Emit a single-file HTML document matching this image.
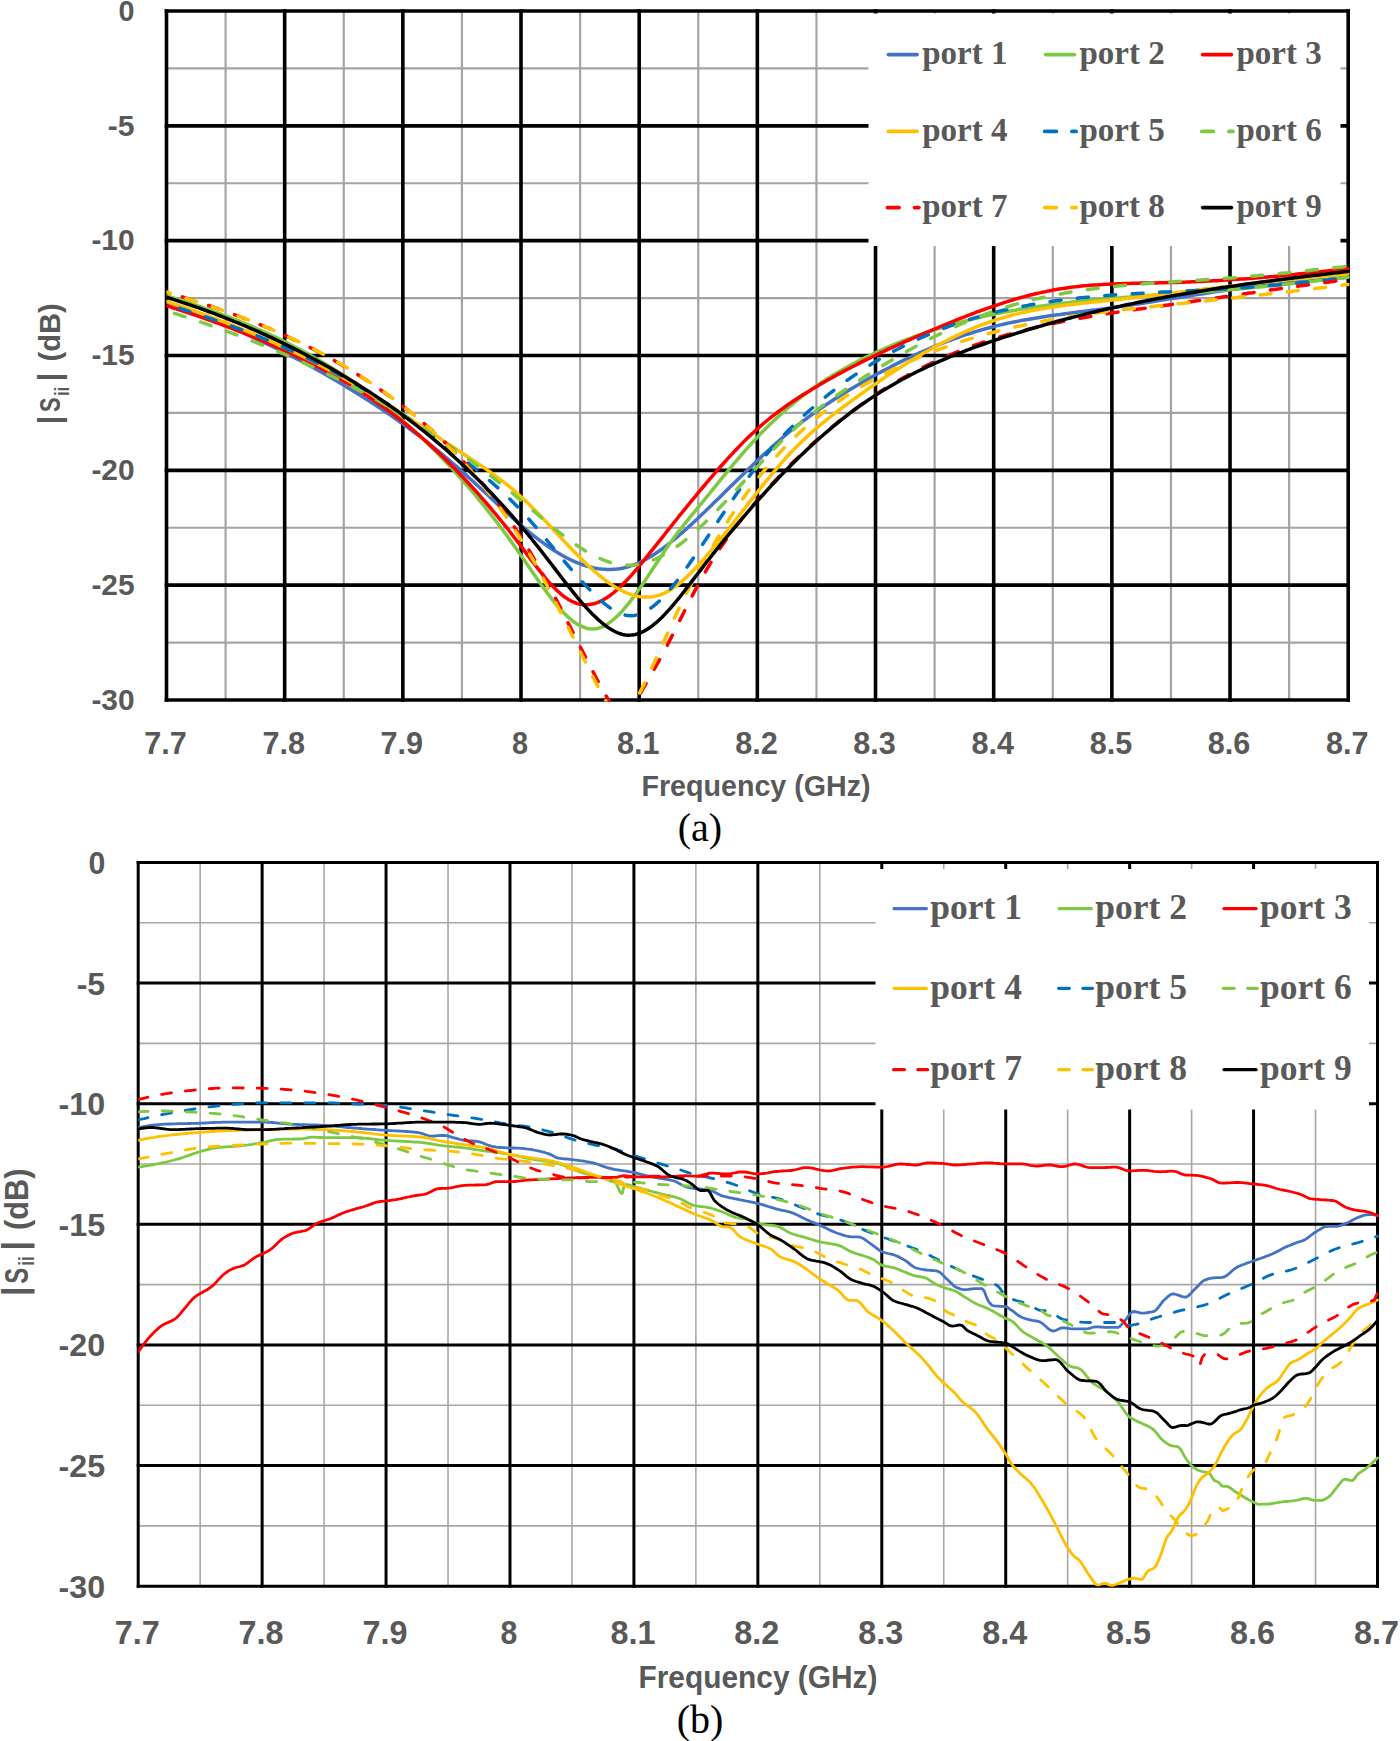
<!DOCTYPE html>
<html lang="en"><head><meta charset="utf-8"><title>|Sii| versus frequency, ports 1-9</title>
<style>html,body{margin:0;padding:0;background:#fff}svg{display:block}</style></head>
<body>
<svg width="1400" height="1741" viewBox="0 0 1400 1741">
<rect width="1400" height="1741" fill="#fff"/>
<defs>
<clipPath id="ct"><rect x="166.5" y="11.0" width="1183.2" height="690.5"/></clipPath>
<clipPath id="cb"><rect x="138.2" y="862.5" width="1240.8" height="724.9000000000001"/></clipPath>
</defs>
<g id="chart-a">
<line x1="225.59" y1="11.0" x2="225.59" y2="700.0" stroke="#a8a3a3" stroke-width="2.2"/>
<line x1="343.75" y1="11.0" x2="343.75" y2="700.0" stroke="#a8a3a3" stroke-width="2.2"/>
<line x1="461.93" y1="11.0" x2="461.93" y2="700.0" stroke="#a8a3a3" stroke-width="2.2"/>
<line x1="580.10" y1="11.0" x2="580.10" y2="700.0" stroke="#a8a3a3" stroke-width="2.2"/>
<line x1="698.27" y1="11.0" x2="698.27" y2="700.0" stroke="#a8a3a3" stroke-width="2.2"/>
<line x1="816.44" y1="11.0" x2="816.44" y2="700.0" stroke="#a8a3a3" stroke-width="2.2"/>
<line x1="934.61" y1="11.0" x2="934.61" y2="700.0" stroke="#a8a3a3" stroke-width="2.2"/>
<line x1="1052.78" y1="11.0" x2="1052.78" y2="700.0" stroke="#a8a3a3" stroke-width="2.2"/>
<line x1="1170.95" y1="11.0" x2="1170.95" y2="700.0" stroke="#a8a3a3" stroke-width="2.2"/>
<line x1="1289.12" y1="11.0" x2="1289.12" y2="700.0" stroke="#a8a3a3" stroke-width="2.2"/>
<line x1="166.5" y1="68.42" x2="1348.2" y2="68.42" stroke="#a8a3a3" stroke-width="2.2"/>
<line x1="166.5" y1="183.25" x2="1348.2" y2="183.25" stroke="#a8a3a3" stroke-width="2.2"/>
<line x1="166.5" y1="298.08" x2="1348.2" y2="298.08" stroke="#a8a3a3" stroke-width="2.2"/>
<line x1="166.5" y1="412.92" x2="1348.2" y2="412.92" stroke="#a8a3a3" stroke-width="2.2"/>
<line x1="166.5" y1="527.75" x2="1348.2" y2="527.75" stroke="#a8a3a3" stroke-width="2.2"/>
<line x1="166.5" y1="642.58" x2="1348.2" y2="642.58" stroke="#a8a3a3" stroke-width="2.2"/>
<line x1="166.50" y1="9.20" x2="166.50" y2="701.80" stroke="#000" stroke-width="3.6"/>
<line x1="284.67" y1="9.20" x2="284.67" y2="701.80" stroke="#000" stroke-width="3.6"/>
<line x1="402.84" y1="9.20" x2="402.84" y2="701.80" stroke="#000" stroke-width="3.6"/>
<line x1="521.01" y1="9.20" x2="521.01" y2="701.80" stroke="#000" stroke-width="3.6"/>
<line x1="639.18" y1="9.20" x2="639.18" y2="701.80" stroke="#000" stroke-width="3.6"/>
<line x1="757.35" y1="9.20" x2="757.35" y2="701.80" stroke="#000" stroke-width="3.6"/>
<line x1="875.52" y1="9.20" x2="875.52" y2="701.80" stroke="#000" stroke-width="3.6"/>
<line x1="993.69" y1="9.20" x2="993.69" y2="701.80" stroke="#000" stroke-width="3.6"/>
<line x1="1111.86" y1="9.20" x2="1111.86" y2="701.80" stroke="#000" stroke-width="3.6"/>
<line x1="1230.03" y1="9.20" x2="1230.03" y2="701.80" stroke="#000" stroke-width="3.6"/>
<line x1="1348.20" y1="9.20" x2="1348.20" y2="701.80" stroke="#000" stroke-width="3.6"/>
<line x1="164.70" y1="11.00" x2="1350.00" y2="11.00" stroke="#000" stroke-width="3.6"/>
<line x1="164.70" y1="125.83" x2="1350.00" y2="125.83" stroke="#000" stroke-width="3.6"/>
<line x1="164.70" y1="240.67" x2="1350.00" y2="240.67" stroke="#000" stroke-width="3.6"/>
<line x1="164.70" y1="355.50" x2="1350.00" y2="355.50" stroke="#000" stroke-width="3.6"/>
<line x1="164.70" y1="470.33" x2="1350.00" y2="470.33" stroke="#000" stroke-width="3.6"/>
<line x1="164.70" y1="585.17" x2="1350.00" y2="585.17" stroke="#000" stroke-width="3.6"/>
<line x1="164.70" y1="700.00" x2="1350.00" y2="700.00" stroke="#000" stroke-width="3.6"/>
<g clip-path="url(#ct)">
<path d="M166.5,301.9 L169.5,303.0 L172.5,304.1 L175.5,305.2 L178.5,306.3 L181.5,307.4 L184.5,308.5 L187.5,309.7 L190.5,310.8 L193.5,312.0 L196.5,313.1 L199.5,314.3 L202.5,315.5 L205.5,316.7 L208.5,317.9 L211.5,319.1 L214.5,320.4 L217.5,321.6 L220.5,322.9 L223.5,324.2 L226.5,325.4 L229.5,326.7 L232.5,328.0 L235.5,329.3 L238.5,330.7 L241.5,332.0 L244.5,333.3 L247.5,334.7 L250.5,336.1 L253.5,337.5 L256.5,338.9 L259.5,340.3 L262.5,341.7 L265.5,343.1 L268.5,344.6 L271.5,346.0 L274.5,347.5 L277.5,349.0 L280.5,350.5 L283.5,352.0 L286.5,353.5 L289.5,355.0 L292.5,356.6 L295.5,358.2 L298.5,359.7 L301.5,361.3 L304.5,362.9 L307.5,364.5 L310.5,366.2 L313.5,367.8 L316.5,369.5 L319.5,371.2 L322.5,372.8 L325.5,374.5 L328.5,376.3 L331.5,378.0 L334.5,379.7 L337.5,381.5 L340.5,383.3 L343.5,385.1 L346.5,386.9 L349.5,388.7 L352.5,390.5 L355.5,392.4 L358.5,394.2 L361.5,396.1 L364.5,398.0 L367.5,399.9 L370.5,401.9 L373.5,403.8 L376.5,405.8 L379.5,407.8 L382.5,409.8 L385.5,411.8 L388.5,413.9 L391.5,415.9 L394.5,418.0 L397.5,420.1 L400.5,422.3 L403.5,424.4 L406.5,426.6 L409.5,428.8 L412.5,431.0 L415.5,433.3 L418.5,435.5 L421.5,437.8 L424.5,440.2 L427.5,442.5 L430.5,444.9 L433.5,447.3 L436.5,449.7 L439.5,452.1 L442.5,454.6 L445.5,457.1 L448.5,459.6 L451.5,462.2 L454.5,464.8 L457.5,467.4 L460.5,470.1 L463.5,472.7 L466.5,475.4 L469.5,478.2 L472.5,480.9 L475.5,483.7 L478.5,486.5 L481.5,489.2 L484.5,492.0 L487.5,494.8 L490.5,497.6 L493.5,500.4 L496.5,503.2 L499.5,506.0 L502.5,508.8 L505.5,511.5 L508.5,514.2 L511.5,516.9 L514.5,519.6 L517.5,522.2 L520.5,524.8 L523.5,527.4 L526.5,529.9 L529.5,532.4 L532.5,534.8 L535.5,537.2 L538.5,539.5 L541.5,541.7 L544.5,543.9 L547.5,546.0 L550.5,548.1 L553.5,550.1 L556.5,552.0 L559.5,553.8 L562.5,555.5 L565.5,557.2 L568.5,558.7 L571.5,560.2 L574.5,561.6 L577.5,562.8 L580.5,564.0 L583.5,565.0 L586.5,566.0 L589.5,566.8 L592.5,567.6 L595.5,568.2 L598.5,568.7 L601.5,569.1 L604.5,569.3 L607.5,569.5 L610.5,569.5 L613.5,569.3 L616.5,569.1 L619.5,568.7 L622.5,568.2 L625.5,567.5 L628.5,566.7 L631.5,565.7 L634.5,564.6 L637.5,563.4 L640.5,562.1 L643.5,560.6 L646.5,559.0 L649.5,557.3 L652.5,555.4 L655.5,553.5 L658.5,551.5 L661.5,549.4 L664.5,547.2 L667.5,544.9 L670.5,542.5 L673.5,540.1 L676.5,537.6 L679.5,535.0 L682.5,532.4 L685.5,529.7 L688.5,527.0 L691.5,524.3 L694.5,521.5 L697.5,518.7 L700.5,515.8 L703.5,513.0 L706.5,510.1 L709.5,507.2 L712.5,504.3 L715.5,501.3 L718.5,498.4 L721.5,495.5 L724.5,492.5 L727.5,489.6 L730.5,486.6 L733.5,483.7 L736.5,480.7 L739.5,477.8 L742.5,474.9 L745.5,472.0 L748.5,469.1 L751.5,466.2 L754.5,463.3 L757.5,460.4 L760.5,457.6 L763.5,454.8 L766.5,452.0 L769.5,449.3 L772.5,446.6 L775.5,443.9 L778.5,441.2 L781.5,438.6 L784.5,436.0 L787.5,433.5 L790.5,431.0 L793.5,428.6 L796.5,426.2 L799.5,423.8 L802.5,421.5 L805.5,419.3 L808.5,417.0 L811.5,414.9 L814.5,412.7 L817.5,410.6 L820.5,408.5 L823.5,406.5 L826.5,404.4 L829.5,402.5 L832.5,400.5 L835.5,398.6 L838.5,396.7 L841.5,394.8 L844.5,392.9 L847.5,391.1 L850.5,389.3 L853.5,387.5 L856.5,385.7 L859.5,384.0 L862.5,382.2 L865.5,380.5 L868.5,378.8 L871.5,377.1 L874.5,375.5 L877.5,373.8 L880.5,372.2 L883.5,370.6 L886.5,369.0 L889.5,367.5 L892.5,365.9 L895.5,364.4 L898.5,362.9 L901.5,361.4 L904.5,359.9 L907.5,358.5 L910.5,357.1 L913.5,355.7 L916.5,354.3 L919.5,352.9 L922.5,351.6 L925.5,350.3 L928.5,349.0 L931.5,347.7 L934.5,346.5 L937.5,345.2 L940.5,344.0 L943.5,342.8 L946.5,341.7 L949.5,340.5 L952.5,339.4 L955.5,338.3 L958.5,337.3 L961.5,336.2 L964.5,335.2 L967.5,334.2 L970.5,333.3 L973.5,332.3 L976.5,331.4 L979.5,330.5 L982.5,329.6 L985.5,328.8 L988.5,328.0 L991.5,327.2 L994.5,326.4 L997.5,325.6 L1000.5,324.9 L1003.5,324.2 L1006.5,323.5 L1009.5,322.9 L1012.5,322.3 L1015.5,321.7 L1018.5,321.1 L1021.5,320.5 L1024.5,319.9 L1027.5,319.4 L1030.5,318.9 L1033.5,318.4 L1036.5,317.9 L1039.5,317.4 L1042.5,316.9 L1045.5,316.5 L1048.5,316.0 L1051.5,315.6 L1054.5,315.2 L1057.5,314.8 L1060.5,314.4 L1063.5,313.9 L1066.5,313.6 L1069.5,313.2 L1072.5,312.8 L1075.5,312.4 L1078.5,312.0 L1081.5,311.6 L1084.5,311.3 L1087.5,310.9 L1090.5,310.5 L1093.5,310.1 L1096.5,309.8 L1099.5,309.4 L1102.5,309.0 L1105.5,308.6 L1108.5,308.2 L1111.5,307.8 L1114.5,307.4 L1117.5,307.0 L1120.5,306.5 L1123.5,306.1 L1126.5,305.7 L1129.5,305.2 L1132.5,304.8 L1135.5,304.3 L1138.5,303.9 L1141.5,303.4 L1144.5,302.9 L1147.5,302.5 L1150.5,302.0 L1153.5,301.5 L1156.5,301.0 L1159.5,300.6 L1162.5,300.1 L1165.5,299.6 L1168.5,299.1 L1171.5,298.6 L1174.5,298.2 L1177.5,297.7 L1180.5,297.2 L1183.5,296.7 L1186.5,296.2 L1189.5,295.8 L1192.5,295.3 L1195.5,294.8 L1198.5,294.3 L1201.5,293.9 L1204.5,293.4 L1207.5,293.0 L1210.5,292.5 L1213.5,292.1 L1216.5,291.6 L1219.5,291.2 L1222.5,290.8 L1225.5,290.3 L1228.5,289.9 L1231.5,289.5 L1234.5,289.1 L1237.5,288.7 L1240.5,288.3 L1243.5,288.0 L1246.5,287.6 L1249.5,287.2 L1252.5,286.9 L1255.5,286.5 L1258.5,286.2 L1261.5,285.8 L1264.5,285.5 L1267.5,285.1 L1270.5,284.8 L1273.5,284.5 L1276.5,284.2 L1279.5,283.9 L1282.5,283.5 L1285.5,283.2 L1288.5,282.9 L1291.5,282.6 L1294.5,282.3 L1297.5,282.0 L1300.5,281.7 L1303.5,281.4 L1306.5,281.2 L1309.5,280.9 L1312.5,280.6 L1315.5,280.3 L1318.5,280.0 L1321.5,279.7 L1324.5,279.4 L1327.5,279.2 L1330.5,278.9 L1333.5,278.6 L1336.5,278.3 L1339.5,278.0 L1342.5,277.8 L1348.2,277.2" fill="none" stroke="#4472C4" stroke-width="3.5" stroke-linecap="round" stroke-linejoin="round"/>
<path d="M166.5,295.9 L169.5,296.8 L172.5,297.7 L175.5,298.7 L178.5,299.6 L181.5,300.6 L184.5,301.5 L187.5,302.5 L190.5,303.5 L193.5,304.5 L196.5,305.5 L199.5,306.5 L202.5,307.5 L205.5,308.6 L208.5,309.6 L211.5,310.7 L214.5,311.8 L217.5,312.9 L220.5,314.0 L223.5,315.1 L226.5,316.2 L229.5,317.4 L232.5,318.6 L235.5,319.7 L238.5,320.9 L241.5,322.2 L244.5,323.4 L247.5,324.6 L250.5,325.9 L253.5,327.2 L256.5,328.5 L259.5,329.8 L262.5,331.2 L265.5,332.5 L268.5,333.9 L271.5,335.3 L274.5,336.7 L277.5,338.1 L280.5,339.6 L283.5,341.1 L286.5,342.6 L289.5,344.1 L292.5,345.6 L295.5,347.2 L298.5,348.8 L301.5,350.4 L304.5,352.0 L307.5,353.6 L310.5,355.3 L313.5,357.0 L316.5,358.7 L319.5,360.5 L322.5,362.3 L325.5,364.1 L328.5,365.9 L331.5,367.7 L334.5,369.6 L337.5,371.5 L340.5,373.5 L343.5,375.4 L346.5,377.4 L349.5,379.4 L352.5,381.5 L355.5,383.6 L358.5,385.7 L361.5,387.8 L364.5,390.0 L367.5,392.2 L370.5,394.4 L373.5,396.7 L376.5,399.0 L379.5,401.3 L382.5,403.7 L385.5,406.1 L388.5,408.5 L391.5,411.0 L394.5,413.5 L397.5,416.0 L400.5,418.6 L403.5,421.2 L406.5,423.8 L409.5,426.5 L412.5,429.2 L415.5,432.0 L418.5,434.8 L421.5,437.6 L424.5,440.5 L427.5,443.4 L430.5,446.3 L433.5,449.3 L436.5,452.4 L439.5,455.4 L442.5,458.5 L445.5,461.7 L448.5,464.9 L451.5,468.1 L454.5,471.4 L457.5,474.7 L460.5,478.1 L463.5,481.5 L466.5,484.9 L469.5,488.4 L472.5,491.9 L475.5,495.5 L478.5,499.1 L481.5,502.8 L484.5,506.5 L487.5,510.3 L490.5,514.1 L493.5,517.9 L496.5,521.8 L499.5,525.8 L502.5,529.8 L505.5,533.8 L508.5,537.9 L511.5,542.0 L514.5,546.2 L517.5,550.4 L520.5,554.7 L523.5,559.1 L526.5,563.4 L529.5,567.8 L532.5,572.2 L535.5,576.5 L538.5,580.9 L541.5,585.1 L544.5,589.3 L547.5,593.4 L550.5,597.3 L553.5,601.1 L556.5,604.8 L559.5,608.3 L562.5,611.5 L565.5,614.6 L568.5,617.4 L571.5,620.0 L574.5,622.3 L577.5,624.2 L580.5,625.9 L583.5,627.2 L586.5,628.2 L589.5,628.8 L592.5,629.0 L595.5,628.8 L598.5,628.2 L601.5,627.2 L604.5,625.8 L607.5,624.0 L610.5,621.9 L613.5,619.5 L616.5,616.8 L619.5,613.9 L622.5,610.7 L625.5,607.2 L628.5,603.6 L631.5,599.7 L634.5,595.7 L637.5,591.6 L640.5,587.3 L643.5,582.9 L646.5,578.4 L649.5,573.9 L652.5,569.3 L655.5,564.8 L658.5,560.2 L661.5,555.7 L664.5,551.2 L667.5,546.8 L670.5,542.5 L673.5,538.3 L676.5,534.3 L679.5,530.4 L682.5,526.5 L685.5,522.8 L688.5,519.1 L691.5,515.4 L694.5,511.8 L697.5,508.2 L700.5,504.5 L703.5,500.8 L706.5,497.2 L709.5,493.5 L712.5,489.8 L715.5,486.1 L718.5,482.4 L721.5,478.7 L724.5,475.1 L727.5,471.4 L730.5,467.8 L733.5,464.2 L736.5,460.6 L739.5,457.1 L742.5,453.6 L745.5,450.2 L748.5,446.8 L751.5,443.5 L754.5,440.2 L757.5,437.0 L760.5,433.8 L763.5,430.7 L766.5,427.7 L769.5,424.8 L772.5,421.9 L775.5,419.1 L778.5,416.3 L781.5,413.6 L784.5,410.9 L787.5,408.3 L790.5,405.8 L793.5,403.3 L796.5,400.9 L799.5,398.5 L802.5,396.2 L805.5,393.9 L808.5,391.7 L811.5,389.5 L814.5,387.4 L817.5,385.3 L820.5,383.3 L823.5,381.3 L826.5,379.3 L829.5,377.4 L832.5,375.6 L835.5,373.7 L838.5,371.9 L841.5,370.2 L844.5,368.5 L847.5,366.8 L850.5,365.2 L853.5,363.5 L856.5,362.0 L859.5,360.4 L862.5,358.9 L865.5,357.4 L868.5,356.0 L871.5,354.5 L874.5,353.1 L877.5,351.7 L880.5,350.4 L883.5,349.1 L886.5,347.7 L889.5,346.5 L892.5,345.2 L895.5,343.9 L898.5,342.7 L901.5,341.5 L904.5,340.4 L907.5,339.2 L910.5,338.1 L913.5,337.0 L916.5,335.9 L919.5,334.8 L922.5,333.8 L925.5,332.7 L928.5,331.7 L931.5,330.7 L934.5,329.8 L937.5,328.8 L940.5,327.9 L943.5,327.0 L946.5,326.1 L949.5,325.2 L952.5,324.4 L955.5,323.5 L958.5,322.7 L961.5,321.9 L964.5,321.1 L967.5,320.4 L970.5,319.6 L973.5,318.9 L976.5,318.2 L979.5,317.5 L982.5,316.8 L985.5,316.1 L988.5,315.4 L991.5,314.8 L994.5,314.2 L997.5,313.6 L1000.5,313.0 L1003.5,312.4 L1006.5,311.8 L1009.5,311.2 L1012.5,310.7 L1015.5,310.2 L1018.5,309.6 L1021.5,309.1 L1024.5,308.6 L1027.5,308.1 L1030.5,307.7 L1033.5,307.2 L1036.5,306.8 L1039.5,306.3 L1042.5,305.9 L1045.5,305.5 L1048.5,305.1 L1051.5,304.7 L1054.5,304.3 L1057.5,303.9 L1060.5,303.5 L1063.5,303.2 L1066.5,302.8 L1069.5,302.5 L1072.5,302.1 L1075.5,301.8 L1078.5,301.5 L1081.5,301.2 L1084.5,300.9 L1087.5,300.6 L1090.5,300.3 L1093.5,300.0 L1096.5,299.7 L1099.5,299.4 L1102.5,299.2 L1105.5,298.9 L1108.5,298.6 L1111.5,298.4 L1114.5,298.1 L1117.5,297.9 L1120.5,297.7 L1123.5,297.4 L1126.5,297.2 L1129.5,297.0 L1132.5,296.7 L1135.5,296.5 L1138.5,296.3 L1141.5,296.1 L1144.5,295.9 L1147.5,295.6 L1150.5,295.4 L1153.5,295.2 L1156.5,295.0 L1159.5,294.8 L1162.5,294.6 L1165.5,294.4 L1168.5,294.2 L1171.5,294.0 L1174.5,293.8 L1177.5,293.6 L1180.5,293.4 L1183.5,293.2 L1186.5,293.0 L1189.5,292.8 L1192.5,292.5 L1195.5,292.3 L1198.5,292.1 L1201.5,291.9 L1204.5,291.7 L1207.5,291.5 L1210.5,291.2 L1213.5,291.0 L1216.5,290.8 L1219.5,290.5 L1222.5,290.3 L1225.5,290.0 L1228.5,289.8 L1231.5,289.5 L1234.5,289.3 L1237.5,289.0 L1240.5,288.7 L1243.5,288.5 L1246.5,288.2 L1249.5,287.9 L1252.5,287.6 L1255.5,287.3 L1258.5,287.0 L1261.5,286.7 L1264.5,286.4 L1267.5,286.1 L1270.5,285.8 L1273.5,285.5 L1276.5,285.2 L1279.5,284.9 L1282.5,284.6 L1285.5,284.3 L1288.5,283.9 L1291.5,283.6 L1294.5,283.3 L1297.5,282.9 L1300.5,282.6 L1303.5,282.3 L1306.5,281.9 L1309.5,281.6 L1312.5,281.3 L1315.5,280.9 L1318.5,280.6 L1321.5,280.2 L1324.5,279.9 L1327.5,279.6 L1330.5,279.2 L1333.5,278.9 L1336.5,278.5 L1339.5,278.2 L1342.5,277.8 L1348.2,277.2" fill="none" stroke="#7EC942" stroke-width="3.5" stroke-linecap="round" stroke-linejoin="round"/>
<path d="M166.5,305.7 L169.5,306.7 L172.5,307.7 L175.5,308.6 L178.5,309.6 L181.5,310.6 L184.5,311.6 L187.5,312.6 L190.5,313.6 L193.5,314.6 L196.5,315.7 L199.5,316.7 L202.5,317.7 L205.5,318.8 L208.5,319.9 L211.5,320.9 L214.5,322.0 L217.5,323.1 L220.5,324.2 L223.5,325.3 L226.5,326.4 L229.5,327.6 L232.5,328.7 L235.5,329.9 L238.5,331.1 L241.5,332.2 L244.5,333.4 L247.5,334.6 L250.5,335.8 L253.5,337.1 L256.5,338.3 L259.5,339.6 L262.5,340.8 L265.5,342.1 L268.5,343.4 L271.5,344.7 L274.5,346.0 L277.5,347.3 L280.5,348.7 L283.5,350.1 L286.5,351.4 L289.5,352.8 L292.5,354.2 L295.5,355.6 L298.5,357.1 L301.5,358.5 L304.5,360.0 L307.5,361.5 L310.5,363.0 L313.5,364.5 L316.5,366.1 L319.5,367.7 L322.5,369.3 L325.5,370.9 L328.5,372.5 L331.5,374.2 L334.5,375.8 L337.5,377.5 L340.5,379.3 L343.5,381.0 L346.5,382.8 L349.5,384.6 L352.5,386.5 L355.5,388.3 L358.5,390.2 L361.5,392.1 L364.5,394.1 L367.5,396.0 L370.5,398.1 L373.5,400.1 L376.5,402.2 L379.5,404.3 L382.5,406.4 L385.5,408.6 L388.5,410.8 L391.5,413.0 L394.5,415.3 L397.5,417.6 L400.5,419.9 L403.5,422.3 L406.5,424.7 L409.5,427.2 L412.5,429.6 L415.5,432.2 L418.5,434.7 L421.5,437.3 L424.5,440.0 L427.5,442.6 L430.5,445.4 L433.5,448.1 L436.5,450.9 L439.5,453.7 L442.5,456.6 L445.5,459.5 L448.5,462.5 L451.5,465.5 L454.5,468.5 L457.5,471.6 L460.5,474.7 L463.5,477.8 L466.5,481.0 L469.5,484.2 L472.5,487.5 L475.5,490.8 L478.5,494.2 L481.5,497.6 L484.5,501.0 L487.5,504.5 L490.5,508.0 L493.5,511.6 L496.5,515.2 L499.5,518.8 L502.5,522.5 L505.5,526.2 L508.5,530.0 L511.5,533.8 L514.5,537.7 L517.5,541.6 L520.5,545.5 L523.5,549.5 L526.5,553.6 L529.5,557.6 L532.5,561.6 L535.5,565.5 L538.5,569.4 L541.5,573.2 L544.5,576.9 L547.5,580.5 L550.5,583.9 L553.5,587.1 L556.5,590.1 L559.5,592.8 L562.5,595.4 L565.5,597.6 L568.5,599.5 L571.5,601.2 L574.5,602.5 L577.5,603.6 L580.5,604.3 L583.5,604.7 L586.5,604.8 L589.5,604.6 L592.5,604.1 L595.5,603.3 L598.5,602.2 L601.5,600.8 L604.5,599.1 L607.5,597.2 L610.5,595.1 L613.5,592.8 L616.5,590.2 L619.5,587.5 L622.5,584.6 L625.5,581.6 L628.5,578.4 L631.5,575.1 L634.5,571.6 L637.5,568.1 L640.5,564.5 L643.5,560.9 L646.5,557.2 L649.5,553.4 L652.5,549.7 L655.5,545.9 L658.5,542.1 L661.5,538.3 L664.5,534.5 L667.5,530.7 L670.5,527.0 L673.5,523.2 L676.5,519.5 L679.5,515.7 L682.5,512.0 L685.5,508.3 L688.5,504.6 L691.5,500.9 L694.5,497.3 L697.5,493.7 L700.5,490.0 L703.5,486.5 L706.5,482.9 L709.5,479.4 L712.5,475.8 L715.5,472.4 L718.5,468.9 L721.5,465.5 L724.5,462.2 L727.5,458.9 L730.5,455.6 L733.5,452.4 L736.5,449.2 L739.5,446.1 L742.5,443.0 L745.5,440.1 L748.5,437.1 L751.5,434.3 L754.5,431.5 L757.5,428.7 L760.5,426.1 L763.5,423.5 L766.5,421.0 L769.5,418.5 L772.5,416.1 L775.5,413.8 L778.5,411.5 L781.5,409.3 L784.5,407.2 L787.5,405.0 L790.5,403.0 L793.5,400.9 L796.5,399.0 L799.5,397.0 L802.5,395.1 L805.5,393.2 L808.5,391.4 L811.5,389.6 L814.5,387.8 L817.5,386.0 L820.5,384.2 L823.5,382.5 L826.5,380.8 L829.5,379.1 L832.5,377.4 L835.5,375.8 L838.5,374.1 L841.5,372.5 L844.5,370.9 L847.5,369.3 L850.5,367.8 L853.5,366.2 L856.5,364.7 L859.5,363.1 L862.5,361.6 L865.5,360.1 L868.5,358.7 L871.5,357.2 L874.5,355.8 L877.5,354.3 L880.5,352.9 L883.5,351.5 L886.5,350.1 L889.5,348.7 L892.5,347.3 L895.5,346.0 L898.5,344.6 L901.5,343.3 L904.5,341.9 L907.5,340.6 L910.5,339.3 L913.5,338.0 L916.5,336.7 L919.5,335.4 L922.5,334.1 L925.5,332.8 L928.5,331.6 L931.5,330.3 L934.5,329.0 L937.5,327.8 L940.5,326.5 L943.5,325.3 L946.5,324.1 L949.5,322.8 L952.5,321.6 L955.5,320.4 L958.5,319.2 L961.5,318.0 L964.5,316.8 L967.5,315.7 L970.5,314.5 L973.5,313.4 L976.5,312.2 L979.5,311.1 L982.5,310.0 L985.5,309.0 L988.5,307.9 L991.5,306.8 L994.5,305.8 L997.5,304.8 L1000.5,303.8 L1003.5,302.8 L1006.5,301.9 L1009.5,300.9 L1012.5,300.0 L1015.5,299.1 L1018.5,298.3 L1021.5,297.4 L1024.5,296.6 L1027.5,295.8 L1030.5,295.0 L1033.5,294.3 L1036.5,293.5 L1039.5,292.9 L1042.5,292.2 L1045.5,291.6 L1048.5,290.9 L1051.5,290.4 L1054.5,289.8 L1057.5,289.3 L1060.5,288.8 L1063.5,288.4 L1066.5,287.9 L1069.5,287.5 L1072.5,287.1 L1075.5,286.8 L1078.5,286.4 L1081.5,286.1 L1084.5,285.8 L1087.5,285.6 L1090.5,285.3 L1093.5,285.1 L1096.5,284.9 L1099.5,284.7 L1102.5,284.5 L1105.5,284.3 L1108.5,284.2 L1111.5,284.0 L1114.5,283.9 L1117.5,283.8 L1120.5,283.7 L1123.5,283.6 L1126.5,283.5 L1129.5,283.4 L1132.5,283.3 L1135.5,283.3 L1138.5,283.2 L1141.5,283.1 L1144.5,283.1 L1147.5,283.0 L1150.5,283.0 L1153.5,282.9 L1156.5,282.9 L1159.5,282.8 L1162.5,282.7 L1165.5,282.7 L1168.5,282.6 L1171.5,282.5 L1174.5,282.4 L1177.5,282.4 L1180.5,282.3 L1183.5,282.2 L1186.5,282.1 L1189.5,281.9 L1192.5,281.8 L1195.5,281.7 L1198.5,281.6 L1201.5,281.4 L1204.5,281.3 L1207.5,281.1 L1210.5,281.0 L1213.5,280.8 L1216.5,280.7 L1219.5,280.5 L1222.5,280.3 L1225.5,280.1 L1228.5,279.9 L1231.5,279.7 L1234.5,279.5 L1237.5,279.3 L1240.5,279.1 L1243.5,278.9 L1246.5,278.7 L1249.5,278.5 L1252.5,278.2 L1255.5,278.0 L1258.5,277.8 L1261.5,277.5 L1264.5,277.3 L1267.5,277.0 L1270.5,276.7 L1273.5,276.5 L1276.5,276.2 L1279.5,275.9 L1282.5,275.6 L1285.5,275.3 L1288.5,275.1 L1291.5,274.8 L1294.5,274.5 L1297.5,274.1 L1300.5,273.8 L1303.5,273.5 L1306.5,273.2 L1309.5,272.9 L1312.5,272.6 L1315.5,272.2 L1318.5,271.9 L1321.5,271.6 L1324.5,271.2 L1327.5,270.9 L1330.5,270.6 L1333.5,270.2 L1336.5,269.9 L1339.5,269.5 L1342.5,269.2 L1348.2,268.5" fill="none" stroke="#FF0000" stroke-width="3.5" stroke-linecap="round" stroke-linejoin="round"/>
<path d="M166.5,301.3 L169.5,302.3 L172.5,303.3 L175.5,304.4 L178.5,305.4 L181.5,306.4 L184.5,307.4 L187.5,308.5 L190.5,309.5 L193.5,310.6 L196.5,311.7 L199.5,312.8 L202.5,313.8 L205.5,314.9 L208.5,316.0 L211.5,317.2 L214.5,318.3 L217.5,319.4 L220.5,320.6 L223.5,321.7 L226.5,322.9 L229.5,324.1 L232.5,325.2 L235.5,326.4 L238.5,327.6 L241.5,328.9 L244.5,330.1 L247.5,331.3 L250.5,332.6 L253.5,333.8 L256.5,335.1 L259.5,336.4 L262.5,337.7 L265.5,339.0 L268.5,340.3 L271.5,341.7 L274.5,343.0 L277.5,344.4 L280.5,345.8 L283.5,347.1 L286.5,348.5 L289.5,350.0 L292.5,351.4 L295.5,352.8 L298.5,354.3 L301.5,355.8 L304.5,357.2 L307.5,358.7 L310.5,360.3 L313.5,361.8 L316.5,363.3 L319.5,364.9 L322.5,366.5 L325.5,368.1 L328.5,369.7 L331.5,371.3 L334.5,372.9 L337.5,374.6 L340.5,376.3 L343.5,377.9 L346.5,379.6 L349.5,381.4 L352.5,383.1 L355.5,384.9 L358.5,386.6 L361.5,388.4 L364.5,390.2 L367.5,392.0 L370.5,393.8 L373.5,395.7 L376.5,397.5 L379.5,399.4 L382.5,401.2 L385.5,403.1 L388.5,405.0 L391.5,406.9 L394.5,408.8 L397.5,410.7 L400.5,412.7 L403.5,414.6 L406.5,416.5 L409.5,418.5 L412.5,420.4 L415.5,422.4 L418.5,424.3 L421.5,426.3 L424.5,428.3 L427.5,430.2 L430.5,432.2 L433.5,434.2 L436.5,436.2 L439.5,438.1 L442.5,440.1 L445.5,442.1 L448.5,444.1 L451.5,446.1 L454.5,448.0 L457.5,450.0 L460.5,452.0 L463.5,454.0 L466.5,455.9 L469.5,457.9 L472.5,459.9 L475.5,461.9 L478.5,463.9 L481.5,465.9 L484.5,468.0 L487.5,470.1 L490.5,472.2 L493.5,474.4 L496.5,476.6 L499.5,478.8 L502.5,481.1 L505.5,483.5 L508.5,485.9 L511.5,488.4 L514.5,490.9 L517.5,493.5 L520.5,496.2 L523.5,499.0 L526.5,501.8 L529.5,504.7 L532.5,507.7 L535.5,510.8 L538.5,513.8 L541.5,517.0 L544.5,520.1 L547.5,523.3 L550.5,526.5 L553.5,529.8 L556.5,533.0 L559.5,536.2 L562.5,539.4 L565.5,542.6 L568.5,545.8 L571.5,549.0 L574.5,552.1 L577.5,555.1 L580.5,558.1 L583.5,561.1 L586.5,564.0 L589.5,566.8 L592.5,569.6 L595.5,572.2 L598.5,574.8 L601.5,577.2 L604.5,579.6 L607.5,581.8 L610.5,583.9 L613.5,585.9 L616.5,587.7 L619.5,589.4 L622.5,591.0 L625.5,592.4 L628.5,593.6 L631.5,594.6 L634.5,595.5 L637.5,596.2 L640.5,596.7 L643.5,597.0 L646.5,597.1 L649.5,597.0 L652.5,596.7 L655.5,596.1 L658.5,595.3 L661.5,594.3 L664.5,593.1 L667.5,591.6 L670.5,589.9 L673.5,587.9 L676.5,585.8 L679.5,583.4 L682.5,580.9 L685.5,578.1 L688.5,575.3 L691.5,572.3 L694.5,569.2 L697.5,566.0 L700.5,562.7 L703.5,559.3 L706.5,555.9 L709.5,552.4 L712.5,548.8 L715.5,545.2 L718.5,541.5 L721.5,537.8 L724.5,534.1 L727.5,530.3 L730.5,526.5 L733.5,522.7 L736.5,518.8 L739.5,515.0 L742.5,511.1 L745.5,507.3 L748.5,503.4 L751.5,499.6 L754.5,495.8 L757.5,492.0 L760.5,488.2 L763.5,484.4 L766.5,480.7 L769.5,477.0 L772.5,473.4 L775.5,469.9 L778.5,466.4 L781.5,462.9 L784.5,459.5 L787.5,456.2 L790.5,453.0 L793.5,449.9 L796.5,446.8 L799.5,443.8 L802.5,440.9 L805.5,438.1 L808.5,435.3 L811.5,432.6 L814.5,429.9 L817.5,427.4 L820.5,424.8 L823.5,422.3 L826.5,419.9 L829.5,417.5 L832.5,415.1 L835.5,412.8 L838.5,410.5 L841.5,408.2 L844.5,406.0 L847.5,403.8 L850.5,401.6 L853.5,399.4 L856.5,397.3 L859.5,395.1 L862.5,393.0 L865.5,390.9 L868.5,388.7 L871.5,386.6 L874.5,384.6 L877.5,382.5 L880.5,380.5 L883.5,378.4 L886.5,376.4 L889.5,374.4 L892.5,372.4 L895.5,370.5 L898.5,368.5 L901.5,366.6 L904.5,364.7 L907.5,362.8 L910.5,361.0 L913.5,359.2 L916.5,357.3 L919.5,355.6 L922.5,353.8 L925.5,352.1 L928.5,350.4 L931.5,348.7 L934.5,347.0 L937.5,345.4 L940.5,343.8 L943.5,342.2 L946.5,340.7 L949.5,339.1 L952.5,337.7 L955.5,336.2 L958.5,334.8 L961.5,333.4 L964.5,332.0 L967.5,330.7 L970.5,329.4 L973.5,328.1 L976.5,326.9 L979.5,325.7 L982.5,324.6 L985.5,323.5 L988.5,322.4 L991.5,321.3 L994.5,320.3 L997.5,319.4 L1000.5,318.4 L1003.5,317.5 L1006.5,316.7 L1009.5,315.8 L1012.5,315.0 L1015.5,314.3 L1018.5,313.6 L1021.5,312.9 L1024.5,312.2 L1027.5,311.5 L1030.5,310.9 L1033.5,310.3 L1036.5,309.7 L1039.5,309.2 L1042.5,308.7 L1045.5,308.2 L1048.5,307.7 L1051.5,307.2 L1054.5,306.8 L1057.5,306.3 L1060.5,305.9 L1063.5,305.5 L1066.5,305.1 L1069.5,304.7 L1072.5,304.4 L1075.5,304.0 L1078.5,303.7 L1081.5,303.3 L1084.5,303.0 L1087.5,302.7 L1090.5,302.3 L1093.5,302.0 L1096.5,301.7 L1099.5,301.4 L1102.5,301.1 L1105.5,300.8 L1108.5,300.5 L1111.5,300.1 L1114.5,299.8 L1117.5,299.5 L1120.5,299.2 L1123.5,298.8 L1126.5,298.5 L1129.5,298.1 L1132.5,297.8 L1135.5,297.5 L1138.5,297.1 L1141.5,296.8 L1144.5,296.4 L1147.5,296.0 L1150.5,295.7 L1153.5,295.3 L1156.5,295.0 L1159.5,294.6 L1162.5,294.2 L1165.5,293.9 L1168.5,293.5 L1171.5,293.1 L1174.5,292.8 L1177.5,292.4 L1180.5,292.0 L1183.5,291.7 L1186.5,291.3 L1189.5,290.9 L1192.5,290.6 L1195.5,290.2 L1198.5,289.8 L1201.5,289.5 L1204.5,289.1 L1207.5,288.7 L1210.5,288.4 L1213.5,288.0 L1216.5,287.7 L1219.5,287.3 L1222.5,286.9 L1225.5,286.6 L1228.5,286.2 L1231.5,285.9 L1234.5,285.5 L1237.5,285.2 L1240.5,284.8 L1243.5,284.5 L1246.5,284.2 L1249.5,283.8 L1252.5,283.5 L1255.5,283.2 L1258.5,282.8 L1261.5,282.5 L1264.5,282.2 L1267.5,281.9 L1270.5,281.5 L1273.5,281.2 L1276.5,280.9 L1279.5,280.6 L1282.5,280.3 L1285.5,280.0 L1288.5,279.6 L1291.5,279.3 L1294.5,279.0 L1297.5,278.7 L1300.5,278.4 L1303.5,278.1 L1306.5,277.8 L1309.5,277.5 L1312.5,277.2 L1315.5,276.9 L1318.5,276.6 L1321.5,276.3 L1324.5,276.0 L1327.5,275.7 L1330.5,275.4 L1333.5,275.1 L1336.5,274.8 L1339.5,274.5 L1342.5,274.2 L1348.2,273.7" fill="none" stroke="#FFC000" stroke-width="3.5" stroke-linecap="round" stroke-linejoin="round"/>
<path d="M166.5,304.1 L169.5,305.0 L172.5,306.0 L175.5,306.9 L178.5,307.9 L181.5,308.9 L184.5,309.8 L187.5,310.8 L190.5,311.8 L193.5,312.8 L196.5,313.8 L199.5,314.8 L202.5,315.8 L205.5,316.9 L208.5,317.9 L211.5,318.9 L214.5,320.0 L217.5,321.0 L220.5,322.1 L223.5,323.2 L226.5,324.3 L229.5,325.4 L232.5,326.5 L235.5,327.6 L238.5,328.7 L241.5,329.9 L244.5,331.0 L247.5,332.2 L250.5,333.3 L253.5,334.5 L256.5,335.7 L259.5,336.9 L262.5,338.2 L265.5,339.4 L268.5,340.6 L271.5,341.9 L274.5,343.2 L277.5,344.5 L280.5,345.8 L283.5,347.1 L286.5,348.5 L289.5,349.8 L292.5,351.2 L295.5,352.6 L298.5,354.0 L301.5,355.4 L304.5,356.8 L307.5,358.3 L310.5,359.8 L313.5,361.3 L316.5,362.8 L319.5,364.3 L322.5,365.8 L325.5,367.4 L328.5,369.0 L331.5,370.6 L334.5,372.2 L337.5,373.9 L340.5,375.5 L343.5,377.2 L346.5,378.9 L349.5,380.7 L352.5,382.4 L355.5,384.2 L358.5,386.0 L361.5,387.8 L364.5,389.6 L367.5,391.5 L370.5,393.3 L373.5,395.2 L376.5,397.1 L379.5,399.1 L382.5,401.0 L385.5,403.0 L388.5,404.9 L391.5,406.9 L394.5,409.0 L397.5,411.0 L400.5,413.0 L403.5,415.1 L406.5,417.2 L409.5,419.3 L412.5,421.4 L415.5,423.5 L418.5,425.6 L421.5,427.8 L424.5,430.0 L427.5,432.2 L430.5,434.4 L433.5,436.6 L436.5,438.8 L439.5,441.0 L442.5,443.3 L445.5,445.5 L448.5,447.8 L451.5,450.1 L454.5,452.4 L457.5,454.7 L460.5,457.0 L463.5,459.4 L466.5,461.7 L469.5,464.1 L472.5,466.5 L475.5,468.9 L478.5,471.3 L481.5,473.8 L484.5,476.2 L487.5,478.8 L490.5,481.3 L493.5,484.0 L496.5,486.6 L499.5,489.3 L502.5,492.1 L505.5,494.9 L508.5,497.8 L511.5,500.7 L514.5,503.7 L517.5,506.8 L520.5,510.0 L523.5,513.2 L526.5,516.5 L529.5,519.8 L532.5,523.3 L535.5,526.7 L538.5,530.3 L541.5,533.8 L544.5,537.4 L547.5,541.0 L550.5,544.6 L553.5,548.2 L556.5,551.8 L559.5,555.5 L562.5,559.1 L565.5,562.6 L568.5,566.2 L571.5,569.7 L574.5,573.1 L577.5,576.5 L580.5,579.9 L583.5,583.2 L586.5,586.4 L589.5,589.5 L592.5,592.5 L595.5,595.5 L598.5,598.3 L601.5,601.0 L604.5,603.6 L607.5,606.0 L610.5,608.2 L613.5,610.1 L616.5,611.8 L619.5,613.3 L622.5,614.4 L625.5,615.2 L628.5,615.6 L631.5,615.7 L634.5,615.4 L637.5,614.8 L640.5,613.8 L643.5,612.5 L646.5,610.9 L649.5,609.0 L652.5,606.8 L655.5,604.4 L658.5,601.7 L661.5,598.8 L664.5,595.7 L667.5,592.4 L670.5,588.9 L673.5,585.3 L676.5,581.5 L679.5,577.5 L682.5,573.5 L685.5,569.3 L688.5,565.1 L691.5,560.7 L694.5,556.4 L697.5,551.9 L700.5,547.5 L703.5,543.0 L706.5,538.5 L709.5,534.0 L712.5,529.5 L715.5,525.0 L718.5,520.5 L721.5,516.1 L724.5,511.6 L727.5,507.2 L730.5,502.8 L733.5,498.4 L736.5,494.1 L739.5,489.8 L742.5,485.6 L745.5,481.4 L748.5,477.3 L751.5,473.3 L754.5,469.4 L757.5,465.5 L760.5,461.8 L763.5,458.1 L766.5,454.5 L769.5,450.9 L772.5,447.5 L775.5,444.1 L778.5,440.8 L781.5,437.6 L784.5,434.4 L787.5,431.3 L790.5,428.3 L793.5,425.3 L796.5,422.4 L799.5,419.6 L802.5,416.8 L805.5,414.0 L808.5,411.3 L811.5,408.7 L814.5,406.1 L817.5,403.5 L820.5,401.0 L823.5,398.5 L826.5,396.1 L829.5,393.7 L832.5,391.3 L835.5,389.0 L838.5,386.7 L841.5,384.5 L844.5,382.3 L847.5,380.1 L850.5,378.0 L853.5,375.9 L856.5,373.8 L859.5,371.8 L862.5,369.8 L865.5,367.9 L868.5,366.0 L871.5,364.1 L874.5,362.2 L877.5,360.4 L880.5,358.6 L883.5,356.9 L886.5,355.2 L889.5,353.5 L892.5,351.9 L895.5,350.3 L898.5,348.7 L901.5,347.1 L904.5,345.6 L907.5,344.1 L910.5,342.7 L913.5,341.2 L916.5,339.8 L919.5,338.5 L922.5,337.1 L925.5,335.8 L928.5,334.5 L931.5,333.2 L934.5,332.0 L937.5,330.8 L940.5,329.6 L943.5,328.5 L946.5,327.3 L949.5,326.2 L952.5,325.2 L955.5,324.1 L958.5,323.1 L961.5,322.1 L964.5,321.1 L967.5,320.1 L970.5,319.2 L973.5,318.3 L976.5,317.4 L979.5,316.5 L982.5,315.7 L985.5,314.9 L988.5,314.1 L991.5,313.3 L994.5,312.5 L997.5,311.8 L1000.5,311.0 L1003.5,310.3 L1006.5,309.7 L1009.5,309.0 L1012.5,308.3 L1015.5,307.7 L1018.5,307.1 L1021.5,306.5 L1024.5,305.9 L1027.5,305.4 L1030.5,304.8 L1033.5,304.3 L1036.5,303.8 L1039.5,303.3 L1042.5,302.8 L1045.5,302.3 L1048.5,301.9 L1051.5,301.4 L1054.5,301.0 L1057.5,300.6 L1060.5,300.2 L1063.5,299.8 L1066.5,299.5 L1069.5,299.1 L1072.5,298.7 L1075.5,298.4 L1078.5,298.1 L1081.5,297.8 L1084.5,297.5 L1087.5,297.2 L1090.5,296.9 L1093.5,296.6 L1096.5,296.3 L1099.5,296.1 L1102.5,295.8 L1105.5,295.6 L1108.5,295.4 L1111.5,295.1 L1114.5,294.9 L1117.5,294.7 L1120.5,294.5 L1123.5,294.3 L1126.5,294.1 L1129.5,293.9 L1132.5,293.7 L1135.5,293.6 L1138.5,293.4 L1141.5,293.2 L1144.5,293.1 L1147.5,292.9 L1150.5,292.7 L1153.5,292.6 L1156.5,292.4 L1159.5,292.3 L1162.5,292.1 L1165.5,292.0 L1168.5,291.9 L1171.5,291.7 L1174.5,291.6 L1177.5,291.4 L1180.5,291.3 L1183.5,291.1 L1186.5,291.0 L1189.5,290.8 L1192.5,290.7 L1195.5,290.6 L1198.5,290.4 L1201.5,290.2 L1204.5,290.1 L1207.5,289.9 L1210.5,289.8 L1213.5,289.6 L1216.5,289.4 L1219.5,289.3 L1222.5,289.1 L1225.5,288.9 L1228.5,288.7 L1231.5,288.5 L1234.5,288.3 L1237.5,288.1 L1240.5,287.9 L1243.5,287.7 L1246.5,287.5 L1249.5,287.2 L1252.5,287.0 L1255.5,286.8 L1258.5,286.5 L1261.5,286.3 L1264.5,286.0 L1267.5,285.8 L1270.5,285.5 L1273.5,285.2 L1276.5,285.0 L1279.5,284.7 L1282.5,284.4 L1285.5,284.1 L1288.5,283.8 L1291.5,283.6 L1294.5,283.3 L1297.5,283.0 L1300.5,282.7 L1303.5,282.4 L1306.5,282.1 L1309.5,281.8 L1312.5,281.4 L1315.5,281.1 L1318.5,280.8 L1321.5,280.5 L1324.5,280.2 L1327.5,279.9 L1330.5,279.5 L1333.5,279.2 L1336.5,278.9 L1339.5,278.5 L1342.5,278.2 L1348.2,277.6" fill="none" stroke="#0070C0" stroke-width="3.5" stroke-linecap="round" stroke-linejoin="round" stroke-dasharray="11.0 16.5" stroke-dashoffset="14"/>
<path d="M166.5,310.9 L169.5,311.8 L172.5,312.8 L175.5,313.7 L178.5,314.7 L181.5,315.7 L184.5,316.6 L187.5,317.6 L190.5,318.6 L193.5,319.6 L196.5,320.6 L199.5,321.6 L202.5,322.7 L205.5,323.7 L208.5,324.7 L211.5,325.8 L214.5,326.9 L217.5,327.9 L220.5,329.0 L223.5,330.1 L226.5,331.2 L229.5,332.3 L232.5,333.4 L235.5,334.5 L238.5,335.7 L241.5,336.8 L244.5,338.0 L247.5,339.1 L250.5,340.3 L253.5,341.5 L256.5,342.7 L259.5,343.9 L262.5,345.1 L265.5,346.3 L268.5,347.5 L271.5,348.8 L274.5,350.0 L277.5,351.3 L280.5,352.6 L283.5,353.9 L286.5,355.2 L289.5,356.5 L292.5,357.8 L295.5,359.1 L298.5,360.5 L301.5,361.8 L304.5,363.2 L307.5,364.6 L310.5,366.0 L313.5,367.4 L316.5,368.8 L319.5,370.2 L322.5,371.6 L325.5,373.1 L328.5,374.6 L331.5,376.0 L334.5,377.5 L337.5,379.0 L340.5,380.6 L343.5,382.1 L346.5,383.6 L349.5,385.2 L352.5,386.8 L355.5,388.4 L358.5,390.0 L361.5,391.6 L364.5,393.2 L367.5,394.8 L370.5,396.5 L373.5,398.2 L376.5,399.8 L379.5,401.5 L382.5,403.3 L385.5,405.0 L388.5,406.7 L391.5,408.5 L394.5,410.3 L397.5,412.1 L400.5,413.9 L403.5,415.7 L406.5,417.5 L409.5,419.4 L412.5,421.2 L415.5,423.1 L418.5,425.0 L421.5,426.9 L424.5,428.9 L427.5,430.8 L430.5,432.8 L433.5,434.8 L436.5,436.8 L439.5,438.8 L442.5,440.8 L445.5,442.8 L448.5,444.9 L451.5,447.0 L454.5,449.1 L457.5,451.2 L460.5,453.3 L463.5,455.5 L466.5,457.7 L469.5,459.9 L472.5,462.1 L475.5,464.3 L478.5,466.5 L481.5,468.8 L484.5,471.1 L487.5,473.4 L490.5,475.7 L493.5,478.0 L496.5,480.4 L499.5,482.7 L502.5,485.1 L505.5,487.5 L508.5,490.0 L511.5,492.4 L514.5,494.9 L517.5,497.4 L520.5,499.9 L523.5,502.4 L526.5,504.9 L529.5,507.5 L532.5,510.1 L535.5,512.6 L538.5,515.2 L541.5,517.7 L544.5,520.3 L547.5,522.8 L550.5,525.3 L553.5,527.8 L556.5,530.2 L559.5,532.6 L562.5,534.9 L565.5,537.2 L568.5,539.5 L571.5,541.7 L574.5,543.8 L577.5,545.8 L580.5,547.8 L583.5,549.7 L586.5,551.5 L589.5,553.3 L592.5,554.9 L595.5,556.4 L598.5,557.8 L601.5,559.2 L604.5,560.4 L607.5,561.5 L610.5,562.4 L613.5,563.2 L616.5,563.9 L619.5,564.5 L622.5,564.9 L625.5,565.1 L628.5,565.2 L631.5,565.1 L634.5,564.9 L637.5,564.5 L640.5,563.9 L643.5,563.2 L646.5,562.4 L649.5,561.4 L652.5,560.2 L655.5,559.0 L658.5,557.6 L661.5,556.1 L664.5,554.4 L667.5,552.7 L670.5,550.8 L673.5,548.8 L676.5,546.7 L679.5,544.6 L682.5,542.3 L685.5,539.9 L688.5,537.4 L691.5,534.9 L694.5,532.3 L697.5,529.6 L700.5,526.8 L703.5,524.0 L706.5,521.1 L709.5,518.1 L712.5,515.1 L715.5,512.0 L718.5,508.9 L721.5,505.8 L724.5,502.6 L727.5,499.4 L730.5,496.1 L733.5,492.9 L736.5,489.6 L739.5,486.3 L742.5,483.0 L745.5,479.7 L748.5,476.4 L751.5,473.1 L754.5,469.8 L757.5,466.5 L760.5,463.2 L763.5,460.0 L766.5,456.8 L769.5,453.6 L772.5,450.4 L775.5,447.3 L778.5,444.2 L781.5,441.2 L784.5,438.3 L787.5,435.3 L790.5,432.5 L793.5,429.7 L796.5,427.0 L799.5,424.3 L802.5,421.8 L805.5,419.2 L808.5,416.7 L811.5,414.3 L814.5,411.9 L817.5,409.5 L820.5,407.2 L823.5,405.0 L826.5,402.8 L829.5,400.6 L832.5,398.4 L835.5,396.3 L838.5,394.2 L841.5,392.2 L844.5,390.1 L847.5,388.1 L850.5,386.1 L853.5,384.1 L856.5,382.2 L859.5,380.2 L862.5,378.3 L865.5,376.3 L868.5,374.4 L871.5,372.5 L874.5,370.6 L877.5,368.8 L880.5,366.9 L883.5,365.1 L886.5,363.3 L889.5,361.5 L892.5,359.7 L895.5,357.9 L898.5,356.2 L901.5,354.4 L904.5,352.7 L907.5,351.0 L910.5,349.3 L913.5,347.7 L916.5,346.0 L919.5,344.4 L922.5,342.8 L925.5,341.2 L928.5,339.7 L931.5,338.1 L934.5,336.6 L937.5,335.1 L940.5,333.6 L943.5,332.2 L946.5,330.7 L949.5,329.3 L952.5,327.9 L955.5,326.6 L958.5,325.2 L961.5,323.9 L964.5,322.6 L967.5,321.3 L970.5,320.1 L973.5,318.9 L976.5,317.7 L979.5,316.5 L982.5,315.3 L985.5,314.2 L988.5,313.1 L991.5,312.0 L994.5,311.0 L997.5,310.0 L1000.5,309.0 L1003.5,308.0 L1006.5,307.1 L1009.5,306.1 L1012.5,305.2 L1015.5,304.4 L1018.5,303.5 L1021.5,302.7 L1024.5,301.9 L1027.5,301.1 L1030.5,300.4 L1033.5,299.6 L1036.5,298.9 L1039.5,298.2 L1042.5,297.5 L1045.5,296.9 L1048.5,296.3 L1051.5,295.6 L1054.5,295.0 L1057.5,294.5 L1060.5,293.9 L1063.5,293.4 L1066.5,292.8 L1069.5,292.3 L1072.5,291.8 L1075.5,291.3 L1078.5,290.9 L1081.5,290.4 L1084.5,290.0 L1087.5,289.6 L1090.5,289.2 L1093.5,288.8 L1096.5,288.4 L1099.5,288.0 L1102.5,287.7 L1105.5,287.3 L1108.5,287.0 L1111.5,286.7 L1114.5,286.4 L1117.5,286.1 L1120.5,285.8 L1123.5,285.5 L1126.5,285.2 L1129.5,284.9 L1132.5,284.7 L1135.5,284.4 L1138.5,284.2 L1141.5,284.0 L1144.5,283.7 L1147.5,283.5 L1150.5,283.3 L1153.5,283.1 L1156.5,282.8 L1159.5,282.6 L1162.5,282.4 L1165.5,282.2 L1168.5,282.0 L1171.5,281.9 L1174.5,281.7 L1177.5,281.5 L1180.5,281.3 L1183.5,281.1 L1186.5,280.9 L1189.5,280.7 L1192.5,280.5 L1195.5,280.3 L1198.5,280.2 L1201.5,280.0 L1204.5,279.8 L1207.5,279.6 L1210.5,279.4 L1213.5,279.2 L1216.5,279.0 L1219.5,278.8 L1222.5,278.6 L1225.5,278.3 L1228.5,278.1 L1231.5,277.9 L1234.5,277.7 L1237.5,277.4 L1240.5,277.2 L1243.5,276.9 L1246.5,276.7 L1249.5,276.4 L1252.5,276.1 L1255.5,275.9 L1258.5,275.6 L1261.5,275.3 L1264.5,275.0 L1267.5,274.7 L1270.5,274.5 L1273.5,274.2 L1276.5,273.9 L1279.5,273.6 L1282.5,273.3 L1285.5,273.0 L1288.5,272.7 L1291.5,272.3 L1294.5,272.0 L1297.5,271.7 L1300.5,271.4 L1303.5,271.1 L1306.5,270.8 L1309.5,270.4 L1312.5,270.1 L1315.5,269.8 L1318.5,269.5 L1321.5,269.1 L1324.5,268.8 L1327.5,268.5 L1330.5,268.2 L1333.5,267.8 L1336.5,267.5 L1339.5,267.2 L1342.5,266.9 L1348.2,266.2" fill="none" stroke="#7EC942" stroke-width="3.5" stroke-linecap="round" stroke-linejoin="round" stroke-dasharray="11.0 16.5" stroke-dashoffset="19.2"/>
<path d="M166.5,291.9 L169.5,292.9 L172.5,293.8 L175.5,294.7 L178.5,295.7 L181.5,296.6 L184.5,297.6 L187.5,298.5 L190.5,299.5 L193.5,300.5 L196.5,301.5 L199.5,302.5 L202.5,303.5 L205.5,304.5 L208.5,305.5 L211.5,306.5 L214.5,307.6 L217.5,308.6 L220.5,309.7 L223.5,310.7 L226.5,311.8 L229.5,312.9 L232.5,314.0 L235.5,315.1 L238.5,316.2 L241.5,317.4 L244.5,318.5 L247.5,319.7 L250.5,320.9 L253.5,322.1 L256.5,323.3 L259.5,324.5 L262.5,325.7 L265.5,327.0 L268.5,328.2 L271.5,329.5 L274.5,330.8 L277.5,332.1 L280.5,333.5 L283.5,334.8 L286.5,336.2 L289.5,337.6 L292.5,339.0 L295.5,340.4 L298.5,341.8 L301.5,343.3 L304.5,344.8 L307.5,346.3 L310.5,347.8 L313.5,349.3 L316.5,350.9 L319.5,352.5 L322.5,354.1 L325.5,355.7 L328.5,357.4 L331.5,359.0 L334.5,360.7 L337.5,362.4 L340.5,364.2 L343.5,365.9 L346.5,367.7 L349.5,369.5 L352.5,371.4 L355.5,373.2 L358.5,375.1 L361.5,377.0 L364.5,379.0 L367.5,380.9 L370.5,382.9 L373.5,385.0 L376.5,387.0 L379.5,389.1 L382.5,391.2 L385.5,393.3 L388.5,395.5 L391.5,397.7 L394.5,399.9 L397.5,402.1 L400.5,404.4 L403.5,406.7 L406.5,409.1 L409.5,411.4 L412.5,413.9 L415.5,416.3 L418.5,418.8 L421.5,421.3 L424.5,423.9 L427.5,426.5 L430.5,429.1 L433.5,431.8 L436.5,434.5 L439.5,437.3 L442.5,440.1 L445.5,443.0 L448.5,446.0 L451.5,449.0 L454.5,452.0 L457.5,455.1 L460.5,458.3 L463.5,461.5 L466.5,464.8 L469.5,468.2 L472.5,471.6 L475.5,475.1 L478.5,478.6 L481.5,482.2 L484.5,485.9 L487.5,489.7 L490.5,493.5 L493.5,497.5 L496.5,501.5 L499.5,505.5 L502.5,509.7 L505.5,513.9 L508.5,518.3 L511.5,522.7 L514.5,527.2 L517.5,531.7 L520.5,536.4 L523.5,541.2 L526.5,546.1 L529.5,551.0 L532.5,556.1 L535.5,561.2 L538.5,566.5 L541.5,571.8 L544.5,577.3 L547.5,582.8 L550.5,588.5 L553.5,594.2 L556.5,600.0 L559.5,605.8 L562.5,611.7 L565.5,617.6 L568.5,623.6 L571.5,629.5 L574.5,635.5 L577.5,641.5 L580.5,647.4 L583.5,653.3 L586.5,659.2 L589.5,665.0 L592.5,670.8 L595.5,676.5 L598.5,682.1 L601.5,687.6 L604.5,693.1 L607.5,698.4 L610.5,703.3 L613.5,707.7 L616.5,711.3 L619.5,713.8 L622.5,714.9 L625.5,714.4 L628.5,712.2 L631.5,708.3 L634.5,703.5 L637.5,698.3 L640.5,693.1 L643.5,687.9 L646.5,682.7 L649.5,677.5 L652.5,672.3 L655.5,667.0 L658.5,661.7 L661.5,656.2 L664.5,650.6 L667.5,644.8 L670.5,638.9 L673.5,633.0 L676.5,627.0 L679.5,621.0 L682.5,614.9 L685.5,609.0 L688.5,603.0 L691.5,597.1 L694.5,591.4 L697.5,585.8 L700.5,580.3 L703.5,575.0 L706.5,569.9 L709.5,564.9 L712.5,560.0 L715.5,555.3 L718.5,550.7 L721.5,546.3 L724.5,541.9 L727.5,537.7 L730.5,533.6 L733.5,529.6 L736.5,525.6 L739.5,521.8 L742.5,518.0 L745.5,514.3 L748.5,510.7 L751.5,507.1 L754.5,503.6 L757.5,500.2 L760.5,496.7 L763.5,493.4 L766.5,490.0 L769.5,486.7 L772.5,483.5 L775.5,480.2 L778.5,477.1 L781.5,473.9 L784.5,470.8 L787.5,467.8 L790.5,464.8 L793.5,461.8 L796.5,458.9 L799.5,456.0 L802.5,453.1 L805.5,450.3 L808.5,447.5 L811.5,444.8 L814.5,442.1 L817.5,439.4 L820.5,436.8 L823.5,434.2 L826.5,431.6 L829.5,429.1 L832.5,426.6 L835.5,424.1 L838.5,421.7 L841.5,419.4 L844.5,417.0 L847.5,414.7 L850.5,412.4 L853.5,410.2 L856.5,408.0 L859.5,405.8 L862.5,403.7 L865.5,401.6 L868.5,399.5 L871.5,397.4 L874.5,395.4 L877.5,393.5 L880.5,391.5 L883.5,389.6 L886.5,387.7 L889.5,385.9 L892.5,384.1 L895.5,382.3 L898.5,380.5 L901.5,378.8 L904.5,377.1 L907.5,375.4 L910.5,373.8 L913.5,372.2 L916.5,370.6 L919.5,369.1 L922.5,367.6 L925.5,366.1 L928.5,364.6 L931.5,363.2 L934.5,361.8 L937.5,360.4 L940.5,359.0 L943.5,357.7 L946.5,356.4 L949.5,355.1 L952.5,353.8 L955.5,352.6 L958.5,351.4 L961.5,350.2 L964.5,349.0 L967.5,347.9 L970.5,346.8 L973.5,345.7 L976.5,344.6 L979.5,343.6 L982.5,342.5 L985.5,341.5 L988.5,340.5 L991.5,339.6 L994.5,338.6 L997.5,337.7 L1000.5,336.8 L1003.5,335.9 L1006.5,335.0 L1009.5,334.2 L1012.5,333.3 L1015.5,332.5 L1018.5,331.7 L1021.5,330.9 L1024.5,330.1 L1027.5,329.4 L1030.5,328.6 L1033.5,327.9 L1036.5,327.2 L1039.5,326.5 L1042.5,325.8 L1045.5,325.1 L1048.5,324.5 L1051.5,323.8 L1054.5,323.2 L1057.5,322.6 L1060.5,322.0 L1063.5,321.4 L1066.5,320.8 L1069.5,320.2 L1072.5,319.7 L1075.5,319.1 L1078.5,318.6 L1081.5,318.0 L1084.5,317.5 L1087.5,317.0 L1090.5,316.5 L1093.5,316.0 L1096.5,315.5 L1099.5,315.0 L1102.5,314.5 L1105.5,314.0 L1108.5,313.6 L1111.5,313.1 L1114.5,312.6 L1117.5,312.2 L1120.5,311.7 L1123.5,311.3 L1126.5,310.9 L1129.5,310.4 L1132.5,310.0 L1135.5,309.6 L1138.5,309.1 L1141.5,308.7 L1144.5,308.3 L1147.5,307.9 L1150.5,307.4 L1153.5,307.0 L1156.5,306.6 L1159.5,306.2 L1162.5,305.7 L1165.5,305.3 L1168.5,304.9 L1171.5,304.5 L1174.5,304.0 L1177.5,303.6 L1180.5,303.2 L1183.5,302.8 L1186.5,302.3 L1189.5,301.9 L1192.5,301.5 L1195.5,301.0 L1198.5,300.6 L1201.5,300.2 L1204.5,299.7 L1207.5,299.3 L1210.5,298.8 L1213.5,298.4 L1216.5,298.0 L1219.5,297.5 L1222.5,297.1 L1225.5,296.6 L1228.5,296.2 L1231.5,295.7 L1234.5,295.3 L1237.5,294.9 L1240.5,294.4 L1243.5,294.0 L1246.5,293.5 L1249.5,293.1 L1252.5,292.7 L1255.5,292.2 L1258.5,291.8 L1261.5,291.4 L1264.5,290.9 L1267.5,290.5 L1270.5,290.0 L1273.5,289.6 L1276.5,289.2 L1279.5,288.8 L1282.5,288.3 L1285.5,287.9 L1288.5,287.5 L1291.5,287.1 L1294.5,286.6 L1297.5,286.2 L1300.5,285.8 L1303.5,285.4 L1306.5,285.0 L1309.5,284.6 L1312.5,284.2 L1315.5,283.7 L1318.5,283.3 L1321.5,282.9 L1324.5,282.5 L1327.5,282.2 L1330.5,281.8 L1333.5,281.4 L1336.5,281.0 L1339.5,280.6 L1342.5,280.2 L1348.2,279.5" fill="none" stroke="#FF0000" stroke-width="3.5" stroke-linecap="round" stroke-linejoin="round" stroke-dasharray="11.0 16.5" stroke-dashoffset="10.8"/>
<path d="M166.5,292.1 L169.5,293.1 L172.5,294.0 L175.5,294.9 L178.5,295.9 L181.5,296.8 L184.5,297.7 L187.5,298.7 L190.5,299.7 L193.5,300.6 L196.5,301.6 L199.5,302.6 L202.5,303.6 L205.5,304.6 L208.5,305.6 L211.5,306.6 L214.5,307.6 L217.5,308.7 L220.5,309.7 L223.5,310.8 L226.5,311.8 L229.5,312.9 L232.5,314.0 L235.5,315.1 L238.5,316.2 L241.5,317.3 L244.5,318.5 L247.5,319.6 L250.5,320.8 L253.5,322.0 L256.5,323.2 L259.5,324.4 L262.5,325.6 L265.5,326.8 L268.5,328.1 L271.5,329.4 L274.5,330.6 L277.5,331.9 L280.5,333.3 L283.5,334.6 L286.5,336.0 L289.5,337.3 L292.5,338.7 L295.5,340.1 L298.5,341.6 L301.5,343.0 L304.5,344.5 L307.5,346.0 L310.5,347.5 L313.5,349.0 L316.5,350.6 L319.5,352.2 L322.5,353.8 L325.5,355.4 L328.5,357.0 L331.5,358.7 L334.5,360.4 L337.5,362.1 L340.5,363.8 L343.5,365.6 L346.5,367.4 L349.5,369.2 L352.5,371.0 L355.5,372.9 L358.5,374.8 L361.5,376.7 L364.5,378.7 L367.5,380.7 L370.5,382.7 L373.5,384.7 L376.5,386.8 L379.5,388.8 L382.5,391.0 L385.5,393.1 L388.5,395.3 L391.5,397.5 L394.5,399.7 L397.5,402.0 L400.5,404.3 L403.5,406.6 L406.5,409.0 L409.5,411.4 L412.5,413.9 L415.5,416.3 L418.5,418.8 L421.5,421.4 L424.5,424.0 L427.5,426.6 L430.5,429.3 L433.5,432.0 L436.5,434.8 L439.5,437.7 L442.5,440.5 L445.5,443.5 L448.5,446.5 L451.5,449.5 L454.5,452.6 L457.5,455.8 L460.5,459.0 L463.5,462.3 L466.5,465.7 L469.5,469.1 L472.5,472.6 L475.5,476.1 L478.5,479.7 L481.5,483.4 L484.5,487.2 L487.5,491.1 L490.5,495.0 L493.5,499.0 L496.5,503.1 L499.5,507.3 L502.5,511.5 L505.5,515.9 L508.5,520.3 L511.5,524.8 L514.5,529.4 L517.5,534.1 L520.5,538.9 L523.5,543.8 L526.5,548.8 L529.5,553.9 L532.5,559.0 L535.5,564.3 L538.5,569.7 L541.5,575.2 L544.5,580.8 L547.5,586.5 L550.5,592.3 L553.5,598.1 L556.5,604.0 L559.5,610.0 L562.5,616.0 L565.5,622.0 L568.5,628.1 L571.5,634.1 L574.5,640.2 L577.5,646.3 L580.5,652.3 L583.5,658.3 L586.5,664.3 L589.5,670.2 L592.5,676.1 L595.5,681.9 L598.5,687.6 L601.5,693.2 L604.5,698.7 L607.5,704.0 L610.5,708.7 L613.5,712.7 L616.5,715.6 L619.5,717.2 L622.5,717.2 L625.5,715.5 L628.5,712.3 L631.5,708.0 L634.5,702.8 L637.5,697.2 L640.5,691.3 L643.5,685.2 L646.5,679.0 L649.5,672.7 L652.5,666.3 L655.5,659.8 L658.5,653.2 L661.5,646.6 L664.5,640.0 L667.5,633.3 L670.5,626.7 L673.5,620.1 L676.5,613.6 L679.5,607.3 L682.5,601.0 L685.5,595.0 L688.5,589.3 L691.5,583.8 L694.5,578.5 L697.5,573.2 L700.5,567.9 L703.5,562.6 L706.5,557.3 L709.5,552.0 L712.5,546.7 L715.5,541.6 L718.5,536.5 L721.5,531.5 L724.5,526.6 L727.5,521.8 L730.5,517.1 L733.5,512.5 L736.5,508.0 L739.5,503.5 L742.5,499.2 L745.5,495.0 L748.5,490.8 L751.5,486.8 L754.5,482.8 L757.5,478.9 L760.5,475.1 L763.5,471.4 L766.5,467.8 L769.5,464.2 L772.5,460.7 L775.5,457.3 L778.5,454.0 L781.5,450.8 L784.5,447.6 L787.5,444.5 L790.5,441.5 L793.5,438.5 L796.5,435.6 L799.5,432.8 L802.5,430.0 L805.5,427.3 L808.5,424.7 L811.5,422.1 L814.5,419.6 L817.5,417.1 L820.5,414.7 L823.5,412.3 L826.5,410.0 L829.5,407.8 L832.5,405.5 L835.5,403.4 L838.5,401.3 L841.5,399.2 L844.5,397.2 L847.5,395.2 L850.5,393.3 L853.5,391.4 L856.5,389.5 L859.5,387.7 L862.5,385.9 L865.5,384.1 L868.5,382.4 L871.5,380.7 L874.5,379.1 L877.5,377.4 L880.5,375.8 L883.5,374.2 L886.5,372.7 L889.5,371.2 L892.5,369.7 L895.5,368.2 L898.5,366.7 L901.5,365.3 L904.5,363.9 L907.5,362.5 L910.5,361.2 L913.5,359.8 L916.5,358.5 L919.5,357.2 L922.5,356.0 L925.5,354.7 L928.5,353.5 L931.5,352.3 L934.5,351.2 L937.5,350.0 L940.5,348.9 L943.5,347.8 L946.5,346.7 L949.5,345.6 L952.5,344.6 L955.5,343.6 L958.5,342.6 L961.5,341.6 L964.5,340.6 L967.5,339.7 L970.5,338.7 L973.5,337.8 L976.5,336.9 L979.5,336.1 L982.5,335.2 L985.5,334.4 L988.5,333.6 L991.5,332.7 L994.5,332.0 L997.5,331.2 L1000.5,330.4 L1003.5,329.7 L1006.5,329.0 L1009.5,328.3 L1012.5,327.6 L1015.5,326.9 L1018.5,326.2 L1021.5,325.6 L1024.5,324.9 L1027.5,324.3 L1030.5,323.7 L1033.5,323.1 L1036.5,322.5 L1039.5,321.9 L1042.5,321.4 L1045.5,320.8 L1048.5,320.3 L1051.5,319.7 L1054.5,319.2 L1057.5,318.7 L1060.5,318.2 L1063.5,317.7 L1066.5,317.2 L1069.5,316.8 L1072.5,316.3 L1075.5,315.9 L1078.5,315.4 L1081.5,315.0 L1084.5,314.6 L1087.5,314.1 L1090.5,313.7 L1093.5,313.3 L1096.5,312.9 L1099.5,312.5 L1102.5,312.2 L1105.5,311.8 L1108.5,311.4 L1111.5,311.1 L1114.5,310.7 L1117.5,310.3 L1120.5,310.0 L1123.5,309.6 L1126.5,309.3 L1129.5,309.0 L1132.5,308.6 L1135.5,308.3 L1138.5,308.0 L1141.5,307.6 L1144.5,307.3 L1147.5,307.0 L1150.5,306.7 L1153.5,306.4 L1156.5,306.0 L1159.5,305.7 L1162.5,305.4 L1165.5,305.1 L1168.5,304.8 L1171.5,304.5 L1174.5,304.2 L1177.5,303.8 L1180.5,303.5 L1183.5,303.2 L1186.5,302.9 L1189.5,302.6 L1192.5,302.3 L1195.5,302.0 L1198.5,301.6 L1201.5,301.3 L1204.5,301.0 L1207.5,300.7 L1210.5,300.4 L1213.5,300.0 L1216.5,299.7 L1219.5,299.4 L1222.5,299.1 L1225.5,298.8 L1228.5,298.4 L1231.5,298.1 L1234.5,297.8 L1237.5,297.5 L1240.5,297.1 L1243.5,296.8 L1246.5,296.5 L1249.5,296.1 L1252.5,295.8 L1255.5,295.5 L1258.5,295.1 L1261.5,294.8 L1264.5,294.5 L1267.5,294.1 L1270.5,293.8 L1273.5,293.4 L1276.5,293.1 L1279.5,292.8 L1282.5,292.4 L1285.5,292.1 L1288.5,291.7 L1291.5,291.4 L1294.5,291.0 L1297.5,290.7 L1300.5,290.3 L1303.5,289.9 L1306.5,289.6 L1309.5,289.2 L1312.5,288.9 L1315.5,288.5 L1318.5,288.1 L1321.5,287.8 L1324.5,287.4 L1327.5,287.0 L1330.5,286.6 L1333.5,286.3 L1336.5,285.9 L1339.5,285.5 L1342.5,285.1 L1348.2,284.4" fill="none" stroke="#FFC000" stroke-width="3.5" stroke-linecap="round" stroke-linejoin="round" stroke-dasharray="11.0 16.5" stroke-dashoffset="7.0"/>
<path d="M166.5,297.2 L169.5,298.2 L172.5,299.1 L175.5,300.1 L178.5,301.1 L181.5,302.1 L184.5,303.1 L187.5,304.1 L190.5,305.1 L193.5,306.1 L196.5,307.2 L199.5,308.2 L202.5,309.3 L205.5,310.4 L208.5,311.5 L211.5,312.6 L214.5,313.7 L217.5,314.9 L220.5,316.0 L223.5,317.2 L226.5,318.4 L229.5,319.6 L232.5,320.8 L235.5,322.0 L238.5,323.2 L241.5,324.5 L244.5,325.7 L247.5,327.0 L250.5,328.3 L253.5,329.6 L256.5,330.9 L259.5,332.2 L262.5,333.6 L265.5,334.9 L268.5,336.3 L271.5,337.7 L274.5,339.1 L277.5,340.5 L280.5,342.0 L283.5,343.4 L286.5,344.9 L289.5,346.4 L292.5,347.9 L295.5,349.4 L298.5,350.9 L301.5,352.5 L304.5,354.0 L307.5,355.6 L310.5,357.2 L313.5,358.8 L316.5,360.4 L319.5,362.1 L322.5,363.7 L325.5,365.4 L328.5,367.1 L331.5,368.8 L334.5,370.5 L337.5,372.3 L340.5,374.0 L343.5,375.8 L346.5,377.6 L349.5,379.4 L352.5,381.2 L355.5,383.1 L358.5,385.0 L361.5,386.9 L364.5,388.8 L367.5,390.7 L370.5,392.6 L373.5,394.6 L376.5,396.6 L379.5,398.6 L382.5,400.7 L385.5,402.7 L388.5,404.8 L391.5,406.9 L394.5,409.0 L397.5,411.2 L400.5,413.4 L403.5,415.6 L406.5,417.8 L409.5,420.1 L412.5,422.3 L415.5,424.6 L418.5,427.0 L421.5,429.3 L424.5,431.7 L427.5,434.2 L430.5,436.6 L433.5,439.1 L436.5,441.6 L439.5,444.1 L442.5,446.7 L445.5,449.3 L448.5,451.9 L451.5,454.6 L454.5,457.3 L457.5,460.0 L460.5,462.8 L463.5,465.6 L466.5,468.4 L469.5,471.3 L472.5,474.2 L475.5,477.1 L478.5,480.1 L481.5,483.1 L484.5,486.1 L487.5,489.2 L490.5,492.3 L493.5,495.5 L496.5,498.6 L499.5,501.9 L502.5,505.1 L505.5,508.4 L508.5,511.8 L511.5,515.2 L514.5,518.6 L517.5,522.1 L520.5,525.6 L523.5,529.1 L526.5,532.7 L529.5,536.4 L532.5,540.0 L535.5,543.8 L538.5,547.5 L541.5,551.3 L544.5,555.2 L547.5,559.1 L550.5,563.0 L553.5,566.9 L556.5,570.9 L559.5,574.8 L562.5,578.7 L565.5,582.6 L568.5,586.4 L571.5,590.2 L574.5,593.9 L577.5,597.6 L580.5,601.1 L583.5,604.6 L586.5,607.9 L589.5,611.1 L592.5,614.2 L595.5,617.1 L598.5,619.9 L601.5,622.5 L604.5,624.9 L607.5,627.1 L610.5,629.1 L613.5,630.8 L616.5,632.3 L619.5,633.5 L622.5,634.4 L625.5,634.9 L628.5,635.2 L631.5,635.1 L634.5,634.7 L637.5,633.9 L640.5,632.8 L643.5,631.4 L646.5,629.7 L649.5,627.8 L652.5,625.6 L655.5,623.2 L658.5,620.5 L661.5,617.7 L664.5,614.6 L667.5,611.4 L670.5,608.1 L673.5,604.6 L676.5,601.0 L679.5,597.3 L682.5,593.5 L685.5,589.7 L688.5,585.8 L691.5,581.9 L694.5,577.9 L697.5,574.0 L700.5,570.1 L703.5,566.2 L706.5,562.3 L709.5,558.5 L712.5,554.7 L715.5,550.9 L718.5,547.2 L721.5,543.4 L724.5,539.7 L727.5,536.0 L730.5,532.4 L733.5,528.8 L736.5,525.2 L739.5,521.6 L742.5,518.1 L745.5,514.6 L748.5,511.1 L751.5,507.6 L754.5,504.2 L757.5,500.8 L760.5,497.5 L763.5,494.2 L766.5,490.9 L769.5,487.6 L772.5,484.4 L775.5,481.2 L778.5,478.0 L781.5,474.9 L784.5,471.8 L787.5,468.7 L790.5,465.7 L793.5,462.7 L796.5,459.7 L799.5,456.8 L802.5,453.9 L805.5,451.1 L808.5,448.2 L811.5,445.5 L814.5,442.7 L817.5,440.0 L820.5,437.3 L823.5,434.7 L826.5,432.1 L829.5,429.6 L832.5,427.0 L835.5,424.6 L838.5,422.1 L841.5,419.7 L844.5,417.3 L847.5,415.0 L850.5,412.7 L853.5,410.5 L856.5,408.3 L859.5,406.1 L862.5,404.0 L865.5,402.0 L868.5,399.9 L871.5,397.9 L874.5,395.9 L877.5,394.0 L880.5,392.1 L883.5,390.3 L886.5,388.4 L889.5,386.7 L892.5,384.9 L895.5,383.2 L898.5,381.5 L901.5,379.8 L904.5,378.2 L907.5,376.6 L910.5,375.0 L913.5,373.5 L916.5,372.0 L919.5,370.5 L922.5,369.1 L925.5,367.6 L928.5,366.2 L931.5,364.8 L934.5,363.5 L937.5,362.2 L940.5,360.8 L943.5,359.6 L946.5,358.3 L949.5,357.0 L952.5,355.8 L955.5,354.6 L958.5,353.4 L961.5,352.3 L964.5,351.1 L967.5,350.0 L970.5,348.8 L973.5,347.7 L976.5,346.7 L979.5,345.6 L982.5,344.5 L985.5,343.5 L988.5,342.4 L991.5,341.4 L994.5,340.4 L997.5,339.4 L1000.5,338.4 L1003.5,337.4 L1006.5,336.4 L1009.5,335.5 L1012.5,334.5 L1015.5,333.6 L1018.5,332.6 L1021.5,331.7 L1024.5,330.8 L1027.5,329.9 L1030.5,329.0 L1033.5,328.1 L1036.5,327.2 L1039.5,326.4 L1042.5,325.5 L1045.5,324.6 L1048.5,323.8 L1051.5,323.0 L1054.5,322.1 L1057.5,321.3 L1060.5,320.5 L1063.5,319.7 L1066.5,318.9 L1069.5,318.2 L1072.5,317.4 L1075.5,316.6 L1078.5,315.9 L1081.5,315.1 L1084.5,314.4 L1087.5,313.6 L1090.5,312.9 L1093.5,312.2 L1096.5,311.5 L1099.5,310.8 L1102.5,310.1 L1105.5,309.4 L1108.5,308.7 L1111.5,308.1 L1114.5,307.4 L1117.5,306.7 L1120.5,306.1 L1123.5,305.4 L1126.5,304.8 L1129.5,304.2 L1132.5,303.6 L1135.5,302.9 L1138.5,302.3 L1141.5,301.7 L1144.5,301.1 L1147.5,300.5 L1150.5,300.0 L1153.5,299.4 L1156.5,298.8 L1159.5,298.2 L1162.5,297.7 L1165.5,297.1 L1168.5,296.6 L1171.5,296.0 L1174.5,295.5 L1177.5,295.0 L1180.5,294.5 L1183.5,293.9 L1186.5,293.4 L1189.5,292.9 L1192.5,292.4 L1195.5,291.9 L1198.5,291.4 L1201.5,290.9 L1204.5,290.4 L1207.5,290.0 L1210.5,289.5 L1213.5,289.0 L1216.5,288.6 L1219.5,288.1 L1222.5,287.6 L1225.5,287.2 L1228.5,286.7 L1231.5,286.3 L1234.5,285.9 L1237.5,285.4 L1240.5,285.0 L1243.5,284.6 L1246.5,284.1 L1249.5,283.7 L1252.5,283.3 L1255.5,282.9 L1258.5,282.5 L1261.5,282.1 L1264.5,281.7 L1267.5,281.3 L1270.5,280.9 L1273.5,280.5 L1276.5,280.1 L1279.5,279.7 L1282.5,279.3 L1285.5,278.9 L1288.5,278.6 L1291.5,278.2 L1294.5,277.8 L1297.5,277.4 L1300.5,277.1 L1303.5,276.7 L1306.5,276.3 L1309.5,276.0 L1312.5,275.6 L1315.5,275.2 L1318.5,274.9 L1321.5,274.5 L1324.5,274.2 L1327.5,273.8 L1330.5,273.5 L1333.5,273.1 L1336.5,272.8 L1339.5,272.4 L1342.5,272.1 L1348.2,271.4" fill="none" stroke="#000000" stroke-width="3.5" stroke-linecap="round" stroke-linejoin="round"/>
</g>
<rect x="868.5" y="13.5" width="472.0" height="232.5" fill="#fff"/>
<g font-family="'Liberation Serif', serif" font-weight="bold" font-size="33" fill="#595959">
<line x1="888.5" y1="54.6" x2="917.0" y2="54.6" stroke="#4472C4" stroke-width="3.9" stroke-linecap="round"/>
<text x="922.2" y="64.1">port 1</text>
<line x1="1045.8" y1="54.6" x2="1074.3" y2="54.6" stroke="#7EC942" stroke-width="3.9" stroke-linecap="round"/>
<text x="1079.5" y="64.1">port 2</text>
<line x1="1202.8" y1="54.6" x2="1231.3" y2="54.6" stroke="#FF0000" stroke-width="3.9" stroke-linecap="round"/>
<text x="1236.5" y="64.1">port 3</text>
<line x1="888.5" y1="131.4" x2="917.0" y2="131.4" stroke="#FFC000" stroke-width="3.9" stroke-linecap="round"/>
<text x="922.2" y="140.9">port 4</text>
<line x1="1044.8" y1="131.4" x2="1056.3" y2="131.4" stroke="#0070C0" stroke-width="3.9" stroke-linecap="round"/>
<line x1="1072.0" y1="131.4" x2="1076.0" y2="131.4" stroke="#0070C0" stroke-width="3.9" stroke-linecap="round"/>
<text x="1079.5" y="140.9">port 5</text>
<line x1="1201.8" y1="131.4" x2="1213.3" y2="131.4" stroke="#7EC942" stroke-width="3.9" stroke-linecap="round"/>
<line x1="1229.0" y1="131.4" x2="1233.0" y2="131.4" stroke="#7EC942" stroke-width="3.9" stroke-linecap="round"/>
<text x="1236.5" y="140.9">port 6</text>
<line x1="887.6" y1="207.6" x2="899.0" y2="207.6" stroke="#FF0000" stroke-width="3.9" stroke-linecap="round"/>
<line x1="914.7" y1="207.6" x2="918.8" y2="207.6" stroke="#FF0000" stroke-width="3.9" stroke-linecap="round"/>
<text x="922.2" y="217.1">port 7</text>
<line x1="1044.8" y1="207.6" x2="1056.3" y2="207.6" stroke="#FFC000" stroke-width="3.9" stroke-linecap="round"/>
<line x1="1072.0" y1="207.6" x2="1076.0" y2="207.6" stroke="#FFC000" stroke-width="3.9" stroke-linecap="round"/>
<text x="1079.5" y="217.1">port 8</text>
<line x1="1202.8" y1="207.6" x2="1231.3" y2="207.6" stroke="#000000" stroke-width="3.9" stroke-linecap="round"/>
<text x="1236.5" y="217.1">port 9</text>
</g>
<g font-family="'Liberation Sans', sans-serif" font-weight="bold" font-size="31" fill="#595959">
<text x="165.5" y="754.4" text-anchor="middle" textLength="42.5" lengthAdjust="spacingAndGlyphs">7.7</text>
<text x="283.7" y="754.4" text-anchor="middle" textLength="42.5" lengthAdjust="spacingAndGlyphs">7.8</text>
<text x="401.8" y="754.4" text-anchor="middle" textLength="42.5" lengthAdjust="spacingAndGlyphs">7.9</text>
<text x="520.0" y="754.4" text-anchor="middle" textLength="16.0" lengthAdjust="spacingAndGlyphs">8</text>
<text x="638.2" y="754.4" text-anchor="middle" textLength="42.5" lengthAdjust="spacingAndGlyphs">8.1</text>
<text x="756.4" y="754.4" text-anchor="middle" textLength="42.5" lengthAdjust="spacingAndGlyphs">8.2</text>
<text x="874.5" y="754.4" text-anchor="middle" textLength="42.5" lengthAdjust="spacingAndGlyphs">8.3</text>
<text x="992.7" y="754.4" text-anchor="middle" textLength="42.5" lengthAdjust="spacingAndGlyphs">8.4</text>
<text x="1110.9" y="754.4" text-anchor="middle" textLength="42.5" lengthAdjust="spacingAndGlyphs">8.5</text>
<text x="1229.0" y="754.4" text-anchor="middle" textLength="42.5" lengthAdjust="spacingAndGlyphs">8.6</text>
<text x="1347.2" y="754.4" text-anchor="middle" textLength="42.5" lengthAdjust="spacingAndGlyphs">8.7</text>
</g>
<g font-family="'Liberation Sans', sans-serif" font-weight="bold" font-size="30.2" fill="#595959">
<text x="134.6" y="20.7" text-anchor="end" textLength="16.0" lengthAdjust="spacingAndGlyphs">0</text>
<text x="134.6" y="135.5" text-anchor="end" textLength="26.8" lengthAdjust="spacingAndGlyphs">-5</text>
<text x="134.6" y="250.4" text-anchor="end" textLength="43.2" lengthAdjust="spacingAndGlyphs">-10</text>
<text x="134.6" y="365.2" text-anchor="end" textLength="43.2" lengthAdjust="spacingAndGlyphs">-15</text>
<text x="134.6" y="480.0" text-anchor="end" textLength="43.2" lengthAdjust="spacingAndGlyphs">-20</text>
<text x="134.6" y="594.9" text-anchor="end" textLength="43.2" lengthAdjust="spacingAndGlyphs">-25</text>
<text x="134.6" y="709.7" text-anchor="end" textLength="43.2" lengthAdjust="spacingAndGlyphs">-30</text>
</g>
<g transform="translate(60.2,364) rotate(-90)" font-family="'Liberation Sans', sans-serif" font-weight="bold" fill="#595959" text-anchor="middle">
<text x="-56.1" y="-0.4" font-size="31.4">|</text>
<text x="-40.6" y="0" font-size="29.5" textLength="14.6" lengthAdjust="spacingAndGlyphs">S</text>
<text x="-27.4" y="8.4" font-size="20.5" textLength="9.4" lengthAdjust="spacingAndGlyphs">ii</text>
<text x="-13.0" y="-0.4" font-size="31.4">|</text>
<text x="31.6" y="0" font-size="29.5" textLength="58.2" lengthAdjust="spacingAndGlyphs">(dB)</text>
</g>
<text x="756" y="796" text-anchor="middle" font-family="'Liberation Sans', sans-serif" font-weight="bold" font-size="29" fill="#595959" textLength="229" lengthAdjust="spacingAndGlyphs">Frequency (GHz)</text>
<text x="700" y="841" text-anchor="middle" font-family="'Liberation Serif', serif" font-size="40" fill="#000">(a)</text>
</g>
<g id="chart-b">
<line x1="200.16" y1="862.5" x2="200.16" y2="1586.2" stroke="#aaa6a6" stroke-width="1.6"/>
<line x1="324.09" y1="862.5" x2="324.09" y2="1586.2" stroke="#aaa6a6" stroke-width="1.6"/>
<line x1="448.02" y1="862.5" x2="448.02" y2="1586.2" stroke="#aaa6a6" stroke-width="1.6"/>
<line x1="571.95" y1="862.5" x2="571.95" y2="1586.2" stroke="#aaa6a6" stroke-width="1.6"/>
<line x1="695.88" y1="862.5" x2="695.88" y2="1586.2" stroke="#aaa6a6" stroke-width="1.6"/>
<line x1="819.82" y1="862.5" x2="819.82" y2="1586.2" stroke="#aaa6a6" stroke-width="1.6"/>
<line x1="943.74" y1="862.5" x2="943.74" y2="1586.2" stroke="#aaa6a6" stroke-width="1.6"/>
<line x1="1067.67" y1="862.5" x2="1067.67" y2="1586.2" stroke="#aaa6a6" stroke-width="1.6"/>
<line x1="1191.61" y1="862.5" x2="1191.61" y2="1586.2" stroke="#aaa6a6" stroke-width="1.6"/>
<line x1="1315.54" y1="862.5" x2="1315.54" y2="1586.2" stroke="#aaa6a6" stroke-width="1.6"/>
<line x1="138.2" y1="922.81" x2="1377.5" y2="922.81" stroke="#aaa6a6" stroke-width="1.6"/>
<line x1="138.2" y1="1043.42" x2="1377.5" y2="1043.42" stroke="#aaa6a6" stroke-width="1.6"/>
<line x1="138.2" y1="1164.04" x2="1377.5" y2="1164.04" stroke="#aaa6a6" stroke-width="1.6"/>
<line x1="138.2" y1="1284.66" x2="1377.5" y2="1284.66" stroke="#aaa6a6" stroke-width="1.6"/>
<line x1="138.2" y1="1405.28" x2="1377.5" y2="1405.28" stroke="#aaa6a6" stroke-width="1.6"/>
<line x1="138.2" y1="1525.89" x2="1377.5" y2="1525.89" stroke="#aaa6a6" stroke-width="1.6"/>
<line x1="138.20" y1="861.00" x2="138.20" y2="1587.70" stroke="#000" stroke-width="3.0"/>
<line x1="262.13" y1="861.00" x2="262.13" y2="1587.70" stroke="#000" stroke-width="3.0"/>
<line x1="386.06" y1="861.00" x2="386.06" y2="1587.70" stroke="#000" stroke-width="3.0"/>
<line x1="509.99" y1="861.00" x2="509.99" y2="1587.70" stroke="#000" stroke-width="3.0"/>
<line x1="633.92" y1="861.00" x2="633.92" y2="1587.70" stroke="#000" stroke-width="3.0"/>
<line x1="757.85" y1="861.00" x2="757.85" y2="1587.70" stroke="#000" stroke-width="3.0"/>
<line x1="881.78" y1="861.00" x2="881.78" y2="1587.70" stroke="#000" stroke-width="3.0"/>
<line x1="1005.71" y1="861.00" x2="1005.71" y2="1587.70" stroke="#000" stroke-width="3.0"/>
<line x1="1129.64" y1="861.00" x2="1129.64" y2="1587.70" stroke="#000" stroke-width="3.0"/>
<line x1="1253.57" y1="861.00" x2="1253.57" y2="1587.70" stroke="#000" stroke-width="3.0"/>
<line x1="1377.50" y1="861.00" x2="1377.50" y2="1587.70" stroke="#000" stroke-width="3.0"/>
<line x1="136.70" y1="862.50" x2="1379.00" y2="862.50" stroke="#000" stroke-width="3.0"/>
<line x1="136.70" y1="983.12" x2="1379.00" y2="983.12" stroke="#000" stroke-width="3.0"/>
<line x1="136.70" y1="1103.73" x2="1379.00" y2="1103.73" stroke="#000" stroke-width="3.0"/>
<line x1="136.70" y1="1224.35" x2="1379.00" y2="1224.35" stroke="#000" stroke-width="3.0"/>
<line x1="136.70" y1="1344.97" x2="1379.00" y2="1344.97" stroke="#000" stroke-width="3.0"/>
<line x1="136.70" y1="1465.58" x2="1379.00" y2="1465.58" stroke="#000" stroke-width="3.0"/>
<line x1="136.70" y1="1586.20" x2="1379.00" y2="1586.20" stroke="#000" stroke-width="3.0"/>
<g clip-path="url(#cb)">
<path d="M138.2,1127.5 L140.2,1127.1 L142.2,1126.8 L144.2,1126.5 L146.2,1126.1 L148.2,1125.8 L150.2,1125.5 L152.2,1125.2 L154.2,1125.0 L156.2,1124.8 L158.2,1124.6 L160.2,1124.4 L162.2,1124.3 L164.2,1124.2 L166.2,1124.1 L168.2,1124.0 L170.2,1124.0 L172.2,1123.9 L174.2,1123.8 L176.2,1123.8 L178.2,1123.7 L180.2,1123.7 L182.2,1123.6 L184.2,1123.6 L186.2,1123.6 L188.2,1123.5 L190.2,1123.5 L192.2,1123.4 L194.2,1123.4 L196.2,1123.3 L198.2,1123.3 L200.2,1123.2 L202.2,1123.1 L204.2,1123.0 L206.2,1122.9 L208.2,1122.8 L210.2,1122.7 L212.2,1122.6 L214.2,1122.5 L216.2,1122.4 L218.2,1122.3 L220.2,1122.3 L222.2,1122.2 L224.2,1122.2 L226.2,1122.1 L228.2,1122.1 L230.2,1122.1 L232.2,1122.1 L234.2,1122.1 L236.2,1122.1 L238.2,1122.1 L240.2,1122.1 L242.2,1122.1 L244.2,1122.1 L246.2,1122.1 L248.2,1122.1 L250.2,1122.1 L252.2,1122.1 L254.2,1122.1 L256.2,1122.1 L258.2,1122.1 L260.2,1122.1 L262.2,1122.1 L264.2,1122.2 L266.2,1122.2 L268.2,1122.3 L270.2,1122.4 L272.2,1122.5 L274.2,1122.7 L276.2,1122.9 L278.2,1123.1 L280.2,1123.3 L282.2,1123.5 L284.2,1123.6 L286.2,1123.8 L288.2,1124.0 L290.2,1124.1 L292.2,1124.3 L294.2,1124.3 L296.2,1124.4 L298.2,1124.5 L300.2,1124.6 L302.2,1124.6 L304.2,1124.7 L306.2,1124.7 L308.2,1124.8 L310.2,1124.9 L312.2,1124.9 L314.2,1125.0 L316.2,1125.0 L318.2,1125.1 L320.2,1125.2 L322.2,1125.3 L324.2,1125.4 L326.2,1125.5 L328.2,1125.6 L330.2,1125.8 L332.2,1125.9 L334.2,1126.1 L336.2,1126.3 L338.2,1126.5 L340.2,1126.7 L342.2,1126.9 L344.2,1127.1 L346.2,1127.3 L348.2,1127.5 L350.2,1127.7 L352.2,1127.9 L354.2,1128.1 L356.2,1128.2 L358.2,1128.4 L360.2,1128.5 L362.2,1128.7 L364.2,1128.8 L366.2,1129.0 L368.2,1129.1 L370.2,1129.3 L372.2,1129.4 L374.2,1129.5 L376.2,1129.7 L378.2,1129.8 L380.2,1130.0 L382.2,1130.1 L384.2,1130.2 L386.2,1130.4 L388.2,1130.5 L390.2,1130.6 L392.2,1130.7 L394.2,1130.8 L396.2,1130.9 L398.2,1131.0 L400.2,1131.1 L402.2,1131.2 L404.2,1131.4 L406.2,1131.5 L408.2,1131.6 L410.2,1131.8 L412.2,1131.9 L414.2,1132.1 L416.2,1132.3 L418.2,1132.6 L420.2,1133.0 L422.2,1133.6 L424.2,1134.3 L426.2,1135.0 L428.2,1135.5 L430.2,1135.9 L432.2,1136.1 L434.2,1136.0 L436.2,1135.9 L438.2,1135.7 L440.2,1135.5 L442.2,1135.4 L444.2,1135.5 L446.2,1135.7 L448.2,1136.2 L450.2,1136.7 L452.2,1137.3 L454.2,1137.8 L456.2,1138.3 L458.2,1138.9 L460.2,1139.5 L462.2,1140.0 L464.2,1140.3 L466.2,1140.6 L468.2,1140.7 L470.2,1140.9 L472.2,1141.0 L474.2,1141.1 L476.2,1141.3 L478.2,1141.6 L480.2,1142.1 L482.2,1142.8 L484.2,1143.6 L486.2,1144.5 L488.2,1145.2 L490.2,1145.8 L492.2,1146.3 L494.2,1146.7 L496.2,1147.1 L498.2,1147.4 L500.2,1147.5 L502.2,1147.6 L504.2,1147.7 L506.2,1147.8 L508.2,1147.8 L510.2,1147.9 L512.2,1148.0 L514.2,1148.0 L516.2,1148.1 L518.2,1148.2 L520.2,1148.3 L522.2,1148.4 L524.2,1148.6 L526.2,1148.9 L528.2,1149.1 L530.2,1149.4 L532.2,1149.7 L534.2,1150.1 L536.2,1150.5 L538.2,1150.9 L540.2,1151.3 L542.2,1151.8 L544.2,1152.3 L546.2,1153.0 L548.2,1153.6 L550.2,1154.4 L552.2,1155.3 L554.2,1156.4 L556.2,1157.4 L558.2,1158.1 L560.2,1158.4 L562.2,1158.7 L564.2,1158.9 L566.2,1159.0 L568.2,1159.2 L570.2,1159.4 L572.2,1159.6 L574.2,1159.9 L576.2,1160.1 L578.2,1160.4 L580.2,1160.7 L582.2,1160.9 L584.2,1161.2 L586.2,1161.6 L588.2,1161.9 L590.2,1162.3 L592.2,1162.7 L594.2,1163.2 L596.2,1163.8 L598.2,1164.5 L600.2,1165.2 L602.2,1166.0 L604.2,1166.7 L606.2,1167.3 L608.2,1167.8 L610.2,1168.3 L612.2,1168.8 L614.2,1169.3 L616.2,1169.7 L618.2,1170.0 L620.2,1170.3 L622.2,1170.6 L624.2,1170.9 L626.2,1171.2 L628.2,1171.5 L630.2,1171.9 L632.2,1172.2 L634.2,1172.6 L636.2,1173.1 L638.2,1173.6 L640.2,1174.1 L642.2,1174.7 L644.2,1175.2 L646.2,1175.7 L648.2,1176.1 L650.2,1176.5 L652.2,1176.9 L654.2,1177.3 L656.2,1177.7 L658.2,1178.1 L660.2,1178.4 L662.2,1178.7 L664.2,1179.0 L666.2,1179.4 L668.2,1179.7 L670.2,1180.1 L672.2,1180.5 L674.2,1181.0 L676.2,1181.8 L678.2,1182.9 L680.2,1184.1 L682.2,1185.2 L684.2,1186.2 L686.2,1186.8 L688.2,1187.3 L690.2,1187.8 L692.2,1188.2 L694.2,1188.5 L696.2,1188.7 L698.2,1188.9 L700.2,1189.0 L702.2,1189.1 L704.2,1189.3 L706.2,1189.4 L708.2,1189.7 L710.2,1190.2 L712.2,1191.0 L714.2,1192.0 L716.2,1193.0 L718.2,1194.1 L720.2,1195.1 L722.2,1195.9 L724.2,1196.4 L726.2,1196.9 L728.2,1197.4 L730.2,1197.8 L732.2,1198.2 L734.2,1198.6 L736.2,1199.0 L738.2,1199.3 L740.2,1199.8 L742.2,1200.2 L744.2,1200.6 L746.2,1201.0 L748.2,1201.4 L750.2,1201.8 L752.2,1202.2 L754.2,1202.6 L756.2,1203.1 L758.2,1203.6 L760.2,1204.1 L762.2,1204.6 L764.2,1205.2 L766.2,1205.9 L768.2,1206.5 L770.2,1207.1 L772.2,1207.7 L774.2,1208.3 L776.2,1208.9 L778.2,1209.4 L780.2,1209.8 L782.2,1210.3 L784.2,1210.7 L786.2,1211.2 L788.2,1211.6 L790.2,1212.2 L792.2,1212.8 L794.2,1213.6 L796.2,1214.5 L798.2,1215.5 L800.2,1216.5 L802.2,1217.6 L804.2,1218.6 L806.2,1219.5 L808.2,1220.4 L810.2,1221.3 L812.2,1222.1 L814.2,1222.9 L816.2,1223.7 L818.2,1224.5 L820.2,1225.4 L822.2,1226.3 L824.2,1227.3 L826.2,1228.2 L828.2,1229.2 L830.2,1230.2 L832.2,1231.1 L834.2,1232.0 L836.2,1232.8 L838.2,1233.5 L840.2,1234.1 L842.2,1234.8 L844.2,1235.4 L846.2,1236.0 L848.2,1236.5 L850.2,1236.7 L852.2,1236.8 L854.2,1236.8 L856.2,1236.8 L858.2,1236.8 L860.2,1237.2 L862.2,1238.0 L864.2,1239.1 L866.2,1240.5 L868.2,1242.0 L870.2,1243.5 L872.2,1244.9 L874.2,1246.3 L876.2,1247.8 L878.2,1249.4 L880.2,1250.8 L882.2,1251.8 L884.2,1252.5 L886.2,1253.0 L888.2,1253.5 L890.2,1253.9 L892.2,1254.4 L894.2,1255.0 L896.2,1255.7 L898.2,1256.6 L900.2,1257.7 L902.2,1258.7 L904.2,1259.9 L906.2,1261.1 L908.2,1262.7 L910.2,1264.3 L912.2,1265.9 L914.2,1267.2 L916.2,1268.0 L918.2,1268.5 L920.2,1269.0 L922.2,1269.4 L924.2,1269.7 L926.2,1270.0 L928.2,1270.2 L930.2,1270.4 L932.2,1270.5 L934.2,1270.7 L936.2,1270.9 L938.2,1271.4 L940.2,1272.6 L942.2,1274.3 L944.2,1276.4 L946.2,1278.5 L948.2,1280.3 L950.2,1282.3 L952.2,1284.3 L954.2,1286.1 L956.2,1287.4 L958.2,1288.2 L960.2,1288.8 L962.2,1289.3 L964.2,1289.6 L966.2,1289.6 L968.2,1289.4 L970.2,1289.1 L972.2,1288.8 L974.2,1288.6 L976.2,1288.6 L978.2,1288.6 L980.2,1288.6 L982.2,1288.6 L984.2,1291.1 L986.2,1296.2 L988.2,1300.9 L990.2,1303.6 L992.2,1305.5 L994.2,1305.9 L996.2,1306.1 L998.2,1306.2 L1000.2,1306.3 L1002.2,1306.4 L1004.2,1306.5 L1006.2,1306.8 L1008.2,1307.8 L1010.2,1309.3 L1012.2,1310.7 L1014.2,1312.2 L1016.2,1313.8 L1018.2,1315.3 L1020.2,1316.5 L1022.2,1317.5 L1024.2,1318.2 L1026.2,1318.9 L1028.2,1319.4 L1030.2,1319.9 L1032.2,1320.4 L1034.2,1320.7 L1036.2,1321.0 L1038.2,1321.3 L1040.2,1322.1 L1042.2,1323.4 L1044.2,1325.0 L1046.2,1326.8 L1048.2,1328.6 L1050.2,1330.0 L1052.2,1330.9 L1054.2,1331.0 L1056.2,1330.3 L1058.2,1329.3 L1060.2,1328.3 L1062.2,1327.9 L1064.2,1327.9 L1066.2,1328.1 L1068.2,1328.3 L1070.2,1328.6 L1072.2,1328.8 L1074.2,1328.9 L1076.2,1328.9 L1078.2,1328.9 L1080.2,1328.9 L1082.2,1328.9 L1084.2,1328.9 L1086.2,1328.9 L1088.2,1328.6 L1090.2,1328.1 L1092.2,1327.5 L1094.2,1327.0 L1096.2,1326.8 L1098.2,1326.8 L1100.2,1327.0 L1102.2,1327.1 L1104.2,1327.3 L1106.2,1327.4 L1108.2,1327.4 L1110.2,1327.4 L1112.2,1327.4 L1114.2,1327.4 L1116.2,1327.4 L1118.2,1327.4 L1120.2,1326.2 L1122.2,1323.9 L1124.2,1321.5 L1126.2,1319.1 L1128.2,1316.3 L1130.2,1313.6 L1132.2,1311.8 L1134.2,1311.5 L1136.2,1311.8 L1138.2,1312.3 L1140.2,1312.9 L1142.2,1313.2 L1144.2,1313.1 L1146.2,1312.8 L1148.2,1312.5 L1150.2,1312.2 L1152.2,1311.9 L1154.2,1311.3 L1156.2,1309.9 L1158.2,1307.5 L1160.2,1304.8 L1162.2,1302.1 L1164.2,1300.1 L1166.2,1298.2 L1168.2,1296.3 L1170.2,1294.8 L1172.2,1294.0 L1174.2,1294.0 L1176.2,1294.5 L1178.2,1295.1 L1180.2,1295.9 L1182.2,1296.6 L1184.2,1297.0 L1186.2,1297.1 L1188.2,1296.1 L1190.2,1294.1 L1192.2,1291.8 L1194.2,1289.7 L1196.2,1287.8 L1198.2,1285.7 L1200.2,1283.6 L1202.2,1281.7 L1204.2,1280.4 L1206.2,1279.6 L1208.2,1278.9 L1210.2,1278.4 L1212.2,1278.0 L1214.2,1277.8 L1216.2,1277.7 L1218.2,1277.6 L1220.2,1277.6 L1222.2,1277.4 L1224.2,1276.9 L1226.2,1275.8 L1228.2,1274.3 L1230.2,1272.6 L1232.2,1270.8 L1234.2,1269.1 L1236.2,1267.7 L1238.2,1266.6 L1240.2,1265.7 L1242.2,1264.9 L1244.2,1264.2 L1246.2,1263.4 L1248.2,1262.7 L1250.2,1262.0 L1252.2,1261.3 L1254.2,1260.6 L1256.2,1259.9 L1258.2,1259.1 L1260.2,1258.5 L1262.2,1257.8 L1264.2,1257.1 L1266.2,1256.3 L1268.2,1255.6 L1270.2,1254.8 L1272.2,1254.0 L1274.2,1253.0 L1276.2,1252.0 L1278.2,1251.0 L1280.2,1249.9 L1282.2,1248.8 L1284.2,1247.8 L1286.2,1246.9 L1288.2,1246.0 L1290.2,1245.2 L1292.2,1244.4 L1294.2,1243.6 L1296.2,1242.8 L1298.2,1242.1 L1300.2,1241.5 L1302.2,1240.9 L1304.2,1240.1 L1306.2,1238.9 L1308.2,1237.5 L1310.2,1235.9 L1312.2,1234.4 L1314.2,1232.9 L1316.2,1231.7 L1318.2,1230.4 L1320.2,1229.2 L1322.2,1228.0 L1324.2,1227.0 L1326.2,1226.5 L1328.2,1226.4 L1330.2,1226.4 L1332.2,1226.4 L1334.2,1226.4 L1336.2,1226.4 L1338.2,1226.2 L1340.2,1225.6 L1342.2,1224.9 L1344.2,1224.1 L1346.2,1223.3 L1348.2,1222.5 L1350.2,1221.4 L1352.2,1220.3 L1354.2,1219.2 L1356.2,1218.2 L1358.2,1217.4 L1360.2,1216.6 L1362.2,1215.9 L1364.2,1215.2 L1366.2,1214.8 L1368.2,1214.6 L1370.2,1214.7 L1372.2,1214.7 L1374.2,1214.8 L1377.5,1215.3" fill="none" stroke="#4472C4" stroke-width="2.8" stroke-linecap="round" stroke-linejoin="round"/>
<path d="M138.2,1167.1 L140.2,1166.9 L142.2,1166.6 L144.2,1166.2 L146.2,1165.9 L148.2,1165.6 L150.2,1165.2 L152.2,1164.8 L154.2,1164.5 L156.2,1164.1 L158.2,1163.7 L160.2,1163.3 L162.2,1162.8 L164.2,1162.4 L166.2,1162.0 L168.2,1161.5 L170.2,1161.0 L172.2,1160.5 L174.2,1160.0 L176.2,1159.4 L178.2,1158.9 L180.2,1158.3 L182.2,1157.7 L184.2,1157.0 L186.2,1156.3 L188.2,1155.6 L190.2,1154.9 L192.2,1154.1 L194.2,1153.4 L196.2,1152.8 L198.2,1152.1 L200.2,1151.6 L202.2,1151.0 L204.2,1150.4 L206.2,1149.9 L208.2,1149.4 L210.2,1148.9 L212.2,1148.4 L214.2,1148.1 L216.2,1147.8 L218.2,1147.6 L220.2,1147.4 L222.2,1147.2 L224.2,1147.0 L226.2,1146.9 L228.2,1146.7 L230.2,1146.6 L232.2,1146.5 L234.2,1146.3 L236.2,1146.2 L238.2,1146.0 L240.2,1145.8 L242.2,1145.6 L244.2,1145.4 L246.2,1145.1 L248.2,1144.9 L250.2,1144.6 L252.2,1144.3 L254.2,1143.9 L256.2,1143.6 L258.2,1143.3 L260.2,1142.9 L262.2,1142.6 L264.2,1142.3 L266.2,1141.8 L268.2,1141.4 L270.2,1140.9 L272.2,1140.4 L274.2,1140.0 L276.2,1139.7 L278.2,1139.4 L280.2,1139.3 L282.2,1139.2 L284.2,1139.2 L286.2,1139.1 L288.2,1139.1 L290.2,1139.1 L292.2,1139.1 L294.2,1139.0 L296.2,1139.0 L298.2,1139.0 L300.2,1138.9 L302.2,1138.8 L304.2,1138.5 L306.2,1138.1 L308.2,1137.6 L310.2,1137.3 L312.2,1137.1 L314.2,1137.2 L316.2,1137.3 L318.2,1137.4 L320.2,1137.5 L322.2,1137.5 L324.2,1137.6 L326.2,1137.6 L328.2,1137.6 L330.2,1137.6 L332.2,1137.6 L334.2,1137.6 L336.2,1137.6 L338.2,1137.6 L340.2,1137.6 L342.2,1137.6 L344.2,1137.6 L346.2,1137.6 L348.2,1137.6 L350.2,1137.6 L352.2,1137.6 L354.2,1137.6 L356.2,1137.6 L358.2,1137.6 L360.2,1137.7 L362.2,1137.9 L364.2,1138.1 L366.2,1138.3 L368.2,1138.5 L370.2,1138.7 L372.2,1139.0 L374.2,1139.2 L376.2,1139.5 L378.2,1139.7 L380.2,1139.9 L382.2,1140.1 L384.2,1140.3 L386.2,1140.4 L388.2,1140.6 L390.2,1140.7 L392.2,1140.8 L394.2,1140.9 L396.2,1141.0 L398.2,1141.1 L400.2,1141.2 L402.2,1141.3 L404.2,1141.4 L406.2,1141.5 L408.2,1141.6 L410.2,1141.7 L412.2,1141.8 L414.2,1142.0 L416.2,1142.1 L418.2,1142.2 L420.2,1142.4 L422.2,1142.6 L424.2,1142.8 L426.2,1143.1 L428.2,1143.4 L430.2,1143.7 L432.2,1144.0 L434.2,1144.4 L436.2,1144.7 L438.2,1145.1 L440.2,1145.4 L442.2,1145.6 L444.2,1145.9 L446.2,1146.1 L448.2,1146.3 L450.2,1146.5 L452.2,1146.7 L454.2,1146.8 L456.2,1147.0 L458.2,1147.2 L460.2,1147.4 L462.2,1147.6 L464.2,1147.8 L466.2,1148.1 L468.2,1148.4 L470.2,1148.7 L472.2,1149.0 L474.2,1149.3 L476.2,1149.6 L478.2,1149.9 L480.2,1150.2 L482.2,1150.5 L484.2,1150.9 L486.2,1151.1 L488.2,1151.4 L490.2,1151.7 L492.2,1151.9 L494.2,1152.2 L496.2,1152.4 L498.2,1152.7 L500.2,1152.9 L502.2,1153.2 L504.2,1153.5 L506.2,1153.8 L508.2,1154.1 L510.2,1154.4 L512.2,1154.8 L514.2,1155.3 L516.2,1155.7 L518.2,1156.2 L520.2,1156.7 L522.2,1157.2 L524.2,1157.7 L526.2,1158.1 L528.2,1158.5 L530.2,1158.9 L532.2,1159.2 L534.2,1159.5 L536.2,1159.7 L538.2,1160.0 L540.2,1160.3 L542.2,1160.5 L544.2,1160.8 L546.2,1161.1 L548.2,1161.5 L550.2,1161.8 L552.2,1162.2 L554.2,1162.7 L556.2,1163.1 L558.2,1163.6 L560.2,1164.2 L562.2,1164.8 L564.2,1165.5 L566.2,1166.4 L568.2,1167.3 L570.2,1168.3 L572.2,1169.2 L574.2,1169.9 L576.2,1170.6 L578.2,1171.3 L580.2,1172.0 L582.2,1172.7 L584.2,1173.3 L586.2,1173.9 L588.2,1174.5 L590.2,1175.0 L592.2,1175.6 L594.2,1176.0 L596.2,1176.4 L598.2,1176.7 L600.2,1176.9 L602.2,1177.1 L604.2,1177.4 L606.2,1177.7 L608.2,1178.0 L610.2,1178.5 L612.2,1179.2 L614.2,1180.0 L616.2,1183.4 L618.2,1187.9 L620.2,1192.3 L622.2,1193.5 L624.2,1185.8 L626.2,1184.4 L628.2,1184.8 L630.2,1185.4 L632.2,1186.0 L634.2,1186.6 L636.2,1187.1 L638.2,1187.7 L640.2,1188.2 L642.2,1188.8 L644.2,1189.3 L646.2,1189.9 L648.2,1190.4 L650.2,1191.0 L652.2,1191.5 L654.2,1192.1 L656.2,1192.6 L658.2,1193.1 L660.2,1193.6 L662.2,1194.1 L664.2,1194.5 L666.2,1195.0 L668.2,1195.4 L670.2,1195.9 L672.2,1196.4 L674.2,1196.9 L676.2,1197.5 L678.2,1198.1 L680.2,1198.8 L682.2,1199.7 L684.2,1200.8 L686.2,1201.9 L688.2,1203.0 L690.2,1204.0 L692.2,1204.9 L694.2,1205.5 L696.2,1205.9 L698.2,1206.2 L700.2,1206.5 L702.2,1206.7 L704.2,1206.9 L706.2,1207.2 L708.2,1207.5 L710.2,1207.9 L712.2,1208.5 L714.2,1209.1 L716.2,1209.7 L718.2,1210.5 L720.2,1211.2 L722.2,1211.9 L724.2,1212.7 L726.2,1213.5 L728.2,1214.5 L730.2,1215.4 L732.2,1216.3 L734.2,1217.1 L736.2,1217.6 L738.2,1218.0 L740.2,1218.3 L742.2,1218.6 L744.2,1218.8 L746.2,1219.1 L748.2,1219.6 L750.2,1220.2 L752.2,1221.2 L754.2,1222.3 L756.2,1223.3 L758.2,1223.9 L760.2,1224.3 L762.2,1224.5 L764.2,1224.7 L766.2,1224.9 L768.2,1225.1 L770.2,1225.2 L772.2,1225.4 L774.2,1225.7 L776.2,1226.0 L778.2,1226.6 L780.2,1227.4 L782.2,1228.5 L784.2,1229.7 L786.2,1230.9 L788.2,1232.1 L790.2,1233.1 L792.2,1233.8 L794.2,1234.5 L796.2,1235.1 L798.2,1235.7 L800.2,1236.2 L802.2,1236.7 L804.2,1237.2 L806.2,1237.8 L808.2,1238.4 L810.2,1239.0 L812.2,1239.7 L814.2,1240.3 L816.2,1240.9 L818.2,1241.4 L820.2,1241.9 L822.2,1242.3 L824.2,1242.7 L826.2,1243.0 L828.2,1243.3 L830.2,1243.6 L832.2,1244.0 L834.2,1244.3 L836.2,1244.7 L838.2,1245.3 L840.2,1245.9 L842.2,1246.8 L844.2,1247.9 L846.2,1249.0 L848.2,1250.2 L850.2,1251.2 L852.2,1252.1 L854.2,1252.9 L856.2,1253.5 L858.2,1254.2 L860.2,1254.8 L862.2,1255.4 L864.2,1256.0 L866.2,1256.7 L868.2,1257.4 L870.2,1258.1 L872.2,1259.0 L874.2,1260.0 L876.2,1261.5 L878.2,1263.0 L880.2,1264.4 L882.2,1265.3 L884.2,1265.9 L886.2,1266.3 L888.2,1266.6 L890.2,1267.0 L892.2,1267.4 L894.2,1267.8 L896.2,1268.5 L898.2,1269.2 L900.2,1270.1 L902.2,1271.0 L904.2,1271.8 L906.2,1272.6 L908.2,1273.4 L910.2,1274.2 L912.2,1275.0 L914.2,1275.6 L916.2,1276.1 L918.2,1276.5 L920.2,1276.7 L922.2,1277.1 L924.2,1277.5 L926.2,1278.2 L928.2,1279.3 L930.2,1280.6 L932.2,1282.0 L934.2,1283.3 L936.2,1284.5 L938.2,1285.5 L940.2,1286.3 L942.2,1287.0 L944.2,1287.7 L946.2,1288.3 L948.2,1288.8 L950.2,1289.4 L952.2,1290.0 L954.2,1290.7 L956.2,1291.6 L958.2,1292.7 L960.2,1294.0 L962.2,1295.4 L964.2,1296.7 L966.2,1297.9 L968.2,1299.1 L970.2,1300.4 L972.2,1301.6 L974.2,1302.8 L976.2,1303.8 L978.2,1304.7 L980.2,1305.5 L982.2,1306.3 L984.2,1307.1 L986.2,1307.9 L988.2,1308.8 L990.2,1309.7 L992.2,1310.8 L994.2,1311.9 L996.2,1313.1 L998.2,1314.3 L1000.2,1315.5 L1002.2,1316.6 L1004.2,1317.7 L1006.2,1318.6 L1008.2,1319.3 L1010.2,1320.1 L1012.2,1321.3 L1014.2,1322.9 L1016.2,1324.9 L1018.2,1327.1 L1020.2,1329.2 L1022.2,1331.1 L1024.2,1332.6 L1026.2,1333.9 L1028.2,1335.1 L1030.2,1336.2 L1032.2,1337.3 L1034.2,1338.4 L1036.2,1339.5 L1038.2,1340.7 L1040.2,1341.8 L1042.2,1342.9 L1044.2,1344.1 L1046.2,1345.4 L1048.2,1346.9 L1050.2,1348.6 L1052.2,1350.4 L1054.2,1352.4 L1056.2,1354.3 L1058.2,1356.2 L1060.2,1358.0 L1062.2,1359.8 L1064.2,1361.7 L1066.2,1363.5 L1068.2,1365.1 L1070.2,1366.2 L1072.2,1366.9 L1074.2,1367.3 L1076.2,1367.7 L1078.2,1368.2 L1080.2,1369.0 L1082.2,1370.7 L1084.2,1372.9 L1086.2,1375.5 L1088.2,1378.2 L1090.2,1380.6 L1092.2,1382.5 L1094.2,1384.1 L1096.2,1385.4 L1098.2,1386.6 L1100.2,1387.7 L1102.2,1388.9 L1104.2,1390.1 L1106.2,1391.5 L1108.2,1393.0 L1110.2,1394.6 L1112.2,1396.3 L1114.2,1398.1 L1116.2,1400.1 L1118.2,1402.2 L1120.2,1404.7 L1122.2,1407.7 L1124.2,1410.7 L1126.2,1413.6 L1128.2,1415.9 L1130.2,1417.5 L1132.2,1418.8 L1134.2,1419.8 L1136.2,1420.8 L1138.2,1421.7 L1140.2,1422.6 L1142.2,1423.6 L1144.2,1424.5 L1146.2,1425.4 L1148.2,1426.3 L1150.2,1427.4 L1152.2,1428.6 L1154.2,1430.4 L1156.2,1432.7 L1158.2,1435.2 L1160.2,1437.7 L1162.2,1439.8 L1164.2,1441.4 L1166.2,1442.9 L1168.2,1444.3 L1170.2,1445.3 L1172.2,1445.9 L1174.2,1446.2 L1176.2,1446.4 L1178.2,1446.9 L1180.2,1448.8 L1182.2,1452.1 L1184.2,1455.7 L1186.2,1459.0 L1188.2,1461.7 L1190.2,1464.3 L1192.2,1466.4 L1194.2,1467.9 L1196.2,1469.2 L1198.2,1470.2 L1200.2,1471.0 L1202.2,1471.5 L1204.2,1471.9 L1206.2,1472.3 L1208.2,1472.8 L1210.2,1474.2 L1212.2,1477.5 L1214.2,1480.4 L1216.2,1481.3 L1218.2,1482.0 L1220.2,1484.0 L1222.2,1486.2 L1224.2,1486.3 L1226.2,1486.4 L1228.2,1486.7 L1230.2,1487.8 L1232.2,1489.4 L1234.2,1491.0 L1236.2,1492.3 L1238.2,1493.5 L1240.2,1494.8 L1242.2,1496.0 L1244.2,1497.2 L1246.2,1498.3 L1248.2,1499.4 L1250.2,1500.5 L1252.2,1501.5 L1254.2,1502.5 L1256.2,1503.6 L1258.2,1504.3 L1260.2,1504.3 L1262.2,1504.2 L1264.2,1504.2 L1266.2,1504.1 L1268.2,1504.0 L1270.2,1503.8 L1272.2,1503.5 L1274.2,1503.2 L1276.2,1502.9 L1278.2,1502.5 L1280.2,1502.2 L1282.2,1501.9 L1284.2,1501.7 L1286.2,1501.5 L1288.2,1501.3 L1290.2,1501.1 L1292.2,1500.9 L1294.2,1500.6 L1296.2,1500.4 L1298.2,1500.0 L1300.2,1499.4 L1302.2,1498.8 L1304.2,1498.4 L1306.2,1498.3 L1308.2,1498.7 L1310.2,1499.3 L1312.2,1499.9 L1314.2,1500.3 L1316.2,1500.4 L1318.2,1500.4 L1320.2,1500.4 L1322.2,1500.3 L1324.2,1499.7 L1326.2,1498.6 L1328.2,1497.2 L1330.2,1495.7 L1332.2,1493.4 L1334.2,1490.7 L1336.2,1488.1 L1338.2,1485.7 L1340.2,1483.1 L1342.2,1480.7 L1344.2,1479.3 L1346.2,1479.3 L1348.2,1479.8 L1350.2,1480.4 L1352.2,1480.7 L1354.2,1479.1 L1356.2,1476.1 L1358.2,1473.9 L1360.2,1472.4 L1362.2,1471.1 L1364.2,1469.8 L1366.2,1468.3 L1368.2,1466.6 L1370.2,1464.8 L1372.2,1463.0 L1374.2,1461.1 L1377.5,1457.9" fill="none" stroke="#7EC942" stroke-width="2.8" stroke-linecap="round" stroke-linejoin="round"/>
<path d="M138.2,1352.1 L140.2,1349.2 L142.2,1346.3 L144.2,1343.6 L146.2,1341.0 L148.2,1338.6 L150.2,1336.3 L152.2,1334.2 L154.2,1332.1 L156.2,1330.2 L158.2,1328.4 L160.2,1326.7 L162.2,1325.3 L164.2,1324.2 L166.2,1323.2 L168.2,1322.4 L170.2,1321.5 L172.2,1320.6 L174.2,1319.5 L176.2,1318.0 L178.2,1316.1 L180.2,1313.8 L182.2,1311.3 L184.2,1308.9 L186.2,1306.6 L188.2,1304.2 L190.2,1301.8 L192.2,1299.5 L194.2,1297.6 L196.2,1296.0 L198.2,1294.7 L200.2,1293.5 L202.2,1292.4 L204.2,1291.3 L206.2,1290.2 L208.2,1289.0 L210.2,1287.7 L212.2,1286.2 L214.2,1284.3 L216.2,1282.2 L218.2,1279.9 L220.2,1277.8 L222.2,1275.7 L224.2,1274.0 L226.2,1272.5 L228.2,1271.1 L230.2,1269.9 L232.2,1268.9 L234.2,1268.1 L236.2,1267.5 L238.2,1267.0 L240.2,1266.5 L242.2,1265.9 L244.2,1265.1 L246.2,1263.9 L248.2,1262.4 L250.2,1260.8 L252.2,1259.3 L254.2,1257.9 L256.2,1256.8 L258.2,1255.8 L260.2,1254.9 L262.2,1254.0 L264.2,1253.1 L266.2,1252.1 L268.2,1251.0 L270.2,1249.7 L272.2,1248.2 L274.2,1246.4 L276.2,1244.4 L278.2,1242.5 L280.2,1240.6 L282.2,1238.9 L284.2,1237.6 L286.2,1236.4 L288.2,1235.3 L290.2,1234.4 L292.2,1233.5 L294.2,1232.8 L296.2,1232.3 L298.2,1231.9 L300.2,1231.6 L302.2,1231.2 L304.2,1230.8 L306.2,1230.3 L308.2,1229.3 L310.2,1227.9 L312.2,1226.3 L314.2,1224.9 L316.2,1223.7 L318.2,1222.8 L320.2,1222.0 L322.2,1221.3 L324.2,1220.7 L326.2,1220.0 L328.2,1219.4 L330.2,1218.7 L332.2,1217.9 L334.2,1217.0 L336.2,1216.1 L338.2,1215.1 L340.2,1214.2 L342.2,1213.3 L344.2,1212.5 L346.2,1211.8 L348.2,1211.1 L350.2,1210.5 L352.2,1209.9 L354.2,1209.3 L356.2,1208.7 L358.2,1208.2 L360.2,1207.6 L362.2,1207.1 L364.2,1206.5 L366.2,1205.8 L368.2,1205.1 L370.2,1204.4 L372.2,1203.6 L374.2,1202.9 L376.2,1202.2 L378.2,1201.8 L380.2,1201.5 L382.2,1201.3 L384.2,1201.1 L386.2,1200.9 L388.2,1200.7 L390.2,1200.5 L392.2,1200.2 L394.2,1199.9 L396.2,1199.6 L398.2,1199.2 L400.2,1198.8 L402.2,1198.3 L404.2,1197.9 L406.2,1197.4 L408.2,1197.0 L410.2,1196.6 L412.2,1196.2 L414.2,1195.8 L416.2,1195.5 L418.2,1195.2 L420.2,1195.0 L422.2,1194.6 L424.2,1194.3 L426.2,1193.8 L428.2,1193.1 L430.2,1192.1 L432.2,1191.0 L434.2,1189.9 L436.2,1189.1 L438.2,1188.6 L440.2,1188.5 L442.2,1188.4 L444.2,1188.3 L446.2,1188.3 L448.2,1188.1 L450.2,1187.9 L452.2,1187.6 L454.2,1187.2 L456.2,1186.7 L458.2,1186.3 L460.2,1185.9 L462.2,1185.6 L464.2,1185.4 L466.2,1185.3 L468.2,1185.2 L470.2,1185.1 L472.2,1185.1 L474.2,1185.1 L476.2,1185.0 L478.2,1185.0 L480.2,1184.9 L482.2,1184.9 L484.2,1184.8 L486.2,1184.7 L488.2,1184.2 L490.2,1183.5 L492.2,1182.7 L494.2,1182.0 L496.2,1181.7 L498.2,1181.7 L500.2,1181.7 L502.2,1181.7 L504.2,1181.7 L506.2,1181.7 L508.2,1181.7 L510.2,1181.7 L512.2,1181.6 L514.2,1181.5 L516.2,1181.3 L518.2,1181.1 L520.2,1180.9 L522.2,1180.6 L524.2,1180.4 L526.2,1180.2 L528.2,1180.0 L530.2,1179.9 L532.2,1179.8 L534.2,1179.7 L536.2,1179.6 L538.2,1179.5 L540.2,1179.4 L542.2,1179.3 L544.2,1179.2 L546.2,1179.1 L548.2,1179.0 L550.2,1178.9 L552.2,1178.8 L554.2,1178.7 L556.2,1178.6 L558.2,1178.5 L560.2,1178.4 L562.2,1178.3 L564.2,1178.2 L566.2,1178.1 L568.2,1178.0 L570.2,1177.9 L572.2,1177.9 L574.2,1177.8 L576.2,1177.7 L578.2,1177.7 L580.2,1177.6 L582.2,1177.6 L584.2,1177.5 L586.2,1177.5 L588.2,1177.5 L590.2,1177.4 L592.2,1177.4 L594.2,1177.4 L596.2,1177.4 L598.2,1177.4 L600.2,1177.4 L602.2,1177.4 L604.2,1177.4 L606.2,1177.4 L608.2,1177.4 L610.2,1177.4 L612.2,1177.4 L614.2,1177.4 L616.2,1177.3 L618.2,1176.9 L620.2,1176.4 L622.2,1176.0 L624.2,1175.7 L626.2,1175.8 L628.2,1176.1 L630.2,1176.4 L632.2,1176.7 L634.2,1176.8 L636.2,1176.8 L638.2,1176.8 L640.2,1176.8 L642.2,1176.8 L644.2,1176.8 L646.2,1176.8 L648.2,1176.8 L650.2,1176.8 L652.2,1176.8 L654.2,1176.8 L656.2,1176.8 L658.2,1176.8 L660.2,1176.8 L662.2,1176.8 L664.2,1176.8 L666.2,1176.8 L668.2,1176.8 L670.2,1176.8 L672.2,1176.7 L674.2,1176.6 L676.2,1176.4 L678.2,1176.2 L680.2,1176.0 L682.2,1175.8 L684.2,1175.7 L686.2,1175.7 L688.2,1175.8 L690.2,1175.9 L692.2,1176.1 L694.2,1176.1 L696.2,1176.1 L698.2,1175.9 L700.2,1175.5 L702.2,1175.0 L704.2,1174.5 L706.2,1174.0 L708.2,1173.5 L710.2,1173.2 L712.2,1173.1 L714.2,1173.2 L716.2,1173.3 L718.2,1173.4 L720.2,1173.6 L722.2,1173.8 L724.2,1173.9 L726.2,1174.0 L728.2,1174.0 L730.2,1173.8 L732.2,1173.4 L734.2,1173.0 L736.2,1172.6 L738.2,1172.2 L740.2,1172.0 L742.2,1171.9 L744.2,1172.0 L746.2,1172.2 L748.2,1172.5 L750.2,1172.9 L752.2,1173.3 L754.2,1173.7 L756.2,1173.9 L758.2,1174.0 L760.2,1173.9 L762.2,1173.7 L764.2,1173.5 L766.2,1173.1 L768.2,1172.8 L770.2,1172.4 L772.2,1172.0 L774.2,1171.7 L776.2,1171.5 L778.2,1171.3 L780.2,1171.1 L782.2,1171.0 L784.2,1170.9 L786.2,1170.8 L788.2,1170.6 L790.2,1170.5 L792.2,1170.3 L794.2,1169.9 L796.2,1169.5 L798.2,1169.0 L800.2,1168.5 L802.2,1168.0 L804.2,1167.7 L806.2,1167.6 L808.2,1167.6 L810.2,1167.9 L812.2,1168.2 L814.2,1168.6 L816.2,1169.1 L818.2,1169.5 L820.2,1170.0 L822.2,1170.4 L824.2,1170.7 L826.2,1170.9 L828.2,1171.0 L830.2,1170.9 L832.2,1170.5 L834.2,1170.1 L836.2,1169.6 L838.2,1169.1 L840.2,1168.6 L842.2,1168.3 L844.2,1168.1 L846.2,1167.8 L848.2,1167.6 L850.2,1167.4 L852.2,1167.2 L854.2,1167.1 L856.2,1166.9 L858.2,1166.8 L860.2,1166.7 L862.2,1166.7 L864.2,1166.7 L866.2,1166.8 L868.2,1166.8 L870.2,1166.9 L872.2,1166.9 L874.2,1167.0 L876.2,1167.1 L878.2,1167.1 L880.2,1167.1 L882.2,1167.1 L884.2,1167.0 L886.2,1166.7 L888.2,1166.3 L890.2,1165.8 L892.2,1165.3 L894.2,1164.8 L896.2,1164.4 L898.2,1164.1 L900.2,1163.9 L902.2,1164.0 L904.2,1164.1 L906.2,1164.3 L908.2,1164.5 L910.2,1164.7 L912.2,1164.9 L914.2,1165.0 L916.2,1165.0 L918.2,1164.8 L920.2,1164.4 L922.2,1163.9 L924.2,1163.4 L926.2,1163.0 L928.2,1162.9 L930.2,1162.9 L932.2,1162.9 L934.2,1163.0 L936.2,1163.1 L938.2,1163.2 L940.2,1163.3 L942.2,1163.4 L944.2,1163.6 L946.2,1163.8 L948.2,1164.1 L950.2,1164.5 L952.2,1164.8 L954.2,1165.0 L956.2,1165.0 L958.2,1164.9 L960.2,1164.8 L962.2,1164.7 L964.2,1164.6 L966.2,1164.4 L968.2,1164.2 L970.2,1164.1 L972.2,1163.9 L974.2,1163.8 L976.2,1163.6 L978.2,1163.4 L980.2,1163.2 L982.2,1163.1 L984.2,1162.9 L986.2,1162.9 L988.2,1162.9 L990.2,1162.9 L992.2,1163.0 L994.2,1163.2 L996.2,1163.3 L998.2,1163.5 L1000.2,1163.7 L1002.2,1163.8 L1004.2,1163.9 L1006.2,1163.9 L1008.2,1163.9 L1010.2,1163.9 L1012.2,1163.9 L1014.2,1163.9 L1016.2,1163.9 L1018.2,1163.9 L1020.2,1163.9 L1022.2,1163.9 L1024.2,1164.1 L1026.2,1164.4 L1028.2,1164.8 L1030.2,1165.3 L1032.2,1165.7 L1034.2,1165.9 L1036.2,1166.1 L1038.2,1166.0 L1040.2,1165.8 L1042.2,1165.6 L1044.2,1165.4 L1046.2,1165.2 L1048.2,1165.0 L1050.2,1165.0 L1052.2,1165.2 L1054.2,1165.6 L1056.2,1166.0 L1058.2,1166.3 L1060.2,1166.6 L1062.2,1166.7 L1064.2,1166.5 L1066.2,1166.1 L1068.2,1165.4 L1070.2,1164.8 L1072.2,1164.3 L1074.2,1164.0 L1076.2,1164.0 L1078.2,1164.4 L1080.2,1164.9 L1082.2,1165.6 L1084.2,1166.4 L1086.2,1167.0 L1088.2,1167.4 L1090.2,1167.6 L1092.2,1167.6 L1094.2,1167.6 L1096.2,1167.6 L1098.2,1167.6 L1100.2,1167.6 L1102.2,1167.6 L1104.2,1167.6 L1106.2,1167.5 L1108.2,1167.4 L1110.2,1167.3 L1112.2,1167.2 L1114.2,1167.2 L1116.2,1167.2 L1118.2,1167.5 L1120.2,1168.1 L1122.2,1168.9 L1124.2,1169.7 L1126.2,1170.4 L1128.2,1170.8 L1130.2,1170.8 L1132.2,1170.8 L1134.2,1170.7 L1136.2,1170.6 L1138.2,1170.4 L1140.2,1170.3 L1142.2,1170.3 L1144.2,1170.3 L1146.2,1170.4 L1148.2,1170.6 L1150.2,1170.9 L1152.2,1171.1 L1154.2,1171.4 L1156.2,1171.6 L1158.2,1171.7 L1160.2,1171.8 L1162.2,1171.7 L1164.2,1171.6 L1166.2,1171.5 L1168.2,1171.3 L1170.2,1171.2 L1172.2,1171.1 L1174.2,1171.3 L1176.2,1171.7 L1178.2,1172.5 L1180.2,1173.4 L1182.2,1174.2 L1184.2,1174.8 L1186.2,1175.0 L1188.2,1175.1 L1190.2,1175.2 L1192.2,1175.2 L1194.2,1175.3 L1196.2,1175.4 L1198.2,1175.6 L1200.2,1175.9 L1202.2,1176.3 L1204.2,1176.8 L1206.2,1177.4 L1208.2,1177.9 L1210.2,1178.5 L1212.2,1179.3 L1214.2,1180.3 L1216.2,1181.4 L1218.2,1182.3 L1220.2,1182.9 L1222.2,1183.1 L1224.2,1183.1 L1226.2,1183.0 L1228.2,1182.9 L1230.2,1182.8 L1232.2,1182.7 L1234.2,1182.6 L1236.2,1182.5 L1238.2,1182.5 L1240.2,1182.6 L1242.2,1182.7 L1244.2,1182.9 L1246.2,1183.1 L1248.2,1183.3 L1250.2,1183.6 L1252.2,1183.8 L1254.2,1184.0 L1256.2,1184.2 L1258.2,1184.5 L1260.2,1184.7 L1262.2,1184.9 L1264.2,1185.2 L1266.2,1185.5 L1268.2,1185.9 L1270.2,1186.5 L1272.2,1187.1 L1274.2,1187.8 L1276.2,1188.5 L1278.2,1189.0 L1280.2,1189.5 L1282.2,1189.9 L1284.2,1190.3 L1286.2,1190.7 L1288.2,1191.1 L1290.2,1191.5 L1292.2,1192.0 L1294.2,1192.5 L1296.2,1193.0 L1298.2,1193.6 L1300.2,1194.3 L1302.2,1195.0 L1304.2,1196.0 L1306.2,1197.1 L1308.2,1198.1 L1310.2,1198.6 L1312.2,1198.9 L1314.2,1199.1 L1316.2,1199.3 L1318.2,1199.4 L1320.2,1199.6 L1322.2,1199.8 L1324.2,1199.9 L1326.2,1200.0 L1328.2,1200.2 L1330.2,1200.3 L1332.2,1200.5 L1334.2,1200.8 L1336.2,1201.5 L1338.2,1202.6 L1340.2,1204.0 L1342.2,1205.3 L1344.2,1206.5 L1346.2,1207.5 L1348.2,1208.2 L1350.2,1208.8 L1352.2,1209.3 L1354.2,1209.8 L1356.2,1210.2 L1358.2,1210.5 L1360.2,1210.8 L1362.2,1211.0 L1364.2,1211.2 L1366.2,1211.5 L1368.2,1212.0 L1370.2,1212.6 L1372.2,1213.3 L1374.2,1214.2 L1377.5,1215.7" fill="none" stroke="#FF0000" stroke-width="2.8" stroke-linecap="round" stroke-linejoin="round"/>
<path d="M138.2,1140.4 L140.2,1139.9 L142.2,1139.5 L144.2,1139.1 L146.2,1138.7 L148.2,1138.3 L150.2,1138.0 L152.2,1137.6 L154.2,1137.3 L156.2,1136.9 L158.2,1136.6 L160.2,1136.3 L162.2,1136.1 L164.2,1135.8 L166.2,1135.6 L168.2,1135.3 L170.2,1135.1 L172.2,1134.9 L174.2,1134.7 L176.2,1134.5 L178.2,1134.3 L180.2,1134.1 L182.2,1133.9 L184.2,1133.7 L186.2,1133.5 L188.2,1133.3 L190.2,1133.2 L192.2,1133.0 L194.2,1132.9 L196.2,1132.7 L198.2,1132.5 L200.2,1132.4 L202.2,1132.2 L204.2,1132.1 L206.2,1131.9 L208.2,1131.8 L210.2,1131.6 L212.2,1131.5 L214.2,1131.4 L216.2,1131.2 L218.2,1131.1 L220.2,1131.0 L222.2,1130.9 L224.2,1130.8 L226.2,1130.7 L228.2,1130.6 L230.2,1130.6 L232.2,1130.5 L234.2,1130.4 L236.2,1130.4 L238.2,1130.3 L240.2,1130.2 L242.2,1130.2 L244.2,1130.1 L246.2,1130.1 L248.2,1130.0 L250.2,1130.0 L252.2,1129.9 L254.2,1129.9 L256.2,1129.8 L258.2,1129.8 L260.2,1129.7 L262.2,1129.7 L264.2,1129.6 L266.2,1129.6 L268.2,1129.5 L270.2,1129.4 L272.2,1129.4 L274.2,1129.3 L276.2,1129.3 L278.2,1129.2 L280.2,1129.2 L282.2,1129.1 L284.2,1129.1 L286.2,1129.1 L288.2,1129.0 L290.2,1129.0 L292.2,1129.0 L294.2,1129.0 L296.2,1129.0 L298.2,1129.0 L300.2,1129.0 L302.2,1129.1 L304.2,1129.1 L306.2,1129.1 L308.2,1129.2 L310.2,1129.2 L312.2,1129.3 L314.2,1129.3 L316.2,1129.4 L318.2,1129.5 L320.2,1129.5 L322.2,1129.6 L324.2,1129.7 L326.2,1129.7 L328.2,1129.8 L330.2,1129.9 L332.2,1130.0 L334.2,1130.1 L336.2,1130.3 L338.2,1130.4 L340.2,1130.6 L342.2,1130.7 L344.2,1130.9 L346.2,1131.0 L348.2,1131.2 L350.2,1131.4 L352.2,1131.5 L354.2,1131.7 L356.2,1131.9 L358.2,1132.1 L360.2,1132.3 L362.2,1132.5 L364.2,1132.7 L366.2,1133.0 L368.2,1133.2 L370.2,1133.4 L372.2,1133.7 L374.2,1133.9 L376.2,1134.1 L378.2,1134.4 L380.2,1134.6 L382.2,1134.8 L384.2,1134.9 L386.2,1135.1 L388.2,1135.2 L390.2,1135.4 L392.2,1135.5 L394.2,1135.6 L396.2,1135.7 L398.2,1135.8 L400.2,1135.9 L402.2,1135.9 L404.2,1136.0 L406.2,1136.1 L408.2,1136.2 L410.2,1136.3 L412.2,1136.4 L414.2,1136.6 L416.2,1136.7 L418.2,1136.9 L420.2,1137.0 L422.2,1137.2 L424.2,1137.5 L426.2,1137.8 L428.2,1138.2 L430.2,1138.6 L432.2,1139.1 L434.2,1139.6 L436.2,1140.0 L438.2,1140.5 L440.2,1140.9 L442.2,1141.3 L444.2,1141.7 L446.2,1142.0 L448.2,1142.3 L450.2,1142.6 L452.2,1142.9 L454.2,1143.2 L456.2,1143.5 L458.2,1143.8 L460.2,1144.0 L462.2,1144.3 L464.2,1144.6 L466.2,1144.9 L468.2,1145.2 L470.2,1145.5 L472.2,1145.8 L474.2,1146.0 L476.2,1146.3 L478.2,1146.6 L480.2,1146.9 L482.2,1147.2 L484.2,1147.6 L486.2,1148.0 L488.2,1148.4 L490.2,1148.9 L492.2,1149.4 L494.2,1150.0 L496.2,1150.6 L498.2,1151.3 L500.2,1151.9 L502.2,1152.5 L504.2,1153.0 L506.2,1153.6 L508.2,1154.1 L510.2,1154.5 L512.2,1154.9 L514.2,1155.2 L516.2,1155.6 L518.2,1155.9 L520.2,1156.2 L522.2,1156.5 L524.2,1156.8 L526.2,1157.1 L528.2,1157.4 L530.2,1157.8 L532.2,1158.0 L534.2,1158.3 L536.2,1158.6 L538.2,1158.9 L540.2,1159.1 L542.2,1159.4 L544.2,1159.7 L546.2,1160.0 L548.2,1160.4 L550.2,1160.8 L552.2,1161.2 L554.2,1161.6 L556.2,1162.1 L558.2,1162.7 L560.2,1163.3 L562.2,1163.9 L564.2,1164.5 L566.2,1165.1 L568.2,1165.8 L570.2,1166.4 L572.2,1167.0 L574.2,1167.7 L576.2,1168.4 L578.2,1169.1 L580.2,1169.9 L582.2,1170.6 L584.2,1171.4 L586.2,1172.2 L588.2,1172.9 L590.2,1173.7 L592.2,1174.4 L594.2,1175.1 L596.2,1175.8 L598.2,1176.5 L600.2,1177.3 L602.2,1178.0 L604.2,1178.7 L606.2,1179.4 L608.2,1180.1 L610.2,1180.7 L612.2,1181.4 L614.2,1182.1 L616.2,1182.8 L618.2,1183.5 L620.2,1184.1 L622.2,1184.8 L624.2,1185.4 L626.2,1186.1 L628.2,1186.8 L630.2,1187.4 L632.2,1188.1 L634.2,1188.8 L636.2,1189.5 L638.2,1190.2 L640.2,1190.9 L642.2,1191.6 L644.2,1192.3 L646.2,1193.0 L648.2,1193.7 L650.2,1194.5 L652.2,1195.2 L654.2,1196.0 L656.2,1196.8 L658.2,1197.6 L660.2,1198.4 L662.2,1199.3 L664.2,1200.2 L666.2,1201.1 L668.2,1202.0 L670.2,1202.9 L672.2,1203.8 L674.2,1204.8 L676.2,1205.7 L678.2,1206.6 L680.2,1207.5 L682.2,1208.5 L684.2,1209.4 L686.2,1210.3 L688.2,1211.3 L690.2,1212.2 L692.2,1213.1 L694.2,1214.0 L696.2,1214.8 L698.2,1215.5 L700.2,1216.2 L702.2,1216.9 L704.2,1217.6 L706.2,1218.3 L708.2,1219.1 L710.2,1219.9 L712.2,1220.7 L714.2,1221.9 L716.2,1223.3 L718.2,1224.7 L720.2,1225.8 L722.2,1226.6 L724.2,1226.8 L726.2,1226.9 L728.2,1227.0 L730.2,1227.4 L732.2,1228.7 L734.2,1230.8 L736.2,1233.2 L738.2,1235.4 L740.2,1236.9 L742.2,1238.0 L744.2,1239.0 L746.2,1239.8 L748.2,1240.6 L750.2,1241.4 L752.2,1242.1 L754.2,1242.8 L756.2,1243.5 L758.2,1244.3 L760.2,1245.0 L762.2,1245.6 L764.2,1246.3 L766.2,1247.0 L768.2,1247.7 L770.2,1248.7 L772.2,1250.0 L774.2,1251.8 L776.2,1253.7 L778.2,1255.5 L780.2,1256.9 L782.2,1257.8 L784.2,1258.5 L786.2,1259.1 L788.2,1259.7 L790.2,1260.2 L792.2,1260.9 L794.2,1261.7 L796.2,1262.7 L798.2,1263.8 L800.2,1265.0 L802.2,1266.2 L804.2,1267.6 L806.2,1269.0 L808.2,1270.5 L810.2,1272.0 L812.2,1273.5 L814.2,1274.9 L816.2,1276.4 L818.2,1277.8 L820.2,1279.2 L822.2,1280.5 L824.2,1281.7 L826.2,1282.9 L828.2,1284.1 L830.2,1285.3 L832.2,1286.5 L834.2,1287.7 L836.2,1289.0 L838.2,1290.4 L840.2,1292.2 L842.2,1294.5 L844.2,1296.9 L846.2,1298.9 L848.2,1300.2 L850.2,1300.4 L852.2,1300.4 L854.2,1300.4 L856.2,1300.4 L858.2,1301.2 L860.2,1302.9 L862.2,1305.1 L864.2,1307.6 L866.2,1309.9 L868.2,1311.9 L870.2,1313.3 L872.2,1314.6 L874.2,1315.8 L876.2,1317.0 L878.2,1318.1 L880.2,1319.4 L882.2,1320.8 L884.2,1322.4 L886.2,1324.0 L888.2,1325.8 L890.2,1327.6 L892.2,1329.5 L894.2,1331.3 L896.2,1333.3 L898.2,1335.3 L900.2,1337.3 L902.2,1339.3 L904.2,1341.4 L906.2,1343.4 L908.2,1345.3 L910.2,1347.1 L912.2,1348.9 L914.2,1350.6 L916.2,1352.4 L918.2,1354.3 L920.2,1356.3 L922.2,1358.4 L924.2,1360.6 L926.2,1362.9 L928.2,1365.3 L930.2,1367.7 L932.2,1370.3 L934.2,1372.9 L936.2,1375.4 L938.2,1377.6 L940.2,1379.6 L942.2,1381.6 L944.2,1383.4 L946.2,1385.2 L948.2,1387.0 L950.2,1388.7 L952.2,1390.5 L954.2,1392.4 L956.2,1394.6 L958.2,1397.0 L960.2,1399.4 L962.2,1401.5 L964.2,1403.3 L966.2,1404.7 L968.2,1406.1 L970.2,1407.6 L972.2,1409.2 L974.2,1411.1 L976.2,1413.1 L978.2,1415.4 L980.2,1418.2 L982.2,1421.3 L984.2,1424.5 L986.2,1427.5 L988.2,1430.2 L990.2,1432.6 L992.2,1435.0 L994.2,1437.5 L996.2,1440.2 L998.2,1442.9 L1000.2,1445.7 L1002.2,1448.6 L1004.2,1451.6 L1006.2,1454.7 L1008.2,1458.4 L1010.2,1462.1 L1012.2,1464.9 L1014.2,1467.3 L1016.2,1469.5 L1018.2,1471.5 L1020.2,1473.5 L1022.2,1475.4 L1024.2,1477.1 L1026.2,1478.7 L1028.2,1480.4 L1030.2,1482.4 L1032.2,1484.8 L1034.2,1487.5 L1036.2,1490.5 L1038.2,1493.7 L1040.2,1497.0 L1042.2,1500.3 L1044.2,1503.7 L1046.2,1507.2 L1048.2,1510.8 L1050.2,1514.4 L1052.2,1518.2 L1054.2,1521.9 L1056.2,1525.8 L1058.2,1529.8 L1060.2,1533.9 L1062.2,1537.9 L1064.2,1541.8 L1066.2,1545.4 L1068.2,1548.6 L1070.2,1551.6 L1072.2,1554.3 L1074.2,1556.3 L1076.2,1557.8 L1078.2,1559.3 L1080.2,1561.4 L1082.2,1564.2 L1084.2,1567.3 L1086.2,1570.7 L1088.2,1573.9 L1090.2,1576.7 L1092.2,1579.6 L1094.2,1582.5 L1096.2,1584.6 L1098.2,1585.0 L1100.2,1584.5 L1102.2,1583.8 L1104.2,1583.3 L1106.2,1583.5 L1108.2,1584.4 L1110.2,1585.2 L1112.2,1585.4 L1114.2,1585.0 L1116.2,1584.3 L1118.2,1583.5 L1120.2,1582.8 L1122.2,1581.9 L1124.2,1581.0 L1126.2,1580.0 L1128.2,1579.3 L1130.2,1578.8 L1132.2,1578.4 L1134.2,1578.2 L1136.2,1578.3 L1138.2,1578.9 L1140.2,1579.5 L1142.2,1579.4 L1144.2,1576.7 L1146.2,1573.2 L1148.2,1570.8 L1150.2,1569.8 L1152.2,1569.1 L1154.2,1567.9 L1156.2,1565.3 L1158.2,1561.1 L1160.2,1556.2 L1162.2,1550.9 L1164.2,1544.5 L1166.2,1538.7 L1168.2,1535.3 L1170.2,1533.0 L1172.2,1530.1 L1174.2,1525.9 L1176.2,1521.3 L1178.2,1517.2 L1180.2,1514.7 L1182.2,1512.9 L1184.2,1511.0 L1186.2,1508.5 L1188.2,1505.2 L1190.2,1501.3 L1192.2,1496.5 L1194.2,1490.7 L1196.2,1486.1 L1198.2,1482.6 L1200.2,1479.6 L1202.2,1477.4 L1204.2,1475.8 L1206.2,1474.4 L1208.2,1472.9 L1210.2,1471.0 L1212.2,1468.9 L1214.2,1466.3 L1216.2,1463.0 L1218.2,1458.8 L1220.2,1454.5 L1222.2,1450.7 L1224.2,1447.0 L1226.2,1443.7 L1228.2,1440.7 L1230.2,1437.9 L1232.2,1435.5 L1234.2,1433.8 L1236.2,1432.6 L1238.2,1431.5 L1240.2,1430.0 L1242.2,1427.4 L1244.2,1424.1 L1246.2,1420.7 L1248.2,1416.8 L1250.2,1412.6 L1252.2,1408.5 L1254.2,1404.8 L1256.2,1401.1 L1258.2,1397.9 L1260.2,1395.3 L1262.2,1392.9 L1264.2,1390.7 L1266.2,1388.8 L1268.2,1387.1 L1270.2,1385.6 L1272.2,1384.5 L1274.2,1383.3 L1276.2,1382.0 L1278.2,1380.1 L1280.2,1377.5 L1282.2,1374.5 L1284.2,1371.6 L1286.2,1368.5 L1288.2,1365.6 L1290.2,1363.5 L1292.2,1362.2 L1294.2,1361.3 L1296.2,1360.5 L1298.2,1359.6 L1300.2,1358.5 L1302.2,1357.2 L1304.2,1355.8 L1306.2,1354.4 L1308.2,1353.0 L1310.2,1351.9 L1312.2,1350.9 L1314.2,1349.8 L1316.2,1348.5 L1318.2,1346.6 L1320.2,1344.4 L1322.2,1342.5 L1324.2,1340.8 L1326.2,1339.1 L1328.2,1337.5 L1330.2,1335.9 L1332.2,1334.3 L1334.2,1332.6 L1336.2,1331.0 L1338.2,1329.3 L1340.2,1327.6 L1342.2,1325.7 L1344.2,1323.7 L1346.2,1321.7 L1348.2,1319.6 L1350.2,1317.6 L1352.2,1315.2 L1354.2,1312.7 L1356.2,1310.4 L1358.2,1308.5 L1360.2,1307.3 L1362.2,1306.3 L1364.2,1305.6 L1366.2,1304.8 L1368.2,1304.1 L1370.2,1303.2 L1372.2,1302.4 L1374.2,1301.5 L1377.5,1300.0" fill="none" stroke="#FFC000" stroke-width="2.8" stroke-linecap="round" stroke-linejoin="round"/>
<path d="M138.2,1120.0 L140.2,1119.5 L142.2,1119.0 L144.2,1118.6 L146.2,1118.1 L148.2,1117.6 L150.2,1117.2 L152.2,1116.7 L154.2,1116.3 L156.2,1115.9 L158.2,1115.4 L160.2,1115.0 L162.2,1114.6 L164.2,1114.2 L166.2,1113.9 L168.2,1113.5 L170.2,1113.1 L172.2,1112.7 L174.2,1112.4 L176.2,1112.0 L178.2,1111.6 L180.2,1111.3 L182.2,1110.9 L184.2,1110.6 L186.2,1110.3 L188.2,1109.9 L190.2,1109.6 L192.2,1109.3 L194.2,1109.0 L196.2,1108.7 L198.2,1108.4 L200.2,1108.1 L202.2,1107.9 L204.2,1107.6 L206.2,1107.3 L208.2,1107.0 L210.2,1106.8 L212.2,1106.5 L214.2,1106.3 L216.2,1106.0 L218.2,1105.8 L220.2,1105.6 L222.2,1105.4 L224.2,1105.2 L226.2,1105.0 L228.2,1104.9 L230.2,1104.7 L232.2,1104.5 L234.2,1104.4 L236.2,1104.2 L238.2,1104.0 L240.2,1103.9 L242.2,1103.7 L244.2,1103.6 L246.2,1103.5 L248.2,1103.3 L250.2,1103.2 L252.2,1103.1 L254.2,1103.0 L256.2,1103.0 L258.2,1102.9 L260.2,1102.9 L262.2,1102.9 L264.2,1102.9 L266.2,1102.9 L268.2,1102.9 L270.2,1102.9 L272.2,1102.9 L274.2,1102.9 L276.2,1102.9 L278.2,1102.9 L280.2,1102.9 L282.2,1102.9 L284.2,1102.9 L286.2,1102.9 L288.2,1102.9 L290.2,1102.9 L292.2,1102.9 L294.2,1102.9 L296.2,1102.9 L298.2,1102.9 L300.2,1102.9 L302.2,1102.9 L304.2,1102.9 L306.2,1102.9 L308.2,1102.9 L310.2,1102.9 L312.2,1102.9 L314.2,1102.9 L316.2,1102.9 L318.2,1102.9 L320.2,1102.9 L322.2,1102.9 L324.2,1102.9 L326.2,1102.9 L328.2,1102.9 L330.2,1102.9 L332.2,1103.0 L334.2,1103.0 L336.2,1103.1 L338.2,1103.2 L340.2,1103.3 L342.2,1103.4 L344.2,1103.4 L346.2,1103.5 L348.2,1103.6 L350.2,1103.7 L352.2,1103.8 L354.2,1103.9 L356.2,1104.0 L358.2,1104.1 L360.2,1104.1 L362.2,1104.2 L364.2,1104.3 L366.2,1104.4 L368.2,1104.5 L370.2,1104.6 L372.2,1104.7 L374.2,1104.8 L376.2,1104.9 L378.2,1105.0 L380.2,1105.1 L382.2,1105.2 L384.2,1105.4 L386.2,1105.5 L388.2,1105.7 L390.2,1105.9 L392.2,1106.1 L394.2,1106.3 L396.2,1106.5 L398.2,1106.8 L400.2,1107.1 L402.2,1107.4 L404.2,1107.6 L406.2,1107.9 L408.2,1108.3 L410.2,1108.6 L412.2,1108.9 L414.2,1109.2 L416.2,1109.5 L418.2,1109.8 L420.2,1110.2 L422.2,1110.5 L424.2,1110.8 L426.2,1111.1 L428.2,1111.4 L430.2,1111.7 L432.2,1112.0 L434.2,1112.4 L436.2,1112.7 L438.2,1113.0 L440.2,1113.4 L442.2,1113.7 L444.2,1114.0 L446.2,1114.3 L448.2,1114.6 L450.2,1114.9 L452.2,1115.2 L454.2,1115.5 L456.2,1115.7 L458.2,1116.0 L460.2,1116.3 L462.2,1116.5 L464.2,1116.8 L466.2,1117.0 L468.2,1117.3 L470.2,1117.6 L472.2,1117.9 L474.2,1118.2 L476.2,1118.5 L478.2,1118.8 L480.2,1119.2 L482.2,1119.5 L484.2,1119.9 L486.2,1120.3 L488.2,1120.6 L490.2,1121.0 L492.2,1121.4 L494.2,1121.8 L496.2,1122.1 L498.2,1122.4 L500.2,1122.8 L502.2,1123.1 L504.2,1123.5 L506.2,1123.8 L508.2,1124.1 L510.2,1124.4 L512.2,1124.7 L514.2,1125.0 L516.2,1125.2 L518.2,1125.4 L520.2,1125.7 L522.2,1125.9 L524.2,1126.2 L526.2,1126.5 L528.2,1126.8 L530.2,1127.1 L532.2,1127.5 L534.2,1127.9 L536.2,1128.3 L538.2,1128.8 L540.2,1129.3 L542.2,1129.7 L544.2,1130.3 L546.2,1130.8 L548.2,1131.3 L550.2,1131.8 L552.2,1132.4 L554.2,1133.0 L556.2,1133.7 L558.2,1134.4 L560.2,1135.1 L562.2,1135.8 L564.2,1136.5 L566.2,1137.2 L568.2,1137.9 L570.2,1138.6 L572.2,1139.2 L574.2,1139.8 L576.2,1140.4 L578.2,1140.9 L580.2,1141.5 L582.2,1142.0 L584.2,1142.5 L586.2,1143.0 L588.2,1143.5 L590.2,1144.0 L592.2,1144.5 L594.2,1144.9 L596.2,1145.4 L598.2,1145.7 L600.2,1146.1 L602.2,1146.5 L604.2,1146.8 L606.2,1147.2 L608.2,1147.6 L610.2,1148.0 L612.2,1148.4 L614.2,1148.9 L616.2,1149.4 L618.2,1150.0 L620.2,1150.7 L622.2,1151.4 L624.2,1152.1 L626.2,1152.8 L628.2,1153.5 L630.2,1154.2 L632.2,1154.9 L634.2,1155.6 L636.2,1156.2 L638.2,1156.9 L640.2,1157.5 L642.2,1158.1 L644.2,1158.8 L646.2,1159.4 L648.2,1160.1 L650.2,1160.7 L652.2,1161.3 L654.2,1161.9 L656.2,1162.6 L658.2,1163.2 L660.2,1163.8 L662.2,1164.4 L664.2,1165.0 L666.2,1165.6 L668.2,1166.2 L670.2,1166.8 L672.2,1167.3 L674.2,1167.9 L676.2,1168.6 L678.2,1169.2 L680.2,1169.8 L682.2,1170.5 L684.2,1171.2 L686.2,1171.9 L688.2,1172.6 L690.2,1173.2 L692.2,1173.9 L694.2,1174.4 L696.2,1174.9 L698.2,1175.4 L700.2,1175.8 L702.2,1176.2 L704.2,1176.6 L706.2,1177.0 L708.2,1177.4 L710.2,1177.8 L712.2,1178.3 L714.2,1178.8 L716.2,1179.3 L718.2,1179.8 L720.2,1180.3 L722.2,1180.9 L724.2,1181.4 L726.2,1182.0 L728.2,1182.6 L730.2,1183.2 L732.2,1183.8 L734.2,1184.5 L736.2,1185.2 L738.2,1186.0 L740.2,1186.8 L742.2,1187.6 L744.2,1188.5 L746.2,1189.3 L748.2,1190.2 L750.2,1191.0 L752.2,1191.8 L754.2,1192.6 L756.2,1193.3 L758.2,1193.9 L760.2,1194.5 L762.2,1195.0 L764.2,1195.5 L766.2,1195.9 L768.2,1196.3 L770.2,1196.8 L772.2,1197.2 L774.2,1197.6 L776.2,1198.1 L778.2,1198.6 L780.2,1199.1 L782.2,1199.7 L784.2,1200.4 L786.2,1201.2 L788.2,1201.9 L790.2,1202.8 L792.2,1203.6 L794.2,1204.4 L796.2,1205.3 L798.2,1206.1 L800.2,1206.9 L802.2,1207.7 L804.2,1208.5 L806.2,1209.3 L808.2,1210.1 L810.2,1210.9 L812.2,1211.7 L814.2,1212.5 L816.2,1213.2 L818.2,1213.9 L820.2,1214.6 L822.2,1215.2 L824.2,1215.7 L826.2,1216.2 L828.2,1216.7 L830.2,1217.2 L832.2,1217.7 L834.2,1218.2 L836.2,1218.7 L838.2,1219.3 L840.2,1219.9 L842.2,1220.5 L844.2,1221.2 L846.2,1222.0 L848.2,1222.8 L850.2,1223.7 L852.2,1224.7 L854.2,1225.7 L856.2,1226.6 L858.2,1227.6 L860.2,1228.5 L862.2,1229.3 L864.2,1230.1 L866.2,1230.9 L868.2,1231.7 L870.2,1232.4 L872.2,1233.2 L874.2,1233.9 L876.2,1234.6 L878.2,1235.4 L880.2,1236.1 L882.2,1236.8 L884.2,1237.6 L886.2,1238.3 L888.2,1239.0 L890.2,1239.7 L892.2,1240.4 L894.2,1241.1 L896.2,1241.9 L898.2,1242.6 L900.2,1243.3 L902.2,1244.0 L904.2,1244.8 L906.2,1245.5 L908.2,1246.3 L910.2,1247.0 L912.2,1247.8 L914.2,1248.5 L916.2,1249.3 L918.2,1250.1 L920.2,1251.0 L922.2,1251.8 L924.2,1252.7 L926.2,1253.7 L928.2,1254.6 L930.2,1255.6 L932.2,1256.7 L934.2,1257.7 L936.2,1258.7 L938.2,1259.8 L940.2,1260.8 L942.2,1261.8 L944.2,1262.8 L946.2,1263.8 L948.2,1264.8 L950.2,1265.8 L952.2,1266.8 L954.2,1267.7 L956.2,1268.7 L958.2,1269.6 L960.2,1270.5 L962.2,1271.4 L964.2,1272.3 L966.2,1273.1 L968.2,1273.9 L970.2,1274.7 L972.2,1275.4 L974.2,1276.2 L976.2,1277.0 L978.2,1277.8 L980.2,1278.6 L982.2,1279.4 L984.2,1280.2 L986.2,1280.9 L988.2,1281.6 L990.2,1282.3 L992.2,1283.1 L994.2,1284.0 L996.2,1285.0 L998.2,1286.3 L1000.2,1288.6 L1002.2,1291.6 L1004.2,1294.6 L1006.2,1296.6 L1008.2,1297.7 L1010.2,1298.6 L1012.2,1299.3 L1014.2,1299.9 L1016.2,1300.5 L1018.2,1301.0 L1020.2,1301.5 L1022.2,1302.1 L1024.2,1302.7 L1026.2,1303.4 L1028.2,1304.3 L1030.2,1305.4 L1032.2,1306.6 L1034.2,1307.7 L1036.2,1308.8 L1038.2,1309.7 L1040.2,1310.4 L1042.2,1310.7 L1044.2,1310.7 L1046.2,1310.7 L1048.2,1310.8 L1050.2,1311.4 L1052.2,1312.5 L1054.2,1313.9 L1056.2,1315.4 L1058.2,1316.8 L1060.2,1318.1 L1062.2,1319.0 L1064.2,1319.5 L1066.2,1319.9 L1068.2,1320.3 L1070.2,1320.6 L1072.2,1320.9 L1074.2,1321.3 L1076.2,1321.5 L1078.2,1321.8 L1080.2,1322.0 L1082.2,1322.2 L1084.2,1322.3 L1086.2,1322.4 L1088.2,1322.5 L1090.2,1322.5 L1092.2,1322.5 L1094.2,1322.5 L1096.2,1322.5 L1098.2,1322.5 L1100.2,1322.5 L1102.2,1322.5 L1104.2,1322.5 L1106.2,1322.5 L1108.2,1322.5 L1110.2,1322.5 L1112.2,1322.5 L1114.2,1322.5 L1116.2,1322.5 L1118.2,1322.7 L1120.2,1323.2 L1122.2,1323.8 L1124.2,1324.4 L1126.2,1324.9 L1128.2,1325.2 L1130.2,1325.3 L1132.2,1325.1 L1134.2,1324.7 L1136.2,1324.3 L1138.2,1323.8 L1140.2,1323.3 L1142.2,1322.8 L1144.2,1322.1 L1146.2,1321.3 L1148.2,1320.5 L1150.2,1319.7 L1152.2,1318.9 L1154.2,1318.2 L1156.2,1317.6 L1158.2,1317.0 L1160.2,1316.3 L1162.2,1315.7 L1164.2,1315.1 L1166.2,1314.5 L1168.2,1314.0 L1170.2,1313.4 L1172.2,1312.8 L1174.2,1312.3 L1176.2,1311.7 L1178.2,1311.2 L1180.2,1310.7 L1182.2,1310.2 L1184.2,1309.7 L1186.2,1309.2 L1188.2,1308.8 L1190.2,1308.4 L1192.2,1308.0 L1194.2,1307.6 L1196.2,1307.1 L1198.2,1306.7 L1200.2,1306.2 L1202.2,1305.7 L1204.2,1305.1 L1206.2,1304.5 L1208.2,1303.9 L1210.2,1303.1 L1212.2,1302.2 L1214.2,1301.2 L1216.2,1300.2 L1218.2,1299.2 L1220.2,1298.1 L1222.2,1297.1 L1224.2,1296.0 L1226.2,1295.0 L1228.2,1294.1 L1230.2,1293.2 L1232.2,1292.3 L1234.2,1291.5 L1236.2,1290.7 L1238.2,1289.8 L1240.2,1289.0 L1242.2,1288.2 L1244.2,1287.4 L1246.2,1286.5 L1248.2,1285.7 L1250.2,1284.8 L1252.2,1284.0 L1254.2,1283.1 L1256.2,1282.1 L1258.2,1281.1 L1260.2,1280.0 L1262.2,1278.9 L1264.2,1277.8 L1266.2,1276.8 L1268.2,1275.9 L1270.2,1275.1 L1272.2,1274.4 L1274.2,1273.8 L1276.2,1273.3 L1278.2,1272.8 L1280.2,1272.3 L1282.2,1271.9 L1284.2,1271.5 L1286.2,1271.1 L1288.2,1270.6 L1290.2,1270.1 L1292.2,1269.5 L1294.2,1268.8 L1296.2,1268.1 L1298.2,1267.3 L1300.2,1266.4 L1302.2,1265.5 L1304.2,1264.5 L1306.2,1263.5 L1308.2,1262.5 L1310.2,1261.5 L1312.2,1260.4 L1314.2,1259.4 L1316.2,1258.5 L1318.2,1257.5 L1320.2,1256.5 L1322.2,1255.4 L1324.2,1254.4 L1326.2,1253.3 L1328.2,1252.3 L1330.2,1251.3 L1332.2,1250.4 L1334.2,1249.5 L1336.2,1248.8 L1338.2,1248.1 L1340.2,1247.4 L1342.2,1246.8 L1344.2,1246.2 L1346.2,1245.7 L1348.2,1245.1 L1350.2,1244.6 L1352.2,1244.1 L1354.2,1243.6 L1356.2,1243.1 L1358.2,1242.6 L1360.2,1242.0 L1362.2,1241.4 L1364.2,1240.8 L1366.2,1240.2 L1368.2,1239.5 L1370.2,1238.8 L1372.2,1238.1 L1374.2,1237.3 L1377.5,1236.1" fill="none" stroke="#0070C0" stroke-width="2.8" stroke-linecap="round" stroke-linejoin="round" stroke-dasharray="10.0 14.0"/>
<path d="M138.2,1111.9 L140.2,1111.7 L142.2,1111.6 L144.2,1111.5 L146.2,1111.4 L148.2,1111.3 L150.2,1111.2 L152.2,1111.2 L154.2,1111.1 L156.2,1111.1 L158.2,1111.0 L160.2,1111.0 L162.2,1111.0 L164.2,1111.0 L166.2,1111.0 L168.2,1111.1 L170.2,1111.1 L172.2,1111.2 L174.2,1111.2 L176.2,1111.3 L178.2,1111.4 L180.2,1111.5 L182.2,1111.6 L184.2,1111.7 L186.2,1111.8 L188.2,1111.9 L190.2,1112.0 L192.2,1112.1 L194.2,1112.2 L196.2,1112.3 L198.2,1112.4 L200.2,1112.5 L202.2,1112.6 L204.2,1112.8 L206.2,1112.9 L208.2,1113.0 L210.2,1113.2 L212.2,1113.3 L214.2,1113.5 L216.2,1113.7 L218.2,1113.9 L220.2,1114.0 L222.2,1114.2 L224.2,1114.4 L226.2,1114.6 L228.2,1114.8 L230.2,1115.1 L232.2,1115.3 L234.2,1115.6 L236.2,1115.8 L238.2,1116.1 L240.2,1116.4 L242.2,1116.7 L244.2,1117.1 L246.2,1117.4 L248.2,1117.7 L250.2,1118.0 L252.2,1118.3 L254.2,1118.7 L256.2,1119.0 L258.2,1119.3 L260.2,1119.6 L262.2,1119.9 L264.2,1120.2 L266.2,1120.5 L268.2,1120.8 L270.2,1121.0 L272.2,1121.3 L274.2,1121.6 L276.2,1121.8 L278.2,1122.1 L280.2,1122.4 L282.2,1122.7 L284.2,1122.9 L286.2,1123.2 L288.2,1123.5 L290.2,1123.8 L292.2,1124.2 L294.2,1124.5 L296.2,1124.9 L298.2,1125.3 L300.2,1125.6 L302.2,1126.0 L304.2,1126.5 L306.2,1126.9 L308.2,1127.3 L310.2,1127.7 L312.2,1128.2 L314.2,1128.6 L316.2,1129.1 L318.2,1129.5 L320.2,1129.9 L322.2,1130.4 L324.2,1130.8 L326.2,1131.2 L328.2,1131.6 L330.2,1132.0 L332.2,1132.4 L334.2,1132.8 L336.2,1133.2 L338.2,1133.6 L340.2,1134.0 L342.2,1134.4 L344.2,1134.8 L346.2,1135.2 L348.2,1135.7 L350.2,1136.1 L352.2,1136.5 L354.2,1137.0 L356.2,1137.4 L358.2,1137.9 L360.2,1138.3 L362.2,1138.8 L364.2,1139.3 L366.2,1139.8 L368.2,1140.2 L370.2,1140.7 L372.2,1141.2 L374.2,1141.7 L376.2,1142.3 L378.2,1142.8 L380.2,1143.3 L382.2,1143.9 L384.2,1144.4 L386.2,1145.0 L388.2,1145.6 L390.2,1146.2 L392.2,1146.8 L394.2,1147.4 L396.2,1148.1 L398.2,1148.7 L400.2,1149.4 L402.2,1150.1 L404.2,1150.7 L406.2,1151.4 L408.2,1152.1 L410.2,1152.8 L412.2,1153.4 L414.2,1154.1 L416.2,1154.8 L418.2,1155.4 L420.2,1156.0 L422.2,1156.7 L424.2,1157.3 L426.2,1157.9 L428.2,1158.4 L430.2,1159.0 L432.2,1159.7 L434.2,1160.3 L436.2,1161.0 L438.2,1161.7 L440.2,1162.4 L442.2,1163.1 L444.2,1163.7 L446.2,1164.4 L448.2,1165.0 L450.2,1165.6 L452.2,1166.2 L454.2,1166.8 L456.2,1167.3 L458.2,1167.9 L460.2,1168.4 L462.2,1168.9 L464.2,1169.3 L466.2,1169.6 L468.2,1170.0 L470.2,1170.3 L472.2,1170.6 L474.2,1170.9 L476.2,1171.2 L478.2,1171.5 L480.2,1171.7 L482.2,1172.0 L484.2,1172.3 L486.2,1172.6 L488.2,1172.9 L490.2,1173.1 L492.2,1173.4 L494.2,1173.7 L496.2,1174.0 L498.2,1174.2 L500.2,1174.5 L502.2,1174.8 L504.2,1175.0 L506.2,1175.3 L508.2,1175.6 L510.2,1175.8 L512.2,1176.1 L514.2,1176.4 L516.2,1176.7 L518.2,1177.0 L520.2,1177.3 L522.2,1177.6 L524.2,1177.8 L526.2,1178.1 L528.2,1178.3 L530.2,1178.4 L532.2,1178.6 L534.2,1178.7 L536.2,1178.9 L538.2,1179.0 L540.2,1179.1 L542.2,1179.2 L544.2,1179.3 L546.2,1179.4 L548.2,1179.5 L550.2,1179.6 L552.2,1179.6 L554.2,1179.7 L556.2,1179.7 L558.2,1179.7 L560.2,1179.8 L562.2,1179.8 L564.2,1179.8 L566.2,1179.9 L568.2,1179.9 L570.2,1179.9 L572.2,1180.0 L574.2,1180.1 L576.2,1180.2 L578.2,1180.4 L580.2,1180.6 L582.2,1180.9 L584.2,1181.1 L586.2,1181.3 L588.2,1181.5 L590.2,1181.6 L592.2,1181.7 L594.2,1181.7 L596.2,1181.7 L598.2,1181.6 L600.2,1181.5 L602.2,1181.5 L604.2,1181.4 L606.2,1181.3 L608.2,1181.2 L610.2,1181.1 L612.2,1181.1 L614.2,1181.1 L616.2,1181.1 L618.2,1181.1 L620.2,1181.2 L622.2,1181.3 L624.2,1181.5 L626.2,1181.6 L628.2,1181.7 L630.2,1181.9 L632.2,1182.0 L634.2,1182.2 L636.2,1182.3 L638.2,1182.5 L640.2,1182.7 L642.2,1182.9 L644.2,1183.1 L646.2,1183.3 L648.2,1183.5 L650.2,1183.7 L652.2,1183.9 L654.2,1184.1 L656.2,1184.2 L658.2,1184.4 L660.2,1184.5 L662.2,1184.6 L664.2,1184.7 L666.2,1184.8 L668.2,1184.9 L670.2,1184.9 L672.2,1185.0 L674.2,1185.1 L676.2,1185.2 L678.2,1185.3 L680.2,1185.4 L682.2,1185.6 L684.2,1185.7 L686.2,1185.8 L688.2,1185.9 L690.2,1186.1 L692.2,1186.2 L694.2,1186.4 L696.2,1186.5 L698.2,1186.7 L700.2,1187.0 L702.2,1187.2 L704.2,1187.5 L706.2,1187.7 L708.2,1188.0 L710.2,1188.3 L712.2,1188.6 L714.2,1188.9 L716.2,1189.1 L718.2,1189.4 L720.2,1189.7 L722.2,1190.0 L724.2,1190.4 L726.2,1190.7 L728.2,1191.0 L730.2,1191.3 L732.2,1191.6 L734.2,1191.9 L736.2,1192.2 L738.2,1192.5 L740.2,1192.7 L742.2,1193.0 L744.2,1193.3 L746.2,1193.6 L748.2,1193.8 L750.2,1194.1 L752.2,1194.4 L754.2,1194.8 L756.2,1195.1 L758.2,1195.4 L760.2,1195.8 L762.2,1196.2 L764.2,1196.6 L766.2,1197.0 L768.2,1197.4 L770.2,1197.9 L772.2,1198.3 L774.2,1198.8 L776.2,1199.3 L778.2,1199.7 L780.2,1200.2 L782.2,1200.7 L784.2,1201.2 L786.2,1201.7 L788.2,1202.3 L790.2,1202.8 L792.2,1203.4 L794.2,1203.9 L796.2,1204.5 L798.2,1205.1 L800.2,1205.8 L802.2,1206.5 L804.2,1207.2 L806.2,1208.0 L808.2,1208.8 L810.2,1209.6 L812.2,1210.5 L814.2,1211.3 L816.2,1212.1 L818.2,1212.8 L820.2,1213.5 L822.2,1214.2 L824.2,1214.9 L826.2,1215.5 L828.2,1216.1 L830.2,1216.7 L832.2,1217.3 L834.2,1217.9 L836.2,1218.5 L838.2,1219.2 L840.2,1219.8 L842.2,1220.5 L844.2,1221.2 L846.2,1221.9 L848.2,1222.7 L850.2,1223.5 L852.2,1224.3 L854.2,1225.1 L856.2,1225.9 L858.2,1226.7 L860.2,1227.5 L862.2,1228.2 L864.2,1229.0 L866.2,1229.7 L868.2,1230.5 L870.2,1231.2 L872.2,1232.0 L874.2,1232.7 L876.2,1233.5 L878.2,1234.2 L880.2,1235.0 L882.2,1235.8 L884.2,1236.6 L886.2,1237.3 L888.2,1238.1 L890.2,1238.9 L892.2,1239.7 L894.2,1240.6 L896.2,1241.4 L898.2,1242.2 L900.2,1243.1 L902.2,1244.0 L904.2,1244.9 L906.2,1245.9 L908.2,1246.9 L910.2,1247.9 L912.2,1248.9 L914.2,1249.9 L916.2,1251.0 L918.2,1252.0 L920.2,1253.0 L922.2,1254.0 L924.2,1254.9 L926.2,1255.8 L928.2,1256.7 L930.2,1257.7 L932.2,1258.6 L934.2,1259.5 L936.2,1260.3 L938.2,1261.2 L940.2,1262.1 L942.2,1263.0 L944.2,1263.8 L946.2,1264.7 L948.2,1265.5 L950.2,1266.3 L952.2,1267.1 L954.2,1267.9 L956.2,1268.7 L958.2,1269.6 L960.2,1270.5 L962.2,1271.5 L964.2,1272.5 L966.2,1273.6 L968.2,1274.8 L970.2,1276.1 L972.2,1277.3 L974.2,1278.6 L976.2,1279.9 L978.2,1281.1 L980.2,1282.4 L982.2,1283.5 L984.2,1284.7 L986.2,1285.8 L988.2,1287.0 L990.2,1288.1 L992.2,1289.2 L994.2,1290.4 L996.2,1291.5 L998.2,1292.5 L1000.2,1293.6 L1002.2,1294.7 L1004.2,1295.7 L1006.2,1296.7 L1008.2,1297.6 L1010.2,1298.6 L1012.2,1299.5 L1014.2,1300.4 L1016.2,1301.3 L1018.2,1302.2 L1020.2,1303.1 L1022.2,1303.9 L1024.2,1304.7 L1026.2,1305.6 L1028.2,1306.3 L1030.2,1307.0 L1032.2,1307.6 L1034.2,1308.3 L1036.2,1308.9 L1038.2,1309.7 L1040.2,1310.5 L1042.2,1311.4 L1044.2,1312.8 L1046.2,1314.5 L1048.2,1315.4 L1050.2,1315.9 L1052.2,1316.3 L1054.2,1316.9 L1056.2,1317.7 L1058.2,1318.5 L1060.2,1319.5 L1062.2,1320.4 L1064.2,1321.4 L1066.2,1322.5 L1068.2,1323.5 L1070.2,1324.4 L1072.2,1325.4 L1074.2,1326.4 L1076.2,1327.6 L1078.2,1328.8 L1080.2,1329.9 L1082.2,1331.0 L1084.2,1331.9 L1086.2,1332.6 L1088.2,1333.1 L1090.2,1333.2 L1092.2,1333.2 L1094.2,1333.1 L1096.2,1332.9 L1098.2,1332.7 L1100.2,1332.5 L1102.2,1332.3 L1104.2,1332.1 L1106.2,1331.9 L1108.2,1331.8 L1110.2,1331.7 L1112.2,1331.8 L1114.2,1332.1 L1116.2,1332.8 L1118.2,1333.6 L1120.2,1334.4 L1122.2,1335.1 L1124.2,1335.8 L1126.2,1336.6 L1128.2,1337.4 L1130.2,1338.2 L1132.2,1339.0 L1134.2,1339.7 L1136.2,1340.4 L1138.2,1341.0 L1140.2,1341.7 L1142.2,1342.4 L1144.2,1343.0 L1146.2,1343.7 L1148.2,1344.3 L1150.2,1344.9 L1152.2,1345.3 L1154.2,1345.7 L1156.2,1346.0 L1158.2,1346.1 L1160.2,1345.9 L1162.2,1345.4 L1164.2,1344.6 L1166.2,1343.7 L1168.2,1342.5 L1170.2,1341.4 L1172.2,1340.2 L1174.2,1338.6 L1176.2,1336.5 L1178.2,1334.5 L1180.2,1332.7 L1182.2,1331.6 L1184.2,1331.4 L1186.2,1331.6 L1188.2,1331.8 L1190.2,1332.2 L1192.2,1332.6 L1194.2,1333.0 L1196.2,1333.5 L1198.2,1333.9 L1200.2,1334.5 L1202.2,1335.1 L1204.2,1335.6 L1206.2,1335.7 L1208.2,1335.7 L1210.2,1335.7 L1212.2,1335.7 L1214.2,1335.6 L1216.2,1335.5 L1218.2,1335.4 L1220.2,1335.2 L1222.2,1334.6 L1224.2,1333.4 L1226.2,1331.5 L1228.2,1329.5 L1230.2,1328.0 L1232.2,1326.5 L1234.2,1325.3 L1236.2,1324.5 L1238.2,1323.9 L1240.2,1323.5 L1242.2,1323.4 L1244.2,1323.3 L1246.2,1323.1 L1248.2,1322.8 L1250.2,1322.0 L1252.2,1320.9 L1254.2,1319.6 L1256.2,1317.6 L1258.2,1315.6 L1260.2,1314.1 L1262.2,1313.5 L1264.2,1312.6 L1266.2,1311.5 L1268.2,1310.2 L1270.2,1309.0 L1272.2,1307.9 L1274.2,1306.9 L1276.2,1305.9 L1278.2,1304.9 L1280.2,1304.0 L1282.2,1303.2 L1284.2,1302.5 L1286.2,1302.0 L1288.2,1301.5 L1290.2,1301.0 L1292.2,1300.5 L1294.2,1299.7 L1296.2,1298.5 L1298.2,1297.2 L1300.2,1295.7 L1302.2,1294.2 L1304.2,1292.7 L1306.2,1291.5 L1308.2,1290.4 L1310.2,1289.4 L1312.2,1288.5 L1314.2,1287.4 L1316.2,1286.3 L1318.2,1285.1 L1320.2,1283.8 L1322.2,1282.4 L1324.2,1281.0 L1326.2,1279.6 L1328.2,1278.2 L1330.2,1276.6 L1332.2,1275.0 L1334.2,1273.5 L1336.2,1272.2 L1338.2,1271.1 L1340.2,1270.0 L1342.2,1269.1 L1344.2,1268.1 L1346.2,1267.2 L1348.2,1266.4 L1350.2,1265.6 L1352.2,1264.9 L1354.2,1264.1 L1356.2,1263.3 L1358.2,1262.3 L1360.2,1261.2 L1362.2,1259.9 L1364.2,1258.6 L1366.2,1257.3 L1368.2,1256.3 L1370.2,1255.3 L1372.2,1254.3 L1374.2,1253.5 L1377.5,1252.1" fill="none" stroke="#7EC942" stroke-width="2.8" stroke-linecap="round" stroke-linejoin="round" stroke-dasharray="10.0 14.0"/>
<path d="M138.2,1099.6 L140.2,1099.1 L142.2,1098.6 L144.2,1098.1 L146.2,1097.6 L148.2,1097.1 L150.2,1096.7 L152.2,1096.2 L154.2,1095.8 L156.2,1095.4 L158.2,1095.0 L160.2,1094.6 L162.2,1094.3 L164.2,1094.0 L166.2,1093.6 L168.2,1093.3 L170.2,1093.0 L172.2,1092.7 L174.2,1092.4 L176.2,1092.2 L178.2,1091.9 L180.2,1091.6 L182.2,1091.4 L184.2,1091.1 L186.2,1090.9 L188.2,1090.7 L190.2,1090.5 L192.2,1090.3 L194.2,1090.1 L196.2,1089.9 L198.2,1089.7 L200.2,1089.5 L202.2,1089.4 L204.2,1089.2 L206.2,1089.0 L208.2,1088.8 L210.2,1088.7 L212.2,1088.5 L214.2,1088.4 L216.2,1088.2 L218.2,1088.1 L220.2,1088.0 L222.2,1087.9 L224.2,1087.9 L226.2,1087.9 L228.2,1087.9 L230.2,1087.9 L232.2,1087.9 L234.2,1087.9 L236.2,1087.9 L238.2,1087.9 L240.2,1087.9 L242.2,1088.0 L244.2,1088.0 L246.2,1088.0 L248.2,1088.0 L250.2,1088.1 L252.2,1088.1 L254.2,1088.1 L256.2,1088.2 L258.2,1088.2 L260.2,1088.2 L262.2,1088.3 L264.2,1088.3 L266.2,1088.4 L268.2,1088.4 L270.2,1088.5 L272.2,1088.6 L274.2,1088.7 L276.2,1088.8 L278.2,1088.9 L280.2,1089.1 L282.2,1089.2 L284.2,1089.3 L286.2,1089.5 L288.2,1089.6 L290.2,1089.8 L292.2,1089.9 L294.2,1090.1 L296.2,1090.3 L298.2,1090.5 L300.2,1090.7 L302.2,1090.9 L304.2,1091.1 L306.2,1091.4 L308.2,1091.6 L310.2,1091.9 L312.2,1092.2 L314.2,1092.4 L316.2,1092.7 L318.2,1093.0 L320.2,1093.3 L322.2,1093.6 L324.2,1093.9 L326.2,1094.2 L328.2,1094.5 L330.2,1094.8 L332.2,1095.2 L334.2,1095.5 L336.2,1095.9 L338.2,1096.3 L340.2,1096.6 L342.2,1097.0 L344.2,1097.4 L346.2,1097.8 L348.2,1098.2 L350.2,1098.6 L352.2,1099.0 L354.2,1099.5 L356.2,1099.9 L358.2,1100.3 L360.2,1100.8 L362.2,1101.3 L364.2,1101.7 L366.2,1102.2 L368.2,1102.7 L370.2,1103.2 L372.2,1103.7 L374.2,1104.3 L376.2,1104.8 L378.2,1105.3 L380.2,1105.9 L382.2,1106.4 L384.2,1106.9 L386.2,1107.5 L388.2,1108.0 L390.2,1108.5 L392.2,1109.1 L394.2,1109.6 L396.2,1110.2 L398.2,1110.7 L400.2,1111.3 L402.2,1111.9 L404.2,1112.4 L406.2,1113.0 L408.2,1113.6 L410.2,1114.2 L412.2,1114.8 L414.2,1115.5 L416.2,1116.1 L418.2,1116.8 L420.2,1117.4 L422.2,1118.1 L424.2,1118.8 L426.2,1119.5 L428.2,1120.3 L430.2,1121.0 L432.2,1121.8 L434.2,1122.6 L436.2,1123.4 L438.2,1124.3 L440.2,1125.2 L442.2,1126.1 L444.2,1127.1 L446.2,1128.3 L448.2,1129.5 L450.2,1130.8 L452.2,1132.0 L454.2,1133.2 L456.2,1134.4 L458.2,1135.6 L460.2,1136.8 L462.2,1138.0 L464.2,1139.1 L466.2,1140.2 L468.2,1141.3 L470.2,1142.3 L472.2,1143.2 L474.2,1144.0 L476.2,1144.8 L478.2,1145.6 L480.2,1146.4 L482.2,1147.1 L484.2,1147.8 L486.2,1148.6 L488.2,1149.3 L490.2,1150.1 L492.2,1150.8 L494.2,1151.6 L496.2,1152.3 L498.2,1153.1 L500.2,1153.8 L502.2,1154.6 L504.2,1155.4 L506.2,1156.2 L508.2,1157.0 L510.2,1157.9 L512.2,1158.9 L514.2,1159.9 L516.2,1161.0 L518.2,1162.0 L520.2,1163.0 L522.2,1163.9 L524.2,1164.9 L526.2,1165.8 L528.2,1166.8 L530.2,1167.7 L532.2,1168.5 L534.2,1169.3 L536.2,1170.1 L538.2,1170.7 L540.2,1171.2 L542.2,1171.7 L544.2,1172.2 L546.2,1172.7 L548.2,1173.1 L550.2,1173.6 L552.2,1174.2 L554.2,1174.8 L556.2,1175.4 L558.2,1175.9 L560.2,1176.4 L562.2,1176.7 L564.2,1176.9 L566.2,1177.1 L568.2,1177.3 L570.2,1177.4 L572.2,1177.5 L574.2,1177.6 L576.2,1177.7 L578.2,1177.8 L580.2,1177.8 L582.2,1177.9 L584.2,1177.9 L586.2,1177.8 L588.2,1177.8 L590.2,1177.8 L592.2,1177.8 L594.2,1177.8 L596.2,1177.8 L598.2,1177.7 L600.2,1177.7 L602.2,1177.7 L604.2,1177.6 L606.2,1177.6 L608.2,1177.5 L610.2,1177.5 L612.2,1177.5 L614.2,1177.4 L616.2,1177.4 L618.2,1177.3 L620.2,1177.3 L622.2,1177.2 L624.2,1177.1 L626.2,1177.0 L628.2,1177.0 L630.2,1176.9 L632.2,1176.8 L634.2,1176.8 L636.2,1176.7 L638.2,1176.6 L640.2,1176.6 L642.2,1176.5 L644.2,1176.4 L646.2,1176.3 L648.2,1176.3 L650.2,1176.2 L652.2,1176.2 L654.2,1176.2 L656.2,1176.1 L658.2,1176.1 L660.2,1176.2 L662.2,1176.2 L664.2,1176.3 L666.2,1176.4 L668.2,1176.5 L670.2,1176.6 L672.2,1176.6 L674.2,1176.7 L676.2,1176.8 L678.2,1176.8 L680.2,1176.8 L682.2,1176.8 L684.2,1176.7 L686.2,1176.7 L688.2,1176.7 L690.2,1176.6 L692.2,1176.6 L694.2,1176.5 L696.2,1176.4 L698.2,1176.4 L700.2,1176.3 L702.2,1176.3 L704.2,1176.2 L706.2,1176.2 L708.2,1176.2 L710.2,1176.1 L712.2,1176.1 L714.2,1176.1 L716.2,1176.1 L718.2,1176.1 L720.2,1176.1 L722.2,1176.1 L724.2,1176.1 L726.2,1176.1 L728.2,1176.1 L730.2,1176.1 L732.2,1176.1 L734.2,1176.1 L736.2,1176.2 L738.2,1176.3 L740.2,1176.4 L742.2,1176.6 L744.2,1176.8 L746.2,1177.1 L748.2,1177.4 L750.2,1177.7 L752.2,1178.0 L754.2,1178.3 L756.2,1178.6 L758.2,1178.9 L760.2,1179.3 L762.2,1179.7 L764.2,1180.3 L766.2,1180.8 L768.2,1181.4 L770.2,1181.9 L772.2,1182.4 L774.2,1182.8 L776.2,1183.2 L778.2,1183.4 L780.2,1183.7 L782.2,1183.9 L784.2,1184.0 L786.2,1184.2 L788.2,1184.3 L790.2,1184.5 L792.2,1184.6 L794.2,1184.8 L796.2,1185.0 L798.2,1185.2 L800.2,1185.4 L802.2,1185.6 L804.2,1185.9 L806.2,1186.2 L808.2,1186.4 L810.2,1186.7 L812.2,1187.1 L814.2,1187.4 L816.2,1187.7 L818.2,1188.0 L820.2,1188.3 L822.2,1188.6 L824.2,1188.8 L826.2,1189.1 L828.2,1189.4 L830.2,1189.6 L832.2,1189.9 L834.2,1190.2 L836.2,1190.5 L838.2,1190.9 L840.2,1191.2 L842.2,1191.6 L844.2,1192.1 L846.2,1192.7 L848.2,1193.4 L850.2,1194.2 L852.2,1195.1 L854.2,1196.0 L856.2,1196.9 L858.2,1197.7 L860.2,1198.6 L862.2,1199.3 L864.2,1200.0 L866.2,1200.7 L868.2,1201.4 L870.2,1202.1 L872.2,1202.8 L874.2,1203.4 L876.2,1204.1 L878.2,1204.7 L880.2,1205.2 L882.2,1205.7 L884.2,1206.2 L886.2,1206.7 L888.2,1207.1 L890.2,1207.4 L892.2,1207.8 L894.2,1208.2 L896.2,1208.5 L898.2,1208.9 L900.2,1209.4 L902.2,1209.8 L904.2,1210.4 L906.2,1210.9 L908.2,1211.5 L910.2,1212.1 L912.2,1212.8 L914.2,1213.5 L916.2,1214.2 L918.2,1214.9 L920.2,1215.7 L922.2,1216.5 L924.2,1217.2 L926.2,1218.0 L928.2,1218.9 L930.2,1219.8 L932.2,1220.7 L934.2,1221.6 L936.2,1222.5 L938.2,1223.5 L940.2,1224.4 L942.2,1225.4 L944.2,1226.4 L946.2,1227.4 L948.2,1228.5 L950.2,1229.6 L952.2,1230.8 L954.2,1231.9 L956.2,1233.0 L958.2,1234.1 L960.2,1235.1 L962.2,1236.1 L964.2,1237.0 L966.2,1237.8 L968.2,1238.6 L970.2,1239.4 L972.2,1240.2 L974.2,1240.9 L976.2,1241.7 L978.2,1242.5 L980.2,1243.2 L982.2,1244.0 L984.2,1244.8 L986.2,1245.6 L988.2,1246.4 L990.2,1247.1 L992.2,1247.9 L994.2,1248.6 L996.2,1249.4 L998.2,1250.2 L1000.2,1251.0 L1002.2,1251.9 L1004.2,1252.8 L1006.2,1253.8 L1008.2,1254.9 L1010.2,1256.1 L1012.2,1257.4 L1014.2,1258.7 L1016.2,1260.2 L1018.2,1261.6 L1020.2,1263.0 L1022.2,1264.4 L1024.2,1265.8 L1026.2,1267.1 L1028.2,1268.4 L1030.2,1269.7 L1032.2,1270.9 L1034.2,1272.2 L1036.2,1273.5 L1038.2,1274.7 L1040.2,1275.9 L1042.2,1277.0 L1044.2,1278.1 L1046.2,1279.2 L1048.2,1280.1 L1050.2,1281.0 L1052.2,1281.9 L1054.2,1282.6 L1056.2,1283.4 L1058.2,1284.1 L1060.2,1284.9 L1062.2,1285.6 L1064.2,1286.5 L1066.2,1287.4 L1068.2,1288.4 L1070.2,1289.4 L1072.2,1290.6 L1074.2,1291.9 L1076.2,1293.2 L1078.2,1294.6 L1080.2,1296.0 L1082.2,1297.5 L1084.2,1299.0 L1086.2,1300.4 L1088.2,1301.9 L1090.2,1303.4 L1092.2,1304.8 L1094.2,1306.4 L1096.2,1308.2 L1098.2,1310.4 L1100.2,1312.4 L1102.2,1313.7 L1104.2,1314.2 L1106.2,1314.4 L1108.2,1314.6 L1110.2,1314.8 L1112.2,1315.2 L1114.2,1315.8 L1116.2,1316.7 L1118.2,1317.9 L1120.2,1319.2 L1122.2,1320.6 L1124.2,1322.4 L1126.2,1325.1 L1128.2,1327.5 L1130.2,1329.0 L1132.2,1330.2 L1134.2,1331.2 L1136.2,1332.1 L1138.2,1332.9 L1140.2,1333.8 L1142.2,1334.6 L1144.2,1335.4 L1146.2,1336.2 L1148.2,1337.0 L1150.2,1337.8 L1152.2,1338.6 L1154.2,1339.5 L1156.2,1340.5 L1158.2,1341.5 L1160.2,1342.5 L1162.2,1343.5 L1164.2,1344.6 L1166.2,1345.6 L1168.2,1346.6 L1170.2,1347.7 L1172.2,1348.7 L1174.2,1349.7 L1176.2,1350.6 L1178.2,1351.4 L1180.2,1352.1 L1182.2,1352.8 L1184.2,1353.5 L1186.2,1354.1 L1188.2,1354.5 L1190.2,1355.0 L1192.2,1355.6 L1194.2,1356.9 L1196.2,1361.5 L1198.2,1365.6 L1200.2,1363.9 L1202.2,1357.5 L1204.2,1354.8 L1206.2,1354.3 L1208.2,1353.9 L1210.2,1353.7 L1212.2,1353.5 L1214.2,1353.4 L1216.2,1353.8 L1218.2,1354.8 L1220.2,1356.3 L1222.2,1357.7 L1224.2,1358.7 L1226.2,1358.9 L1228.2,1358.6 L1230.2,1358.1 L1232.2,1357.4 L1234.2,1356.6 L1236.2,1355.9 L1238.2,1355.2 L1240.2,1354.4 L1242.2,1353.5 L1244.2,1352.7 L1246.2,1351.9 L1248.2,1351.3 L1250.2,1350.9 L1252.2,1350.6 L1254.2,1350.3 L1256.2,1350.1 L1258.2,1349.8 L1260.2,1349.5 L1262.2,1349.1 L1264.2,1348.7 L1266.2,1348.3 L1268.2,1347.8 L1270.2,1347.4 L1272.2,1346.9 L1274.2,1346.3 L1276.2,1345.8 L1278.2,1345.2 L1280.2,1344.6 L1282.2,1344.0 L1284.2,1343.5 L1286.2,1343.0 L1288.2,1342.5 L1290.2,1342.0 L1292.2,1341.4 L1294.2,1340.7 L1296.2,1339.9 L1298.2,1338.8 L1300.2,1337.5 L1302.2,1336.2 L1304.2,1334.8 L1306.2,1333.5 L1308.2,1332.1 L1310.2,1330.8 L1312.2,1329.4 L1314.2,1328.1 L1316.2,1326.8 L1318.2,1325.6 L1320.2,1324.5 L1322.2,1323.3 L1324.2,1322.2 L1326.2,1321.2 L1328.2,1320.2 L1330.2,1319.3 L1332.2,1318.3 L1334.2,1317.3 L1336.2,1316.1 L1338.2,1314.7 L1340.2,1313.1 L1342.2,1311.5 L1344.2,1310.0 L1346.2,1308.6 L1348.2,1307.3 L1350.2,1306.0 L1352.2,1304.9 L1354.2,1304.0 L1356.2,1303.4 L1358.2,1302.9 L1360.2,1302.5 L1362.2,1302.2 L1364.2,1301.8 L1366.2,1301.4 L1368.2,1301.2 L1370.2,1301.0 L1372.2,1300.7 L1374.2,1300.2 L1377.5,1292.9" fill="none" stroke="#FF0000" stroke-width="2.8" stroke-linecap="round" stroke-linejoin="round" stroke-dasharray="10.0 14.0"/>
<path d="M138.2,1159.0 L140.2,1158.6 L142.2,1158.2 L144.2,1157.8 L146.2,1157.4 L148.2,1157.0 L150.2,1156.6 L152.2,1156.2 L154.2,1155.8 L156.2,1155.4 L158.2,1155.0 L160.2,1154.6 L162.2,1154.3 L164.2,1153.9 L166.2,1153.5 L168.2,1153.1 L170.2,1152.8 L172.2,1152.4 L174.2,1152.0 L176.2,1151.6 L178.2,1151.2 L180.2,1150.8 L182.2,1150.5 L184.2,1150.1 L186.2,1149.8 L188.2,1149.4 L190.2,1149.1 L192.2,1148.8 L194.2,1148.5 L196.2,1148.3 L198.2,1148.0 L200.2,1147.8 L202.2,1147.6 L204.2,1147.4 L206.2,1147.2 L208.2,1147.0 L210.2,1146.9 L212.2,1146.7 L214.2,1146.5 L216.2,1146.4 L218.2,1146.2 L220.2,1146.1 L222.2,1146.0 L224.2,1145.9 L226.2,1145.7 L228.2,1145.6 L230.2,1145.5 L232.2,1145.4 L234.2,1145.3 L236.2,1145.2 L238.2,1145.1 L240.2,1145.0 L242.2,1144.9 L244.2,1144.8 L246.2,1144.7 L248.2,1144.6 L250.2,1144.5 L252.2,1144.4 L254.2,1144.3 L256.2,1144.2 L258.2,1144.2 L260.2,1144.1 L262.2,1144.0 L264.2,1144.0 L266.2,1143.9 L268.2,1143.8 L270.2,1143.7 L272.2,1143.6 L274.2,1143.6 L276.2,1143.5 L278.2,1143.4 L280.2,1143.4 L282.2,1143.3 L284.2,1143.3 L286.2,1143.2 L288.2,1143.2 L290.2,1143.2 L292.2,1143.1 L294.2,1143.1 L296.2,1143.2 L298.2,1143.2 L300.2,1143.2 L302.2,1143.2 L304.2,1143.2 L306.2,1143.3 L308.2,1143.3 L310.2,1143.3 L312.2,1143.4 L314.2,1143.4 L316.2,1143.4 L318.2,1143.5 L320.2,1143.5 L322.2,1143.5 L324.2,1143.6 L326.2,1143.6 L328.2,1143.6 L330.2,1143.6 L332.2,1143.7 L334.2,1143.7 L336.2,1143.7 L338.2,1143.7 L340.2,1143.8 L342.2,1143.8 L344.2,1143.8 L346.2,1143.8 L348.2,1143.9 L350.2,1143.9 L352.2,1143.9 L354.2,1144.0 L356.2,1144.0 L358.2,1144.1 L360.2,1144.2 L362.2,1144.2 L364.2,1144.3 L366.2,1144.4 L368.2,1144.6 L370.2,1144.7 L372.2,1144.8 L374.2,1144.9 L376.2,1145.1 L378.2,1145.2 L380.2,1145.4 L382.2,1145.5 L384.2,1145.7 L386.2,1145.8 L388.2,1146.0 L390.2,1146.2 L392.2,1146.4 L394.2,1146.6 L396.2,1146.8 L398.2,1147.0 L400.2,1147.3 L402.2,1147.5 L404.2,1147.8 L406.2,1148.0 L408.2,1148.3 L410.2,1148.5 L412.2,1148.7 L414.2,1148.9 L416.2,1149.1 L418.2,1149.3 L420.2,1149.5 L422.2,1149.6 L424.2,1149.8 L426.2,1149.9 L428.2,1150.0 L430.2,1150.1 L432.2,1150.2 L434.2,1150.3 L436.2,1150.4 L438.2,1150.5 L440.2,1150.6 L442.2,1150.7 L444.2,1150.8 L446.2,1150.9 L448.2,1151.1 L450.2,1151.2 L452.2,1151.4 L454.2,1151.6 L456.2,1151.8 L458.2,1152.0 L460.2,1152.3 L462.2,1152.5 L464.2,1152.8 L466.2,1153.0 L468.2,1153.3 L470.2,1153.6 L472.2,1153.9 L474.2,1154.2 L476.2,1154.5 L478.2,1154.8 L480.2,1155.2 L482.2,1155.5 L484.2,1155.9 L486.2,1156.3 L488.2,1156.7 L490.2,1157.1 L492.2,1157.5 L494.2,1157.8 L496.2,1158.1 L498.2,1158.4 L500.2,1158.6 L502.2,1158.9 L504.2,1159.1 L506.2,1159.3 L508.2,1159.5 L510.2,1159.7 L512.2,1160.0 L514.2,1160.2 L516.2,1160.4 L518.2,1160.6 L520.2,1160.8 L522.2,1161.0 L524.2,1161.3 L526.2,1161.5 L528.2,1161.7 L530.2,1162.0 L532.2,1162.3 L534.2,1162.5 L536.2,1162.8 L538.2,1163.1 L540.2,1163.4 L542.2,1163.7 L544.2,1164.0 L546.2,1164.4 L548.2,1164.7 L550.2,1165.0 L552.2,1165.4 L554.2,1165.7 L556.2,1166.1 L558.2,1166.4 L560.2,1166.8 L562.2,1167.2 L564.2,1167.6 L566.2,1168.0 L568.2,1168.4 L570.2,1168.8 L572.2,1169.2 L574.2,1169.7 L576.2,1170.2 L578.2,1170.7 L580.2,1171.2 L582.2,1171.7 L584.2,1172.3 L586.2,1172.9 L588.2,1173.4 L590.2,1173.9 L592.2,1174.5 L594.2,1175.0 L596.2,1175.5 L598.2,1176.0 L600.2,1176.4 L602.2,1176.9 L604.2,1177.4 L606.2,1177.9 L608.2,1178.4 L610.2,1178.9 L612.2,1179.4 L614.2,1180.0 L616.2,1180.6 L618.2,1181.2 L620.2,1181.8 L622.2,1182.5 L624.2,1183.2 L626.2,1183.9 L628.2,1184.6 L630.2,1185.3 L632.2,1186.0 L634.2,1186.6 L636.2,1187.3 L638.2,1187.9 L640.2,1188.5 L642.2,1189.2 L644.2,1189.8 L646.2,1190.4 L648.2,1191.0 L650.2,1191.7 L652.2,1192.3 L654.2,1193.0 L656.2,1193.6 L658.2,1194.3 L660.2,1194.9 L662.2,1195.6 L664.2,1196.2 L666.2,1196.9 L668.2,1197.5 L670.2,1198.2 L672.2,1198.9 L674.2,1199.7 L676.2,1200.4 L678.2,1201.3 L680.2,1202.2 L682.2,1203.3 L684.2,1204.4 L686.2,1205.6 L688.2,1206.7 L690.2,1207.6 L692.2,1208.4 L694.2,1209.1 L696.2,1209.8 L698.2,1210.4 L700.2,1211.0 L702.2,1211.7 L704.2,1212.4 L706.2,1213.0 L708.2,1213.7 L710.2,1214.5 L712.2,1215.4 L714.2,1216.6 L716.2,1218.2 L718.2,1219.8 L720.2,1221.3 L722.2,1222.3 L724.2,1222.7 L726.2,1222.9 L728.2,1223.2 L730.2,1223.3 L732.2,1223.5 L734.2,1223.7 L736.2,1224.0 L738.2,1224.4 L740.2,1224.8 L742.2,1225.2 L744.2,1225.7 L746.2,1226.3 L748.2,1227.0 L750.2,1228.0 L752.2,1229.4 L754.2,1231.0 L756.2,1232.5 L758.2,1233.6 L760.2,1234.3 L762.2,1234.9 L764.2,1235.5 L766.2,1235.9 L768.2,1236.4 L770.2,1236.9 L772.2,1237.4 L774.2,1238.0 L776.2,1238.6 L778.2,1239.2 L780.2,1239.8 L782.2,1240.6 L784.2,1241.4 L786.2,1242.4 L788.2,1243.4 L790.2,1244.4 L792.2,1245.3 L794.2,1246.0 L796.2,1246.5 L798.2,1246.9 L800.2,1247.2 L802.2,1247.5 L804.2,1247.7 L806.2,1248.1 L808.2,1248.5 L810.2,1249.1 L812.2,1250.0 L814.2,1251.1 L816.2,1252.2 L818.2,1253.4 L820.2,1254.4 L822.2,1255.4 L824.2,1256.5 L826.2,1257.5 L828.2,1258.5 L830.2,1259.4 L832.2,1260.1 L834.2,1260.8 L836.2,1261.5 L838.2,1262.1 L840.2,1262.7 L842.2,1263.4 L844.2,1264.0 L846.2,1264.7 L848.2,1265.3 L850.2,1265.9 L852.2,1266.5 L854.2,1267.1 L856.2,1267.8 L858.2,1268.5 L860.2,1269.2 L862.2,1270.0 L864.2,1270.9 L866.2,1272.0 L868.2,1273.1 L870.2,1274.1 L872.2,1275.1 L874.2,1275.9 L876.2,1276.6 L878.2,1277.2 L880.2,1277.9 L882.2,1278.6 L884.2,1279.4 L886.2,1280.2 L888.2,1281.0 L890.2,1281.9 L892.2,1282.9 L894.2,1283.9 L896.2,1285.1 L898.2,1286.5 L900.2,1288.1 L902.2,1289.6 L904.2,1290.9 L906.2,1292.1 L908.2,1293.4 L910.2,1294.6 L912.2,1295.6 L914.2,1296.4 L916.2,1296.9 L918.2,1297.1 L920.2,1297.3 L922.2,1297.4 L924.2,1297.6 L926.2,1297.8 L928.2,1298.2 L930.2,1298.8 L932.2,1299.6 L934.2,1300.5 L936.2,1301.6 L938.2,1302.9 L940.2,1305.0 L942.2,1307.5 L944.2,1309.8 L946.2,1311.4 L948.2,1312.5 L950.2,1313.5 L952.2,1314.4 L954.2,1315.3 L956.2,1316.3 L958.2,1317.4 L960.2,1318.4 L962.2,1319.4 L964.2,1320.4 L966.2,1321.4 L968.2,1322.2 L970.2,1323.0 L972.2,1323.7 L974.2,1324.4 L976.2,1325.2 L978.2,1326.3 L980.2,1327.8 L982.2,1329.7 L984.2,1331.8 L986.2,1333.8 L988.2,1335.5 L990.2,1336.6 L992.2,1337.6 L994.2,1338.4 L996.2,1339.4 L998.2,1340.8 L1000.2,1342.5 L1002.2,1344.6 L1004.2,1346.7 L1006.2,1348.6 L1008.2,1350.4 L1010.2,1352.2 L1012.2,1354.0 L1014.2,1355.9 L1016.2,1357.7 L1018.2,1359.6 L1020.2,1361.5 L1022.2,1363.3 L1024.2,1365.2 L1026.2,1367.1 L1028.2,1368.9 L1030.2,1370.7 L1032.2,1372.5 L1034.2,1374.2 L1036.2,1376.0 L1038.2,1377.7 L1040.2,1379.5 L1042.2,1381.3 L1044.2,1383.0 L1046.2,1384.9 L1048.2,1386.7 L1050.2,1388.6 L1052.2,1390.5 L1054.2,1392.5 L1056.2,1394.5 L1058.2,1396.5 L1060.2,1398.4 L1062.2,1400.3 L1064.2,1402.1 L1066.2,1403.9 L1068.2,1405.6 L1070.2,1407.0 L1072.2,1408.3 L1074.2,1409.6 L1076.2,1410.9 L1078.2,1412.2 L1080.2,1413.7 L1082.2,1415.4 L1084.2,1417.5 L1086.2,1420.4 L1088.2,1424.1 L1090.2,1428.1 L1092.2,1432.1 L1094.2,1435.9 L1096.2,1439.0 L1098.2,1441.4 L1100.2,1443.6 L1102.2,1445.5 L1104.2,1447.4 L1106.2,1449.2 L1108.2,1451.0 L1110.2,1453.0 L1112.2,1455.1 L1114.2,1457.4 L1116.2,1459.8 L1118.2,1462.2 L1120.2,1464.6 L1122.2,1467.1 L1124.2,1469.6 L1126.2,1472.1 L1128.2,1474.5 L1130.2,1477.0 L1132.2,1479.7 L1134.2,1482.6 L1136.2,1485.1 L1138.2,1486.9 L1140.2,1487.8 L1142.2,1488.2 L1144.2,1488.5 L1146.2,1488.8 L1148.2,1489.1 L1150.2,1489.7 L1152.2,1491.1 L1154.2,1493.3 L1156.2,1496.0 L1158.2,1498.8 L1160.2,1501.6 L1162.2,1504.8 L1164.2,1507.8 L1166.2,1510.4 L1168.2,1512.7 L1170.2,1514.9 L1172.2,1517.0 L1174.2,1519.3 L1176.2,1521.8 L1178.2,1524.3 L1180.2,1526.7 L1182.2,1528.9 L1184.2,1530.8 L1186.2,1532.8 L1188.2,1534.6 L1190.2,1535.6 L1192.2,1535.6 L1194.2,1535.1 L1196.2,1534.2 L1198.2,1533.0 L1200.2,1531.3 L1202.2,1528.3 L1204.2,1525.5 L1206.2,1523.0 L1208.2,1520.1 L1210.2,1515.1 L1212.2,1509.9 L1214.2,1508.5 L1216.2,1507.8 L1218.2,1507.5 L1220.2,1508.1 L1222.2,1510.5 L1224.2,1510.3 L1226.2,1509.4 L1228.2,1508.5 L1230.2,1507.3 L1232.2,1505.8 L1234.2,1503.9 L1236.2,1501.6 L1238.2,1498.0 L1240.2,1492.8 L1242.2,1488.2 L1244.2,1483.9 L1246.2,1479.9 L1248.2,1476.6 L1250.2,1473.7 L1252.2,1471.3 L1254.2,1469.6 L1256.2,1468.4 L1258.2,1467.5 L1260.2,1466.6 L1262.2,1465.5 L1264.2,1464.0 L1266.2,1461.4 L1268.2,1457.0 L1270.2,1452.8 L1272.2,1449.0 L1274.2,1445.1 L1276.2,1440.6 L1278.2,1434.7 L1280.2,1428.4 L1282.2,1421.5 L1284.2,1417.5 L1286.2,1416.6 L1288.2,1416.0 L1290.2,1415.6 L1292.2,1415.1 L1294.2,1414.2 L1296.2,1413.2 L1298.2,1412.1 L1300.2,1410.8 L1302.2,1409.3 L1304.2,1407.6 L1306.2,1405.4 L1308.2,1402.5 L1310.2,1399.4 L1312.2,1395.7 L1314.2,1391.4 L1316.2,1387.3 L1318.2,1383.9 L1320.2,1380.8 L1322.2,1378.0 L1324.2,1375.6 L1326.2,1373.4 L1328.2,1371.4 L1330.2,1369.7 L1332.2,1368.2 L1334.2,1366.9 L1336.2,1365.8 L1338.2,1364.5 L1340.2,1362.9 L1342.2,1360.8 L1344.2,1358.0 L1346.2,1354.9 L1348.2,1351.8 L1350.2,1348.4 L1352.2,1345.0 L1354.2,1342.0 L1356.2,1339.0 L1358.2,1336.3 L1360.2,1333.7 L1362.2,1331.5 L1364.2,1329.8 L1366.2,1328.3 L1368.2,1326.8 L1370.2,1325.1 L1372.2,1322.9 L1374.2,1320.4 L1377.5,1315.7" fill="none" stroke="#FFC000" stroke-width="2.8" stroke-linecap="round" stroke-linejoin="round" stroke-dasharray="10.0 14.0"/>
<path d="M138.2,1129.0 L140.2,1128.6 L142.2,1128.3 L144.2,1128.0 L146.2,1127.8 L148.2,1127.6 L150.2,1127.5 L152.2,1127.5 L154.2,1127.6 L156.2,1127.8 L158.2,1128.0 L160.2,1128.3 L162.2,1128.6 L164.2,1128.9 L166.2,1129.2 L168.2,1129.4 L170.2,1129.6 L172.2,1129.6 L174.2,1129.6 L176.2,1129.6 L178.2,1129.6 L180.2,1129.5 L182.2,1129.4 L184.2,1129.3 L186.2,1129.2 L188.2,1129.1 L190.2,1129.0 L192.2,1128.9 L194.2,1128.8 L196.2,1128.7 L198.2,1128.6 L200.2,1128.6 L202.2,1128.5 L204.2,1128.5 L206.2,1128.4 L208.2,1128.4 L210.2,1128.3 L212.2,1128.3 L214.2,1128.3 L216.2,1128.2 L218.2,1128.2 L220.2,1128.2 L222.2,1128.2 L224.2,1128.1 L226.2,1128.1 L228.2,1128.2 L230.2,1128.3 L232.2,1128.4 L234.2,1128.6 L236.2,1128.8 L238.2,1129.0 L240.2,1129.2 L242.2,1129.4 L244.2,1129.5 L246.2,1129.6 L248.2,1129.6 L250.2,1129.6 L252.2,1129.6 L254.2,1129.6 L256.2,1129.6 L258.2,1129.6 L260.2,1129.6 L262.2,1129.6 L264.2,1129.6 L266.2,1129.6 L268.2,1129.6 L270.2,1129.5 L272.2,1129.4 L274.2,1129.3 L276.2,1129.2 L278.2,1129.1 L280.2,1128.9 L282.2,1128.8 L284.2,1128.7 L286.2,1128.5 L288.2,1128.4 L290.2,1128.3 L292.2,1128.2 L294.2,1128.1 L296.2,1128.0 L298.2,1127.9 L300.2,1127.8 L302.2,1127.7 L304.2,1127.5 L306.2,1127.4 L308.2,1127.3 L310.2,1127.2 L312.2,1127.1 L314.2,1127.0 L316.2,1126.9 L318.2,1126.8 L320.2,1126.7 L322.2,1126.5 L324.2,1126.4 L326.2,1126.3 L328.2,1126.1 L330.2,1126.0 L332.2,1125.8 L334.2,1125.7 L336.2,1125.5 L338.2,1125.3 L340.2,1125.2 L342.2,1125.0 L344.2,1124.8 L346.2,1124.7 L348.2,1124.6 L350.2,1124.5 L352.2,1124.4 L354.2,1124.3 L356.2,1124.3 L358.2,1124.2 L360.2,1124.2 L362.2,1124.2 L364.2,1124.1 L366.2,1124.1 L368.2,1124.1 L370.2,1124.1 L372.2,1124.0 L374.2,1124.0 L376.2,1124.0 L378.2,1124.0 L380.2,1123.9 L382.2,1123.9 L384.2,1123.9 L386.2,1123.8 L388.2,1123.8 L390.2,1123.7 L392.2,1123.6 L394.2,1123.5 L396.2,1123.4 L398.2,1123.2 L400.2,1123.1 L402.2,1123.0 L404.2,1122.8 L406.2,1122.7 L408.2,1122.6 L410.2,1122.5 L412.2,1122.4 L414.2,1122.3 L416.2,1122.2 L418.2,1122.2 L420.2,1122.1 L422.2,1122.1 L424.2,1122.1 L426.2,1122.1 L428.2,1122.1 L430.2,1122.1 L432.2,1122.1 L434.2,1122.1 L436.2,1122.1 L438.2,1122.1 L440.2,1122.1 L442.2,1122.1 L444.2,1122.1 L446.2,1122.1 L448.2,1122.1 L450.2,1122.2 L452.2,1122.2 L454.2,1122.2 L456.2,1122.3 L458.2,1122.3 L460.2,1122.4 L462.2,1122.5 L464.2,1122.6 L466.2,1122.7 L468.2,1123.0 L470.2,1123.3 L472.2,1123.6 L474.2,1123.9 L476.2,1124.1 L478.2,1124.3 L480.2,1124.3 L482.2,1124.1 L484.2,1123.8 L486.2,1123.5 L488.2,1123.3 L490.2,1123.2 L492.2,1123.3 L494.2,1123.4 L496.2,1123.6 L498.2,1123.8 L500.2,1124.1 L502.2,1124.3 L504.2,1124.6 L506.2,1124.9 L508.2,1125.2 L510.2,1125.5 L512.2,1125.7 L514.2,1126.0 L516.2,1126.2 L518.2,1126.5 L520.2,1126.8 L522.2,1127.1 L524.2,1127.5 L526.2,1128.0 L528.2,1128.6 L530.2,1129.4 L532.2,1130.3 L534.2,1131.1 L536.2,1131.9 L538.2,1132.6 L540.2,1133.1 L542.2,1133.6 L544.2,1134.2 L546.2,1134.6 L548.2,1134.9 L550.2,1135.0 L552.2,1134.9 L554.2,1134.7 L556.2,1134.5 L558.2,1134.2 L560.2,1134.0 L562.2,1133.9 L564.2,1134.0 L566.2,1134.2 L568.2,1134.5 L570.2,1134.9 L572.2,1135.4 L574.2,1135.9 L576.2,1136.7 L578.2,1137.7 L580.2,1138.6 L582.2,1139.3 L584.2,1139.9 L586.2,1140.4 L588.2,1140.9 L590.2,1141.4 L592.2,1141.8 L594.2,1142.3 L596.2,1142.7 L598.2,1143.2 L600.2,1143.7 L602.2,1144.2 L604.2,1144.8 L606.2,1145.5 L608.2,1146.3 L610.2,1147.1 L612.2,1148.0 L614.2,1148.9 L616.2,1149.8 L618.2,1150.9 L620.2,1151.9 L622.2,1153.0 L624.2,1153.9 L626.2,1154.8 L628.2,1155.6 L630.2,1156.3 L632.2,1157.0 L634.2,1157.7 L636.2,1158.4 L638.2,1159.0 L640.2,1159.7 L642.2,1160.3 L644.2,1161.0 L646.2,1161.7 L648.2,1162.4 L650.2,1163.1 L652.2,1163.9 L654.2,1164.7 L656.2,1165.6 L658.2,1166.7 L660.2,1168.1 L662.2,1169.8 L664.2,1171.6 L666.2,1173.3 L668.2,1174.8 L670.2,1175.8 L672.2,1176.5 L674.2,1177.1 L676.2,1177.6 L678.2,1178.1 L680.2,1178.5 L682.2,1179.0 L684.2,1179.7 L686.2,1180.5 L688.2,1181.7 L690.2,1182.9 L692.2,1184.3 L694.2,1186.1 L696.2,1187.9 L698.2,1189.5 L700.2,1190.5 L702.2,1190.7 L704.2,1190.5 L706.2,1190.4 L708.2,1190.4 L710.2,1192.8 L712.2,1196.9 L714.2,1200.3 L716.2,1202.2 L718.2,1204.0 L720.2,1205.5 L722.2,1206.9 L724.2,1208.2 L726.2,1209.4 L728.2,1210.5 L730.2,1211.5 L732.2,1212.5 L734.2,1213.4 L736.2,1214.2 L738.2,1214.9 L740.2,1215.7 L742.2,1216.6 L744.2,1217.5 L746.2,1218.4 L748.2,1219.4 L750.2,1220.4 L752.2,1221.4 L754.2,1222.6 L756.2,1223.7 L758.2,1225.0 L760.2,1226.5 L762.2,1228.2 L764.2,1230.0 L766.2,1231.7 L768.2,1233.4 L770.2,1234.8 L772.2,1235.9 L774.2,1236.9 L776.2,1237.8 L778.2,1238.7 L780.2,1239.7 L782.2,1240.9 L784.2,1242.1 L786.2,1243.5 L788.2,1244.8 L790.2,1246.2 L792.2,1247.6 L794.2,1249.0 L796.2,1250.5 L798.2,1252.2 L800.2,1253.9 L802.2,1255.5 L804.2,1256.9 L806.2,1258.2 L808.2,1259.2 L810.2,1259.8 L812.2,1260.3 L814.2,1260.7 L816.2,1261.1 L818.2,1261.4 L820.2,1261.8 L822.2,1262.2 L824.2,1262.7 L826.2,1263.3 L828.2,1264.1 L830.2,1265.0 L832.2,1266.1 L834.2,1267.3 L836.2,1268.5 L838.2,1269.8 L840.2,1271.1 L842.2,1272.7 L844.2,1274.4 L846.2,1276.1 L848.2,1277.7 L850.2,1279.0 L852.2,1280.0 L854.2,1280.8 L856.2,1281.5 L858.2,1282.1 L860.2,1282.7 L862.2,1283.3 L864.2,1283.8 L866.2,1284.3 L868.2,1284.7 L870.2,1285.2 L872.2,1285.8 L874.2,1286.6 L876.2,1287.7 L878.2,1288.9 L880.2,1290.2 L882.2,1291.5 L884.2,1293.0 L886.2,1294.8 L888.2,1296.6 L890.2,1298.4 L892.2,1299.9 L894.2,1301.0 L896.2,1301.8 L898.2,1302.5 L900.2,1303.0 L902.2,1303.5 L904.2,1304.1 L906.2,1304.6 L908.2,1305.2 L910.2,1305.8 L912.2,1306.3 L914.2,1307.0 L916.2,1307.7 L918.2,1308.5 L920.2,1309.5 L922.2,1310.5 L924.2,1311.6 L926.2,1312.7 L928.2,1313.7 L930.2,1314.8 L932.2,1315.8 L934.2,1316.9 L936.2,1317.9 L938.2,1319.0 L940.2,1320.0 L942.2,1321.1 L944.2,1322.1 L946.2,1323.4 L948.2,1324.7 L950.2,1325.7 L952.2,1326.1 L954.2,1325.9 L956.2,1325.6 L958.2,1325.2 L960.2,1325.0 L962.2,1325.6 L964.2,1327.5 L966.2,1329.6 L968.2,1331.0 L970.2,1332.1 L972.2,1333.1 L974.2,1334.0 L976.2,1334.9 L978.2,1335.9 L980.2,1337.0 L982.2,1338.2 L984.2,1339.3 L986.2,1340.3 L988.2,1341.0 L990.2,1341.4 L992.2,1341.6 L994.2,1341.9 L996.2,1342.0 L998.2,1342.2 L1000.2,1342.3 L1002.2,1342.6 L1004.2,1342.8 L1006.2,1343.2 L1008.2,1344.1 L1010.2,1345.4 L1012.2,1346.7 L1014.2,1347.9 L1016.2,1349.2 L1018.2,1350.4 L1020.2,1351.6 L1022.2,1352.8 L1024.2,1354.0 L1026.2,1355.0 L1028.2,1355.9 L1030.2,1356.7 L1032.2,1357.6 L1034.2,1358.5 L1036.2,1359.3 L1038.2,1359.9 L1040.2,1360.4 L1042.2,1360.6 L1044.2,1360.6 L1046.2,1360.5 L1048.2,1360.2 L1050.2,1360.0 L1052.2,1359.8 L1054.2,1359.6 L1056.2,1359.6 L1058.2,1360.5 L1060.2,1362.2 L1062.2,1364.5 L1064.2,1367.0 L1066.2,1369.5 L1068.2,1371.5 L1070.2,1373.1 L1072.2,1374.8 L1074.2,1376.5 L1076.2,1378.0 L1078.2,1379.2 L1080.2,1380.1 L1082.2,1380.5 L1084.2,1380.6 L1086.2,1380.8 L1088.2,1380.8 L1090.2,1380.9 L1092.2,1381.0 L1094.2,1381.2 L1096.2,1381.4 L1098.2,1382.2 L1100.2,1384.0 L1102.2,1386.4 L1104.2,1389.0 L1106.2,1391.3 L1108.2,1393.0 L1110.2,1394.7 L1112.2,1396.4 L1114.2,1397.8 L1116.2,1399.0 L1118.2,1399.7 L1120.2,1400.2 L1122.2,1400.5 L1124.2,1400.8 L1126.2,1401.1 L1128.2,1401.5 L1130.2,1402.1 L1132.2,1403.3 L1134.2,1404.7 L1136.2,1406.3 L1138.2,1407.7 L1140.2,1408.8 L1142.2,1409.5 L1144.2,1409.9 L1146.2,1410.1 L1148.2,1410.4 L1150.2,1410.6 L1152.2,1410.9 L1154.2,1411.4 L1156.2,1412.4 L1158.2,1414.0 L1160.2,1416.1 L1162.2,1418.3 L1164.2,1420.3 L1166.2,1422.3 L1168.2,1424.5 L1170.2,1426.5 L1172.2,1427.5 L1174.2,1427.3 L1176.2,1426.8 L1178.2,1426.1 L1180.2,1425.6 L1182.2,1425.4 L1184.2,1425.5 L1186.2,1425.7 L1188.2,1425.3 L1190.2,1424.4 L1192.2,1423.5 L1194.2,1422.7 L1196.2,1421.9 L1198.2,1421.8 L1200.2,1422.0 L1202.2,1422.3 L1204.2,1422.8 L1206.2,1423.5 L1208.2,1424.0 L1210.2,1424.2 L1212.2,1423.5 L1214.2,1421.9 L1216.2,1419.9 L1218.2,1417.9 L1220.2,1416.1 L1222.2,1415.1 L1224.2,1414.5 L1226.2,1414.1 L1228.2,1413.6 L1230.2,1413.1 L1232.2,1412.5 L1234.2,1411.9 L1236.2,1411.3 L1238.2,1410.5 L1240.2,1409.9 L1242.2,1409.4 L1244.2,1408.9 L1246.2,1408.5 L1248.2,1408.0 L1250.2,1407.2 L1252.2,1405.9 L1254.2,1405.0 L1256.2,1404.4 L1258.2,1403.9 L1260.2,1403.4 L1262.2,1402.8 L1264.2,1402.1 L1266.2,1401.3 L1268.2,1400.5 L1270.2,1399.6 L1272.2,1398.5 L1274.2,1397.2 L1276.2,1395.5 L1278.2,1393.6 L1280.2,1391.6 L1282.2,1389.5 L1284.2,1387.3 L1286.2,1385.0 L1288.2,1382.8 L1290.2,1380.7 L1292.2,1378.8 L1294.2,1376.9 L1296.2,1375.4 L1298.2,1374.6 L1300.2,1374.2 L1302.2,1374.0 L1304.2,1373.8 L1306.2,1373.6 L1308.2,1373.2 L1310.2,1372.4 L1312.2,1370.7 L1314.2,1368.5 L1316.2,1366.5 L1318.2,1364.1 L1320.2,1361.8 L1322.2,1359.8 L1324.2,1358.0 L1326.2,1356.4 L1328.2,1355.0 L1330.2,1353.6 L1332.2,1352.3 L1334.2,1351.1 L1336.2,1350.0 L1338.2,1348.9 L1340.2,1347.9 L1342.2,1347.0 L1344.2,1346.0 L1346.2,1345.0 L1348.2,1343.8 L1350.2,1342.6 L1352.2,1341.3 L1354.2,1340.0 L1356.2,1338.6 L1358.2,1337.1 L1360.2,1335.7 L1362.2,1334.3 L1364.2,1333.0 L1366.2,1331.7 L1368.2,1330.2 L1370.2,1328.4 L1372.2,1326.5 L1374.2,1324.3 L1377.5,1320.4" fill="none" stroke="#000000" stroke-width="2.8" stroke-linecap="round" stroke-linejoin="round"/>
</g>
<rect x="875.5" y="869" width="493.5" height="240.5" fill="#fff"/>
<g font-family="'Liberation Serif', serif" font-weight="bold" font-size="35.5" fill="#595959">
<line x1="894.1" y1="908.6" x2="926.4" y2="908.6" stroke="#4472C4" stroke-width="3.3" stroke-linecap="round"/>
<text x="930.2" y="918.9">port 1</text>
<line x1="1059.2" y1="908.6" x2="1091.3" y2="908.6" stroke="#7EC942" stroke-width="3.3" stroke-linecap="round"/>
<text x="1095.2" y="918.9">port 2</text>
<line x1="1224.0" y1="908.6" x2="1256.1" y2="908.6" stroke="#FF0000" stroke-width="3.3" stroke-linecap="round"/>
<text x="1260.0" y="918.9">port 3</text>
<line x1="894.1" y1="988.3" x2="926.4" y2="988.3" stroke="#FFC000" stroke-width="3.3" stroke-linecap="round"/>
<text x="930.2" y="998.6">port 4</text>
<line x1="1058.7" y1="988.3" x2="1069.3" y2="988.3" stroke="#0070C0" stroke-width="3.3" stroke-linecap="round"/>
<line x1="1083.0" y1="988.3" x2="1092.4" y2="988.3" stroke="#0070C0" stroke-width="3.3" stroke-linecap="round"/>
<text x="1095.2" y="998.6">port 5</text>
<line x1="1223.5" y1="988.3" x2="1234.1" y2="988.3" stroke="#7EC942" stroke-width="3.3" stroke-linecap="round"/>
<line x1="1247.8" y1="988.3" x2="1257.2" y2="988.3" stroke="#7EC942" stroke-width="3.3" stroke-linecap="round"/>
<text x="1260.0" y="998.6">port 6</text>
<line x1="893.6" y1="1069.7" x2="904.4" y2="1069.7" stroke="#FF0000" stroke-width="3.3" stroke-linecap="round"/>
<line x1="917.9" y1="1069.7" x2="927.5" y2="1069.7" stroke="#FF0000" stroke-width="3.3" stroke-linecap="round"/>
<text x="930.2" y="1080.0">port 7</text>
<line x1="1058.7" y1="1069.7" x2="1069.3" y2="1069.7" stroke="#FFC000" stroke-width="3.3" stroke-linecap="round"/>
<line x1="1083.0" y1="1069.7" x2="1092.4" y2="1069.7" stroke="#FFC000" stroke-width="3.3" stroke-linecap="round"/>
<text x="1095.2" y="1080.0">port 8</text>
<line x1="1224.0" y1="1069.7" x2="1256.1" y2="1069.7" stroke="#000000" stroke-width="3.3" stroke-linecap="round"/>
<text x="1260.0" y="1080.0">port 9</text>
</g>
<g font-family="'Liberation Sans', sans-serif" font-weight="bold" font-size="33.5" fill="#595959">
<text x="137.2" y="1644.0" text-anchor="middle" textLength="45" lengthAdjust="spacingAndGlyphs">7.7</text>
<text x="261.1" y="1644.0" text-anchor="middle" textLength="45" lengthAdjust="spacingAndGlyphs">7.8</text>
<text x="385.1" y="1644.0" text-anchor="middle" textLength="45" lengthAdjust="spacingAndGlyphs">7.9</text>
<text x="509.0" y="1644.0" text-anchor="middle" textLength="16.8" lengthAdjust="spacingAndGlyphs">8</text>
<text x="632.9" y="1644.0" text-anchor="middle" textLength="45" lengthAdjust="spacingAndGlyphs">8.1</text>
<text x="756.8" y="1644.0" text-anchor="middle" textLength="45" lengthAdjust="spacingAndGlyphs">8.2</text>
<text x="880.8" y="1644.0" text-anchor="middle" textLength="45" lengthAdjust="spacingAndGlyphs">8.3</text>
<text x="1004.7" y="1644.0" text-anchor="middle" textLength="45" lengthAdjust="spacingAndGlyphs">8.4</text>
<text x="1128.6" y="1644.0" text-anchor="middle" textLength="45" lengthAdjust="spacingAndGlyphs">8.5</text>
<text x="1252.6" y="1644.0" text-anchor="middle" textLength="45" lengthAdjust="spacingAndGlyphs">8.6</text>
<text x="1376.5" y="1644.0" text-anchor="middle" textLength="45" lengthAdjust="spacingAndGlyphs">8.7</text>
</g>
<g font-family="'Liberation Sans', sans-serif" font-weight="bold" font-size="32" fill="#595959">
<text x="105.2" y="874.0" text-anchor="end" textLength="16.8" lengthAdjust="spacingAndGlyphs">0</text>
<text x="105.2" y="994.6" text-anchor="end" textLength="28.5" lengthAdjust="spacingAndGlyphs">-5</text>
<text x="105.2" y="1115.2" text-anchor="end" textLength="46.6" lengthAdjust="spacingAndGlyphs">-10</text>
<text x="105.2" y="1235.8" text-anchor="end" textLength="46.6" lengthAdjust="spacingAndGlyphs">-15</text>
<text x="105.2" y="1356.4" text-anchor="end" textLength="46.6" lengthAdjust="spacingAndGlyphs">-20</text>
<text x="105.2" y="1477.0" text-anchor="end" textLength="46.6" lengthAdjust="spacingAndGlyphs">-25</text>
<text x="105.2" y="1597.7" text-anchor="end" textLength="46.6" lengthAdjust="spacingAndGlyphs">-30</text>
</g>
<g transform="translate(27.5,1232) rotate(-90)" font-family="'Liberation Sans', sans-serif" font-weight="bold" fill="#595959" text-anchor="middle">
<text x="-59.1" y="-1.0" font-size="34.5">|</text>
<text x="-43.8" y="0" font-size="32.5" textLength="16.0" lengthAdjust="spacingAndGlyphs">S</text>
<text x="-29.0" y="6.4" font-size="22.5" textLength="9.6" lengthAdjust="spacingAndGlyphs">ii</text>
<text x="-13.7" y="-1.0" font-size="34.5">|</text>
<text x="32.7" y="0" font-size="32.5" textLength="61.3" lengthAdjust="spacingAndGlyphs">(dB)</text>
</g>
<text x="758" y="1688" text-anchor="middle" font-family="'Liberation Sans', sans-serif" font-weight="bold" font-size="30.5" fill="#595959" textLength="239" lengthAdjust="spacingAndGlyphs">Frequency (GHz)</text>
<text x="700" y="1733" text-anchor="middle" font-family="'Liberation Serif', serif" font-size="40" fill="#000">(b)</text>
</g>
</svg>
</body></html>
